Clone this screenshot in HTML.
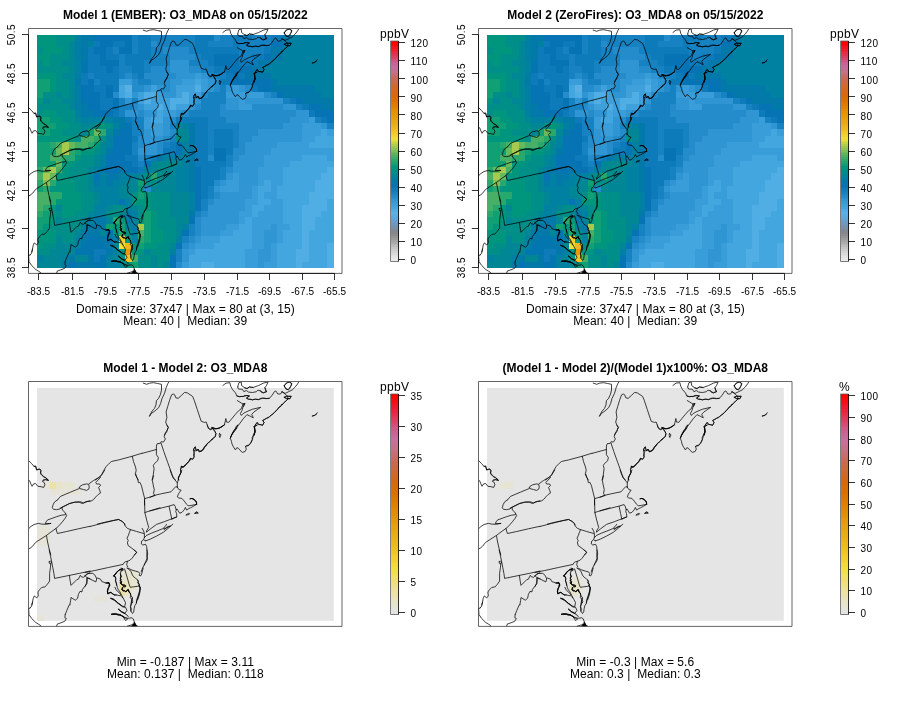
<!DOCTYPE html>
<html lang="en"><head><meta charset="utf-8"><title>O3_MDA8 model comparison</title>
<style>
html,body{margin:0;padding:0;background:#fff}
body{width:900px;height:706px;overflow:hidden}
svg{display:block;font-family:"Liberation Sans", sans-serif;fill:#000}
svg text{fill:#000}
</style></head><body>
<svg width="900" height="706" viewBox="0 0 900 706">
<rect width="900" height="706" fill="#fff"/>
<defs><clipPath id="clip"><rect x="28.5" y="28.5" width="313.5" height="244.9"/></clipPath></defs>
<g transform="translate(0,0)"><g shape-rendering="crispEdges"><rect x="37.00" y="34.90" width="19.44" height="6.79" fill="#00967e"/><rect x="55.94" y="34.90" width="19.44" height="6.79" fill="#008e88"/><rect x="74.89" y="34.90" width="6.81" height="6.79" fill="#0081a1"/><rect x="81.20" y="34.90" width="13.13" height="6.79" fill="#0379aa"/><rect x="93.83" y="34.90" width="38.39" height="6.79" fill="#0674b4"/><rect x="131.72" y="34.90" width="6.81" height="6.79" fill="#1782c2"/><rect x="138.04" y="34.90" width="13.13" height="6.79" fill="#0d7aba"/><rect x="150.67" y="34.90" width="44.70" height="6.79" fill="#1782c2"/><rect x="194.87" y="34.90" width="19.44" height="6.79" fill="#0d7aba"/><rect x="213.82" y="34.90" width="6.81" height="6.79" fill="#248cca"/><rect x="220.13" y="34.90" width="13.13" height="6.79" fill="#1782c2"/><rect x="232.76" y="34.90" width="19.44" height="6.79" fill="#0d7aba"/><rect x="251.71" y="34.90" width="19.44" height="6.79" fill="#1782c2"/><rect x="270.65" y="34.90" width="13.13" height="6.79" fill="#0d7aba"/><rect x="283.28" y="34.90" width="6.81" height="6.79" fill="#0379aa"/><rect x="289.60" y="34.90" width="44.70" height="6.79" fill="#0081a1"/><rect x="37.00" y="41.19" width="19.44" height="6.79" fill="#00967e"/><rect x="55.94" y="41.19" width="13.13" height="6.79" fill="#008e88"/><rect x="68.57" y="41.19" width="6.81" height="6.79" fill="#008694"/><rect x="74.89" y="41.19" width="6.81" height="6.79" fill="#027da6"/><rect x="81.20" y="41.19" width="6.81" height="6.79" fill="#0379aa"/><rect x="87.52" y="41.19" width="6.81" height="6.79" fill="#0081a1"/><rect x="93.83" y="41.19" width="6.81" height="6.79" fill="#0d7aba"/><rect x="100.15" y="41.19" width="13.13" height="6.79" fill="#0674b4"/><rect x="112.78" y="41.19" width="13.13" height="6.79" fill="#0d7aba"/><rect x="125.41" y="41.19" width="6.81" height="6.79" fill="#0674b4"/><rect x="131.72" y="41.19" width="6.81" height="6.79" fill="#1782c2"/><rect x="138.04" y="41.19" width="13.13" height="6.79" fill="#0d7aba"/><rect x="150.67" y="41.19" width="6.81" height="6.79" fill="#248cca"/><rect x="156.98" y="41.19" width="38.39" height="6.79" fill="#1782c2"/><rect x="194.87" y="41.19" width="13.13" height="6.79" fill="#0d7aba"/><rect x="207.50" y="41.19" width="25.76" height="6.79" fill="#1782c2"/><rect x="232.76" y="41.19" width="6.81" height="6.79" fill="#0d7aba"/><rect x="239.08" y="41.19" width="32.07" height="6.79" fill="#1782c2"/><rect x="270.65" y="41.19" width="13.13" height="6.79" fill="#0674b4"/><rect x="283.28" y="41.19" width="6.81" height="6.79" fill="#0379aa"/><rect x="289.60" y="41.19" width="44.70" height="6.79" fill="#0081a1"/><rect x="37.00" y="47.49" width="6.81" height="6.79" fill="#008e88"/><rect x="43.31" y="47.49" width="19.44" height="6.79" fill="#00967e"/><rect x="62.26" y="47.49" width="6.81" height="6.79" fill="#008e88"/><rect x="68.57" y="47.49" width="6.81" height="6.79" fill="#008694"/><rect x="74.89" y="47.49" width="6.81" height="6.79" fill="#027da6"/><rect x="81.20" y="47.49" width="6.81" height="6.79" fill="#0379aa"/><rect x="87.52" y="47.49" width="6.81" height="6.79" fill="#0d7aba"/><rect x="93.83" y="47.49" width="13.13" height="6.79" fill="#0674b4"/><rect x="106.46" y="47.49" width="6.81" height="6.79" fill="#0d7aba"/><rect x="112.78" y="47.49" width="6.81" height="6.79" fill="#1782c2"/><rect x="119.09" y="47.49" width="13.13" height="6.79" fill="#0674b4"/><rect x="131.72" y="47.49" width="6.81" height="6.79" fill="#1782c2"/><rect x="138.04" y="47.49" width="13.13" height="6.79" fill="#0d7aba"/><rect x="150.67" y="47.49" width="13.13" height="6.79" fill="#1782c2"/><rect x="163.30" y="47.49" width="25.76" height="6.79" fill="#248cca"/><rect x="188.56" y="47.49" width="6.81" height="6.79" fill="#1782c2"/><rect x="194.87" y="47.49" width="44.70" height="6.79" fill="#0d7aba"/><rect x="239.08" y="47.49" width="25.76" height="6.79" fill="#1782c2"/><rect x="264.34" y="47.49" width="6.81" height="6.79" fill="#0d7aba"/><rect x="270.65" y="47.49" width="13.13" height="6.79" fill="#0379aa"/><rect x="283.28" y="47.49" width="51.02" height="6.79" fill="#0081a1"/><rect x="37.00" y="53.78" width="13.13" height="6.79" fill="#00967e"/><rect x="49.63" y="53.78" width="19.44" height="6.79" fill="#008e88"/><rect x="68.57" y="53.78" width="6.81" height="6.79" fill="#008694"/><rect x="74.89" y="53.78" width="6.81" height="6.79" fill="#027da6"/><rect x="81.20" y="53.78" width="6.81" height="6.79" fill="#0379aa"/><rect x="87.52" y="53.78" width="13.13" height="6.79" fill="#0d7aba"/><rect x="100.15" y="53.78" width="6.81" height="6.79" fill="#0674b4"/><rect x="106.46" y="53.78" width="13.13" height="6.79" fill="#0d7aba"/><rect x="119.09" y="53.78" width="6.81" height="6.79" fill="#1782c2"/><rect x="125.41" y="53.78" width="25.76" height="6.79" fill="#0d7aba"/><rect x="150.67" y="53.78" width="19.44" height="6.79" fill="#1782c2"/><rect x="169.61" y="53.78" width="25.76" height="6.79" fill="#248cca"/><rect x="194.87" y="53.78" width="6.81" height="6.79" fill="#1782c2"/><rect x="201.19" y="53.78" width="13.13" height="6.79" fill="#0d7aba"/><rect x="213.82" y="53.78" width="25.76" height="6.79" fill="#0674b4"/><rect x="239.08" y="53.78" width="13.13" height="6.79" fill="#1782c2"/><rect x="251.71" y="53.78" width="13.13" height="6.79" fill="#0d7aba"/><rect x="264.34" y="53.78" width="6.81" height="6.79" fill="#0674b4"/><rect x="270.65" y="53.78" width="13.13" height="6.79" fill="#0379aa"/><rect x="283.28" y="53.78" width="51.02" height="6.79" fill="#0081a1"/><rect x="37.00" y="60.08" width="6.81" height="6.79" fill="#008e88"/><rect x="43.31" y="60.08" width="6.81" height="6.79" fill="#00967e"/><rect x="49.63" y="60.08" width="13.13" height="6.79" fill="#008e88"/><rect x="62.26" y="60.08" width="13.13" height="6.79" fill="#008694"/><rect x="74.89" y="60.08" width="6.81" height="6.79" fill="#0081a1"/><rect x="81.20" y="60.08" width="6.81" height="6.79" fill="#0476af"/><rect x="87.52" y="60.08" width="13.13" height="6.79" fill="#0d7aba"/><rect x="100.15" y="60.08" width="19.44" height="6.79" fill="#0674b4"/><rect x="119.09" y="60.08" width="6.81" height="6.79" fill="#1782c2"/><rect x="125.41" y="60.08" width="19.44" height="6.79" fill="#0d7aba"/><rect x="144.35" y="60.08" width="25.76" height="6.79" fill="#1782c2"/><rect x="169.61" y="60.08" width="19.44" height="6.79" fill="#3096d3"/><rect x="188.56" y="60.08" width="19.44" height="6.79" fill="#1782c2"/><rect x="207.50" y="60.08" width="6.81" height="6.79" fill="#0d7aba"/><rect x="213.82" y="60.08" width="25.76" height="6.79" fill="#0674b4"/><rect x="239.08" y="60.08" width="19.44" height="6.79" fill="#0d7aba"/><rect x="258.02" y="60.08" width="13.13" height="6.79" fill="#0379aa"/><rect x="270.65" y="60.08" width="63.65" height="6.79" fill="#0081a1"/><rect x="37.00" y="66.37" width="32.07" height="6.79" fill="#008e88"/><rect x="68.57" y="66.37" width="6.81" height="6.79" fill="#008694"/><rect x="74.89" y="66.37" width="6.81" height="6.79" fill="#0081a1"/><rect x="81.20" y="66.37" width="6.81" height="6.79" fill="#0476af"/><rect x="87.52" y="66.37" width="19.44" height="6.79" fill="#0d7aba"/><rect x="106.46" y="66.37" width="6.81" height="6.79" fill="#0674b4"/><rect x="112.78" y="66.37" width="6.81" height="6.79" fill="#0d7aba"/><rect x="119.09" y="66.37" width="13.13" height="6.79" fill="#1782c2"/><rect x="131.72" y="66.37" width="13.13" height="6.79" fill="#0d7aba"/><rect x="144.35" y="66.37" width="6.81" height="6.79" fill="#1782c2"/><rect x="150.67" y="66.37" width="19.44" height="6.79" fill="#248cca"/><rect x="169.61" y="66.37" width="19.44" height="6.79" fill="#3096d3"/><rect x="188.56" y="66.37" width="13.13" height="6.79" fill="#248cca"/><rect x="201.19" y="66.37" width="13.13" height="6.79" fill="#1782c2"/><rect x="213.82" y="66.37" width="13.13" height="6.79" fill="#0d7aba"/><rect x="226.45" y="66.37" width="25.76" height="6.79" fill="#0674b4"/><rect x="251.71" y="66.37" width="13.13" height="6.79" fill="#0379aa"/><rect x="264.34" y="66.37" width="69.96" height="6.79" fill="#0081a1"/><rect x="37.00" y="72.67" width="19.44" height="6.79" fill="#00967e"/><rect x="55.94" y="72.67" width="6.81" height="6.79" fill="#008e88"/><rect x="62.26" y="72.67" width="13.13" height="6.79" fill="#008694"/><rect x="74.89" y="72.67" width="6.81" height="6.79" fill="#027da6"/><rect x="81.20" y="72.67" width="6.81" height="6.79" fill="#0d7aba"/><rect x="87.52" y="72.67" width="6.81" height="6.79" fill="#1782c2"/><rect x="93.83" y="72.67" width="25.76" height="6.79" fill="#0d7aba"/><rect x="119.09" y="72.67" width="6.81" height="6.79" fill="#1782c2"/><rect x="125.41" y="72.67" width="6.81" height="6.79" fill="#248cca"/><rect x="131.72" y="72.67" width="6.81" height="6.79" fill="#1782c2"/><rect x="138.04" y="72.67" width="6.81" height="6.79" fill="#0d7aba"/><rect x="144.35" y="72.67" width="32.07" height="6.79" fill="#248cca"/><rect x="175.93" y="72.67" width="19.44" height="6.79" fill="#3096d3"/><rect x="194.87" y="72.67" width="6.81" height="6.79" fill="#399dd9"/><rect x="201.19" y="72.67" width="6.81" height="6.79" fill="#3096d3"/><rect x="207.50" y="72.67" width="6.81" height="6.79" fill="#248cca"/><rect x="213.82" y="72.67" width="13.13" height="6.79" fill="#1782c2"/><rect x="226.45" y="72.67" width="6.81" height="6.79" fill="#0d7aba"/><rect x="232.76" y="72.67" width="6.81" height="6.79" fill="#0674b4"/><rect x="239.08" y="72.67" width="6.81" height="6.79" fill="#0d7aba"/><rect x="245.39" y="72.67" width="25.76" height="6.79" fill="#0379aa"/><rect x="270.65" y="72.67" width="63.65" height="6.79" fill="#0081a1"/><rect x="37.00" y="78.96" width="13.13" height="6.79" fill="#10a074"/><rect x="49.63" y="78.96" width="6.81" height="6.79" fill="#00967e"/><rect x="55.94" y="78.96" width="13.13" height="6.79" fill="#008e88"/><rect x="68.57" y="78.96" width="6.81" height="6.79" fill="#008694"/><rect x="74.89" y="78.96" width="6.81" height="6.79" fill="#0379aa"/><rect x="81.20" y="78.96" width="6.81" height="6.79" fill="#0d7aba"/><rect x="87.52" y="78.96" width="6.81" height="6.79" fill="#0674b4"/><rect x="93.83" y="78.96" width="6.81" height="6.79" fill="#1782c2"/><rect x="100.15" y="78.96" width="19.44" height="6.79" fill="#0d7aba"/><rect x="119.09" y="78.96" width="13.13" height="6.79" fill="#399dd9"/><rect x="131.72" y="78.96" width="6.81" height="6.79" fill="#248cca"/><rect x="138.04" y="78.96" width="13.13" height="6.79" fill="#1782c2"/><rect x="150.67" y="78.96" width="19.44" height="6.79" fill="#248cca"/><rect x="169.61" y="78.96" width="13.13" height="6.79" fill="#3096d3"/><rect x="182.24" y="78.96" width="13.13" height="6.79" fill="#399dd9"/><rect x="194.87" y="78.96" width="6.81" height="6.79" fill="#44a6de"/><rect x="201.19" y="78.96" width="6.81" height="6.79" fill="#399dd9"/><rect x="207.50" y="78.96" width="6.81" height="6.79" fill="#3096d3"/><rect x="213.82" y="78.96" width="6.81" height="6.79" fill="#248cca"/><rect x="220.13" y="78.96" width="13.13" height="6.79" fill="#0d7aba"/><rect x="232.76" y="78.96" width="38.39" height="6.79" fill="#0674b4"/><rect x="270.65" y="78.96" width="6.81" height="6.79" fill="#0379aa"/><rect x="276.97" y="78.96" width="57.33" height="6.79" fill="#0081a1"/><rect x="37.00" y="85.26" width="13.13" height="6.79" fill="#10a074"/><rect x="49.63" y="85.26" width="6.81" height="6.79" fill="#00967e"/><rect x="55.94" y="85.26" width="13.13" height="6.79" fill="#008e88"/><rect x="68.57" y="85.26" width="6.81" height="6.79" fill="#008694"/><rect x="74.89" y="85.26" width="6.81" height="6.79" fill="#027da6"/><rect x="81.20" y="85.26" width="13.13" height="6.79" fill="#0674b4"/><rect x="93.83" y="85.26" width="13.13" height="6.79" fill="#0d7aba"/><rect x="106.46" y="85.26" width="6.81" height="6.79" fill="#0674b4"/><rect x="112.78" y="85.26" width="6.81" height="6.79" fill="#0d7aba"/><rect x="119.09" y="85.26" width="6.81" height="6.79" fill="#44a6de"/><rect x="125.41" y="85.26" width="6.81" height="6.79" fill="#5aafe5"/><rect x="131.72" y="85.26" width="13.13" height="6.79" fill="#248cca"/><rect x="144.35" y="85.26" width="6.81" height="6.79" fill="#3096d3"/><rect x="150.67" y="85.26" width="6.81" height="6.79" fill="#3ea1dc"/><rect x="156.98" y="85.26" width="6.81" height="6.79" fill="#3096d3"/><rect x="163.30" y="85.26" width="6.81" height="6.79" fill="#248cca"/><rect x="169.61" y="85.26" width="6.81" height="6.79" fill="#3096d3"/><rect x="175.93" y="85.26" width="19.44" height="6.79" fill="#3ea1dc"/><rect x="194.87" y="85.26" width="6.81" height="6.79" fill="#51aee4"/><rect x="201.19" y="85.26" width="6.81" height="6.79" fill="#399dd9"/><rect x="207.50" y="85.26" width="6.81" height="6.79" fill="#3096d3"/><rect x="213.82" y="85.26" width="6.81" height="6.79" fill="#248cca"/><rect x="220.13" y="85.26" width="6.81" height="6.79" fill="#1782c2"/><rect x="226.45" y="85.26" width="6.81" height="6.79" fill="#3096d3"/><rect x="232.76" y="85.26" width="6.81" height="6.79" fill="#399dd9"/><rect x="239.08" y="85.26" width="6.81" height="6.79" fill="#3096d3"/><rect x="245.39" y="85.26" width="6.81" height="6.79" fill="#248cca"/><rect x="251.71" y="85.26" width="6.81" height="6.79" fill="#0d7aba"/><rect x="258.02" y="85.26" width="13.13" height="6.79" fill="#0674b4"/><rect x="270.65" y="85.26" width="44.70" height="6.79" fill="#0379aa"/><rect x="314.86" y="85.26" width="19.44" height="6.79" fill="#0081a1"/><rect x="37.00" y="91.55" width="6.81" height="6.79" fill="#10a074"/><rect x="43.31" y="91.55" width="13.13" height="6.79" fill="#008e88"/><rect x="55.94" y="91.55" width="6.81" height="6.79" fill="#008694"/><rect x="62.26" y="91.55" width="6.81" height="6.79" fill="#008e88"/><rect x="68.57" y="91.55" width="6.81" height="6.79" fill="#008694"/><rect x="74.89" y="91.55" width="6.81" height="6.79" fill="#027da6"/><rect x="81.20" y="91.55" width="19.44" height="6.79" fill="#0674b4"/><rect x="100.15" y="91.55" width="6.81" height="6.79" fill="#0d7aba"/><rect x="106.46" y="91.55" width="6.81" height="6.79" fill="#0674b4"/><rect x="112.78" y="91.55" width="6.81" height="6.79" fill="#248cca"/><rect x="119.09" y="91.55" width="6.81" height="6.79" fill="#44a6de"/><rect x="125.41" y="91.55" width="6.81" height="6.79" fill="#51aee4"/><rect x="131.72" y="91.55" width="6.81" height="6.79" fill="#3096d3"/><rect x="138.04" y="91.55" width="6.81" height="6.79" fill="#3ea1dc"/><rect x="144.35" y="91.55" width="13.13" height="6.79" fill="#51aee4"/><rect x="156.98" y="91.55" width="6.81" height="6.79" fill="#3ea1dc"/><rect x="163.30" y="91.55" width="13.13" height="6.79" fill="#3096d3"/><rect x="175.93" y="91.55" width="6.81" height="6.79" fill="#3ea1dc"/><rect x="182.24" y="91.55" width="6.81" height="6.79" fill="#51aee4"/><rect x="188.56" y="91.55" width="13.13" height="6.79" fill="#3ea1dc"/><rect x="201.19" y="91.55" width="6.81" height="6.79" fill="#248cca"/><rect x="207.50" y="91.55" width="19.44" height="6.79" fill="#1782c2"/><rect x="226.45" y="91.55" width="38.39" height="6.79" fill="#399dd9"/><rect x="264.34" y="91.55" width="6.81" height="6.79" fill="#248cca"/><rect x="270.65" y="91.55" width="6.81" height="6.79" fill="#1782c2"/><rect x="276.97" y="91.55" width="6.81" height="6.79" fill="#0674b4"/><rect x="283.28" y="91.55" width="38.39" height="6.79" fill="#0379aa"/><rect x="321.17" y="91.55" width="13.13" height="6.79" fill="#0081a1"/><rect x="37.00" y="97.85" width="6.81" height="6.79" fill="#00967e"/><rect x="43.31" y="97.85" width="6.81" height="6.79" fill="#008694"/><rect x="49.63" y="97.85" width="13.13" height="6.79" fill="#008e88"/><rect x="62.26" y="97.85" width="13.13" height="6.79" fill="#008694"/><rect x="74.89" y="97.85" width="6.81" height="6.79" fill="#027da6"/><rect x="81.20" y="97.85" width="6.81" height="6.79" fill="#0476af"/><rect x="87.52" y="97.85" width="13.13" height="6.79" fill="#0674b4"/><rect x="100.15" y="97.85" width="13.13" height="6.79" fill="#0d7aba"/><rect x="112.78" y="97.85" width="6.81" height="6.79" fill="#0674b4"/><rect x="119.09" y="97.85" width="6.81" height="6.79" fill="#1782c2"/><rect x="125.41" y="97.85" width="6.81" height="6.79" fill="#3096d3"/><rect x="131.72" y="97.85" width="6.81" height="6.79" fill="#1782c2"/><rect x="138.04" y="97.85" width="6.81" height="6.79" fill="#3ea1dc"/><rect x="144.35" y="97.85" width="6.81" height="6.79" fill="#51aee4"/><rect x="150.67" y="97.85" width="19.44" height="6.79" fill="#3ea1dc"/><rect x="169.61" y="97.85" width="19.44" height="6.79" fill="#51aee4"/><rect x="188.56" y="97.85" width="6.81" height="6.79" fill="#3ea1dc"/><rect x="194.87" y="97.85" width="6.81" height="6.79" fill="#3096d3"/><rect x="201.19" y="97.85" width="25.76" height="6.79" fill="#1782c2"/><rect x="226.45" y="97.85" width="13.13" height="6.79" fill="#3096d3"/><rect x="239.08" y="97.85" width="6.81" height="6.79" fill="#399dd9"/><rect x="245.39" y="97.85" width="38.39" height="6.79" fill="#3096d3"/><rect x="283.28" y="97.85" width="6.81" height="6.79" fill="#1782c2"/><rect x="289.60" y="97.85" width="6.81" height="6.79" fill="#0d7aba"/><rect x="295.91" y="97.85" width="6.81" height="6.79" fill="#0674b4"/><rect x="302.23" y="97.85" width="32.07" height="6.79" fill="#0379aa"/><rect x="37.00" y="104.14" width="32.07" height="6.79" fill="#008e88"/><rect x="68.57" y="104.14" width="6.81" height="6.79" fill="#008694"/><rect x="74.89" y="104.14" width="6.81" height="6.79" fill="#027da6"/><rect x="81.20" y="104.14" width="6.81" height="6.79" fill="#0379aa"/><rect x="87.52" y="104.14" width="13.13" height="6.79" fill="#0674b4"/><rect x="100.15" y="104.14" width="13.13" height="6.79" fill="#0d7aba"/><rect x="112.78" y="104.14" width="6.81" height="6.79" fill="#0674b4"/><rect x="119.09" y="104.14" width="13.13" height="6.79" fill="#1782c2"/><rect x="131.72" y="104.14" width="6.81" height="6.79" fill="#248cca"/><rect x="138.04" y="104.14" width="6.81" height="6.79" fill="#3096d3"/><rect x="144.35" y="104.14" width="13.13" height="6.79" fill="#3ea1dc"/><rect x="156.98" y="104.14" width="6.81" height="6.79" fill="#51aee4"/><rect x="163.30" y="104.14" width="6.81" height="6.79" fill="#3ea1dc"/><rect x="169.61" y="104.14" width="6.81" height="6.79" fill="#51aee4"/><rect x="175.93" y="104.14" width="13.13" height="6.79" fill="#3ea1dc"/><rect x="188.56" y="104.14" width="6.81" height="6.79" fill="#3096d3"/><rect x="194.87" y="104.14" width="6.81" height="6.79" fill="#248cca"/><rect x="201.19" y="104.14" width="19.44" height="6.79" fill="#1782c2"/><rect x="220.13" y="104.14" width="6.81" height="6.79" fill="#248cca"/><rect x="226.45" y="104.14" width="13.13" height="6.79" fill="#3096d3"/><rect x="239.08" y="104.14" width="13.13" height="6.79" fill="#399dd9"/><rect x="251.71" y="104.14" width="32.07" height="6.79" fill="#248cca"/><rect x="283.28" y="104.14" width="13.13" height="6.79" fill="#3096d3"/><rect x="295.91" y="104.14" width="6.81" height="6.79" fill="#1782c2"/><rect x="302.23" y="104.14" width="6.81" height="6.79" fill="#0d7aba"/><rect x="308.54" y="104.14" width="13.13" height="6.79" fill="#0674b4"/><rect x="321.17" y="104.14" width="13.13" height="6.79" fill="#0379aa"/><rect x="37.00" y="110.44" width="6.81" height="6.79" fill="#008e88"/><rect x="43.31" y="110.44" width="13.13" height="6.79" fill="#00967e"/><rect x="55.94" y="110.44" width="19.44" height="6.79" fill="#008e88"/><rect x="74.89" y="110.44" width="6.81" height="6.79" fill="#0081a1"/><rect x="81.20" y="110.44" width="13.13" height="6.79" fill="#0379aa"/><rect x="93.83" y="110.44" width="19.44" height="6.79" fill="#0674b4"/><rect x="112.78" y="110.44" width="6.81" height="6.79" fill="#0d7aba"/><rect x="119.09" y="110.44" width="6.81" height="6.79" fill="#1782c2"/><rect x="125.41" y="110.44" width="13.13" height="6.79" fill="#3096d3"/><rect x="138.04" y="110.44" width="6.81" height="6.79" fill="#248cca"/><rect x="144.35" y="110.44" width="13.13" height="6.79" fill="#3096d3"/><rect x="156.98" y="110.44" width="6.81" height="6.79" fill="#44a6de"/><rect x="163.30" y="110.44" width="13.13" height="6.79" fill="#399dd9"/><rect x="175.93" y="110.44" width="6.81" height="6.79" fill="#3096d3"/><rect x="182.24" y="110.44" width="6.81" height="6.79" fill="#248cca"/><rect x="188.56" y="110.44" width="32.07" height="6.79" fill="#1782c2"/><rect x="220.13" y="110.44" width="76.28" height="6.79" fill="#248cca"/><rect x="295.91" y="110.44" width="13.13" height="6.79" fill="#3096d3"/><rect x="308.54" y="110.44" width="6.81" height="6.79" fill="#0d7aba"/><rect x="314.86" y="110.44" width="19.44" height="6.79" fill="#0674b4"/><rect x="37.00" y="116.73" width="13.13" height="6.79" fill="#10a074"/><rect x="49.63" y="116.73" width="13.13" height="6.79" fill="#00967e"/><rect x="62.26" y="116.73" width="13.13" height="6.79" fill="#008e88"/><rect x="74.89" y="116.73" width="6.81" height="6.79" fill="#008694"/><rect x="81.20" y="116.73" width="19.44" height="6.79" fill="#0081a1"/><rect x="100.15" y="116.73" width="6.81" height="6.79" fill="#008694"/><rect x="106.46" y="116.73" width="6.81" height="6.79" fill="#0081a1"/><rect x="112.78" y="116.73" width="13.13" height="6.79" fill="#0379aa"/><rect x="125.41" y="116.73" width="6.81" height="6.79" fill="#0d7aba"/><rect x="131.72" y="116.73" width="13.13" height="6.79" fill="#1782c2"/><rect x="144.35" y="116.73" width="6.81" height="6.79" fill="#399dd9"/><rect x="150.67" y="116.73" width="13.13" height="6.79" fill="#44a6de"/><rect x="163.30" y="116.73" width="6.81" height="6.79" fill="#3096d3"/><rect x="169.61" y="116.73" width="6.81" height="6.79" fill="#248cca"/><rect x="175.93" y="116.73" width="32.07" height="6.79" fill="#0d7aba"/><rect x="207.50" y="116.73" width="19.44" height="6.79" fill="#1782c2"/><rect x="226.45" y="116.73" width="63.65" height="6.79" fill="#248cca"/><rect x="289.60" y="116.73" width="19.44" height="6.79" fill="#3096d3"/><rect x="308.54" y="116.73" width="6.81" height="6.79" fill="#399dd9"/><rect x="314.86" y="116.73" width="6.81" height="6.79" fill="#1782c2"/><rect x="321.17" y="116.73" width="6.81" height="6.79" fill="#0d7aba"/><rect x="327.49" y="116.73" width="6.81" height="6.79" fill="#0674b4"/><rect x="37.00" y="123.02" width="19.44" height="6.79" fill="#10a074"/><rect x="55.94" y="123.02" width="13.13" height="6.79" fill="#00967e"/><rect x="68.57" y="123.02" width="13.13" height="6.79" fill="#008e88"/><rect x="81.20" y="123.02" width="13.13" height="6.79" fill="#008694"/><rect x="93.83" y="123.02" width="6.81" height="6.79" fill="#008e88"/><rect x="100.15" y="123.02" width="6.81" height="6.79" fill="#00967e"/><rect x="106.46" y="123.02" width="6.81" height="6.79" fill="#008e88"/><rect x="112.78" y="123.02" width="6.81" height="6.79" fill="#0081a1"/><rect x="119.09" y="123.02" width="6.81" height="6.79" fill="#0379aa"/><rect x="125.41" y="123.02" width="6.81" height="6.79" fill="#0674b4"/><rect x="131.72" y="123.02" width="13.13" height="6.79" fill="#1782c2"/><rect x="144.35" y="123.02" width="19.44" height="6.79" fill="#399dd9"/><rect x="163.30" y="123.02" width="6.81" height="6.79" fill="#3096d3"/><rect x="169.61" y="123.02" width="6.81" height="6.79" fill="#1782c2"/><rect x="175.93" y="123.02" width="6.81" height="6.79" fill="#008694"/><rect x="182.24" y="123.02" width="6.81" height="6.79" fill="#0081a1"/><rect x="188.56" y="123.02" width="6.81" height="6.79" fill="#0379aa"/><rect x="194.87" y="123.02" width="13.13" height="6.79" fill="#0d7aba"/><rect x="207.50" y="123.02" width="32.07" height="6.79" fill="#1782c2"/><rect x="239.08" y="123.02" width="44.70" height="6.79" fill="#248cca"/><rect x="283.28" y="123.02" width="19.44" height="6.79" fill="#3096d3"/><rect x="302.23" y="123.02" width="19.44" height="6.79" fill="#399dd9"/><rect x="321.17" y="123.02" width="6.81" height="6.79" fill="#3096d3"/><rect x="327.49" y="123.02" width="6.81" height="6.79" fill="#1782c2"/><rect x="37.00" y="129.32" width="13.13" height="6.79" fill="#10a074"/><rect x="49.63" y="129.32" width="13.13" height="6.79" fill="#00967e"/><rect x="62.26" y="129.32" width="19.44" height="6.79" fill="#008e88"/><rect x="81.20" y="129.32" width="6.81" height="6.79" fill="#008694"/><rect x="87.52" y="129.32" width="6.81" height="6.79" fill="#10a074"/><rect x="93.83" y="129.32" width="6.81" height="6.79" fill="#68b85c"/><rect x="100.15" y="129.32" width="6.81" height="6.79" fill="#28a86c"/><rect x="106.46" y="129.32" width="6.81" height="6.79" fill="#008694"/><rect x="112.78" y="129.32" width="6.81" height="6.79" fill="#0379aa"/><rect x="119.09" y="129.32" width="13.13" height="6.79" fill="#0674b4"/><rect x="131.72" y="129.32" width="13.13" height="6.79" fill="#1782c2"/><rect x="144.35" y="129.32" width="6.81" height="6.79" fill="#3096d3"/><rect x="150.67" y="129.32" width="13.13" height="6.79" fill="#399dd9"/><rect x="163.30" y="129.32" width="6.81" height="6.79" fill="#3096d3"/><rect x="169.61" y="129.32" width="6.81" height="6.79" fill="#248cca"/><rect x="175.93" y="129.32" width="13.13" height="6.79" fill="#008694"/><rect x="188.56" y="129.32" width="6.81" height="6.79" fill="#0379aa"/><rect x="194.87" y="129.32" width="13.13" height="6.79" fill="#0d7aba"/><rect x="207.50" y="129.32" width="6.81" height="6.79" fill="#1782c2"/><rect x="213.82" y="129.32" width="19.44" height="6.79" fill="#0d7aba"/><rect x="232.76" y="129.32" width="6.81" height="6.79" fill="#1782c2"/><rect x="239.08" y="129.32" width="19.44" height="6.79" fill="#248cca"/><rect x="258.02" y="129.32" width="44.70" height="6.79" fill="#3096d3"/><rect x="302.23" y="129.32" width="19.44" height="6.79" fill="#399dd9"/><rect x="321.17" y="129.32" width="6.81" height="6.79" fill="#44a6de"/><rect x="327.49" y="129.32" width="6.81" height="6.79" fill="#399dd9"/><rect x="37.00" y="135.61" width="38.39" height="6.79" fill="#00967e"/><rect x="74.89" y="135.61" width="6.81" height="6.79" fill="#008e88"/><rect x="81.20" y="135.61" width="13.13" height="6.79" fill="#48b066"/><rect x="93.83" y="135.61" width="6.81" height="6.79" fill="#28a86c"/><rect x="100.15" y="135.61" width="6.81" height="6.79" fill="#008e88"/><rect x="106.46" y="135.61" width="6.81" height="6.79" fill="#0081a1"/><rect x="112.78" y="135.61" width="19.44" height="6.79" fill="#0674b4"/><rect x="131.72" y="135.61" width="6.81" height="6.79" fill="#0d7aba"/><rect x="138.04" y="135.61" width="6.81" height="6.79" fill="#248cca"/><rect x="144.35" y="135.61" width="19.44" height="6.79" fill="#3096d3"/><rect x="163.30" y="135.61" width="6.81" height="6.79" fill="#248cca"/><rect x="169.61" y="135.61" width="6.81" height="6.79" fill="#1782c2"/><rect x="175.93" y="135.61" width="6.81" height="6.79" fill="#008e88"/><rect x="182.24" y="135.61" width="6.81" height="6.79" fill="#008694"/><rect x="188.56" y="135.61" width="6.81" height="6.79" fill="#0379aa"/><rect x="194.87" y="135.61" width="13.13" height="6.79" fill="#0d7aba"/><rect x="207.50" y="135.61" width="6.81" height="6.79" fill="#1782c2"/><rect x="213.82" y="135.61" width="19.44" height="6.79" fill="#0d7aba"/><rect x="232.76" y="135.61" width="6.81" height="6.79" fill="#1782c2"/><rect x="239.08" y="135.61" width="13.13" height="6.79" fill="#248cca"/><rect x="251.71" y="135.61" width="51.02" height="6.79" fill="#3096d3"/><rect x="302.23" y="135.61" width="13.13" height="6.79" fill="#399dd9"/><rect x="314.86" y="135.61" width="19.44" height="6.79" fill="#44a6de"/><rect x="37.00" y="141.91" width="13.13" height="6.79" fill="#10a074"/><rect x="49.63" y="141.91" width="6.81" height="6.79" fill="#28a86c"/><rect x="55.94" y="141.91" width="6.81" height="6.79" fill="#48b066"/><rect x="62.26" y="141.91" width="6.81" height="6.79" fill="#a8ca4c"/><rect x="68.57" y="141.91" width="6.81" height="6.79" fill="#68b85c"/><rect x="74.89" y="141.91" width="13.13" height="6.79" fill="#48b066"/><rect x="87.52" y="141.91" width="6.81" height="6.79" fill="#28a86c"/><rect x="93.83" y="141.91" width="6.81" height="6.79" fill="#00967e"/><rect x="100.15" y="141.91" width="6.81" height="6.79" fill="#008694"/><rect x="106.46" y="141.91" width="6.81" height="6.79" fill="#0081a1"/><rect x="112.78" y="141.91" width="19.44" height="6.79" fill="#0674b4"/><rect x="131.72" y="141.91" width="6.81" height="6.79" fill="#1782c2"/><rect x="138.04" y="141.91" width="6.81" height="6.79" fill="#248cca"/><rect x="144.35" y="141.91" width="13.13" height="6.79" fill="#3096d3"/><rect x="156.98" y="141.91" width="6.81" height="6.79" fill="#248cca"/><rect x="163.30" y="141.91" width="6.81" height="6.79" fill="#1782c2"/><rect x="169.61" y="141.91" width="6.81" height="6.79" fill="#0d7aba"/><rect x="175.93" y="141.91" width="6.81" height="6.79" fill="#0674b4"/><rect x="182.24" y="141.91" width="6.81" height="6.79" fill="#0081a1"/><rect x="188.56" y="141.91" width="6.81" height="6.79" fill="#0379aa"/><rect x="194.87" y="141.91" width="13.13" height="6.79" fill="#0d7aba"/><rect x="207.50" y="141.91" width="6.81" height="6.79" fill="#1782c2"/><rect x="213.82" y="141.91" width="19.44" height="6.79" fill="#0d7aba"/><rect x="232.76" y="141.91" width="6.81" height="6.79" fill="#1782c2"/><rect x="239.08" y="141.91" width="6.81" height="6.79" fill="#248cca"/><rect x="245.39" y="141.91" width="32.07" height="6.79" fill="#3096d3"/><rect x="276.97" y="141.91" width="32.07" height="6.79" fill="#399dd9"/><rect x="308.54" y="141.91" width="25.76" height="6.79" fill="#44a6de"/><rect x="37.00" y="148.20" width="19.44" height="6.79" fill="#10a074"/><rect x="55.94" y="148.20" width="6.81" height="6.79" fill="#68b85c"/><rect x="62.26" y="148.20" width="6.81" height="6.79" fill="#a8ca4c"/><rect x="68.57" y="148.20" width="6.81" height="6.79" fill="#28a86c"/><rect x="74.89" y="148.20" width="6.81" height="6.79" fill="#10a074"/><rect x="81.20" y="148.20" width="13.13" height="6.79" fill="#00967e"/><rect x="93.83" y="148.20" width="6.81" height="6.79" fill="#008e88"/><rect x="100.15" y="148.20" width="6.81" height="6.79" fill="#008694"/><rect x="106.46" y="148.20" width="6.81" height="6.79" fill="#0379aa"/><rect x="112.78" y="148.20" width="19.44" height="6.79" fill="#0674b4"/><rect x="131.72" y="148.20" width="6.81" height="6.79" fill="#1782c2"/><rect x="138.04" y="148.20" width="19.44" height="6.79" fill="#3096d3"/><rect x="156.98" y="148.20" width="6.81" height="6.79" fill="#248cca"/><rect x="163.30" y="148.20" width="13.13" height="6.79" fill="#0d7aba"/><rect x="175.93" y="148.20" width="6.81" height="6.79" fill="#0674b4"/><rect x="182.24" y="148.20" width="6.81" height="6.79" fill="#0081a1"/><rect x="188.56" y="148.20" width="6.81" height="6.79" fill="#0379aa"/><rect x="194.87" y="148.20" width="13.13" height="6.79" fill="#0d7aba"/><rect x="207.50" y="148.20" width="6.81" height="6.79" fill="#1782c2"/><rect x="213.82" y="148.20" width="13.13" height="6.79" fill="#0674b4"/><rect x="226.45" y="148.20" width="6.81" height="6.79" fill="#0d7aba"/><rect x="232.76" y="148.20" width="13.13" height="6.79" fill="#248cca"/><rect x="245.39" y="148.20" width="25.76" height="6.79" fill="#3096d3"/><rect x="270.65" y="148.20" width="63.65" height="6.79" fill="#399dd9"/><rect x="37.00" y="154.50" width="13.13" height="6.79" fill="#10a074"/><rect x="49.63" y="154.50" width="13.13" height="6.79" fill="#48b066"/><rect x="62.26" y="154.50" width="13.13" height="6.79" fill="#28a86c"/><rect x="74.89" y="154.50" width="6.81" height="6.79" fill="#00967e"/><rect x="81.20" y="154.50" width="13.13" height="6.79" fill="#008e88"/><rect x="93.83" y="154.50" width="6.81" height="6.79" fill="#008694"/><rect x="100.15" y="154.50" width="6.81" height="6.79" fill="#0081a1"/><rect x="106.46" y="154.50" width="19.44" height="6.79" fill="#0674b4"/><rect x="125.41" y="154.50" width="13.13" height="6.79" fill="#0d7aba"/><rect x="138.04" y="154.50" width="6.81" height="6.79" fill="#248cca"/><rect x="144.35" y="154.50" width="6.81" height="6.79" fill="#1782c2"/><rect x="150.67" y="154.50" width="6.81" height="6.79" fill="#0d7aba"/><rect x="156.98" y="154.50" width="6.81" height="6.79" fill="#0379aa"/><rect x="163.30" y="154.50" width="25.76" height="6.79" fill="#0081a1"/><rect x="188.56" y="154.50" width="6.81" height="6.79" fill="#0379aa"/><rect x="194.87" y="154.50" width="13.13" height="6.79" fill="#0d7aba"/><rect x="207.50" y="154.50" width="6.81" height="6.79" fill="#248cca"/><rect x="213.82" y="154.50" width="13.13" height="6.79" fill="#0674b4"/><rect x="226.45" y="154.50" width="6.81" height="6.79" fill="#1782c2"/><rect x="232.76" y="154.50" width="6.81" height="6.79" fill="#248cca"/><rect x="239.08" y="154.50" width="25.76" height="6.79" fill="#3096d3"/><rect x="264.34" y="154.50" width="38.39" height="6.79" fill="#399dd9"/><rect x="302.23" y="154.50" width="25.76" height="6.79" fill="#44a6de"/><rect x="327.49" y="154.50" width="6.81" height="6.79" fill="#399dd9"/><rect x="37.00" y="160.79" width="19.44" height="6.79" fill="#10a074"/><rect x="55.94" y="160.79" width="6.81" height="6.79" fill="#68b85c"/><rect x="62.26" y="160.79" width="13.13" height="6.79" fill="#00967e"/><rect x="74.89" y="160.79" width="19.44" height="6.79" fill="#008e88"/><rect x="93.83" y="160.79" width="6.81" height="6.79" fill="#008694"/><rect x="100.15" y="160.79" width="6.81" height="6.79" fill="#0081a1"/><rect x="106.46" y="160.79" width="25.76" height="6.79" fill="#0674b4"/><rect x="131.72" y="160.79" width="6.81" height="6.79" fill="#0d7aba"/><rect x="138.04" y="160.79" width="6.81" height="6.79" fill="#1782c2"/><rect x="144.35" y="160.79" width="6.81" height="6.79" fill="#0674b4"/><rect x="150.67" y="160.79" width="6.81" height="6.79" fill="#008694"/><rect x="156.98" y="160.79" width="19.44" height="6.79" fill="#008a8e"/><rect x="175.93" y="160.79" width="6.81" height="6.79" fill="#008694"/><rect x="182.24" y="160.79" width="6.81" height="6.79" fill="#0081a1"/><rect x="188.56" y="160.79" width="6.81" height="6.79" fill="#0379aa"/><rect x="194.87" y="160.79" width="32.07" height="6.79" fill="#0d7aba"/><rect x="226.45" y="160.79" width="6.81" height="6.79" fill="#1782c2"/><rect x="232.76" y="160.79" width="32.07" height="6.79" fill="#3096d3"/><rect x="264.34" y="160.79" width="25.76" height="6.79" fill="#399dd9"/><rect x="289.60" y="160.79" width="44.70" height="6.79" fill="#44a6de"/><rect x="37.00" y="167.09" width="6.81" height="6.79" fill="#28a86c"/><rect x="43.31" y="167.09" width="6.81" height="6.79" fill="#68b85c"/><rect x="49.63" y="167.09" width="6.81" height="6.79" fill="#a8ca4c"/><rect x="55.94" y="167.09" width="6.81" height="6.79" fill="#48b066"/><rect x="62.26" y="167.09" width="6.81" height="6.79" fill="#00967e"/><rect x="68.57" y="167.09" width="19.44" height="6.79" fill="#008e88"/><rect x="87.52" y="167.09" width="6.81" height="6.79" fill="#008694"/><rect x="93.83" y="167.09" width="6.81" height="6.79" fill="#0081a1"/><rect x="100.15" y="167.09" width="6.81" height="6.79" fill="#0379aa"/><rect x="106.46" y="167.09" width="13.13" height="6.79" fill="#0674b4"/><rect x="119.09" y="167.09" width="6.81" height="6.79" fill="#0379aa"/><rect x="125.41" y="167.09" width="13.13" height="6.79" fill="#0674b4"/><rect x="138.04" y="167.09" width="6.81" height="6.79" fill="#0d7aba"/><rect x="144.35" y="167.09" width="6.81" height="6.79" fill="#0081a1"/><rect x="150.67" y="167.09" width="6.81" height="6.79" fill="#008694"/><rect x="156.98" y="167.09" width="13.13" height="6.79" fill="#008a8e"/><rect x="169.61" y="167.09" width="6.81" height="6.79" fill="#008694"/><rect x="175.93" y="167.09" width="13.13" height="6.79" fill="#0081a1"/><rect x="188.56" y="167.09" width="6.81" height="6.79" fill="#0379aa"/><rect x="194.87" y="167.09" width="6.81" height="6.79" fill="#0674b4"/><rect x="201.19" y="167.09" width="19.44" height="6.79" fill="#0d7aba"/><rect x="220.13" y="167.09" width="6.81" height="6.79" fill="#1782c2"/><rect x="226.45" y="167.09" width="6.81" height="6.79" fill="#248cca"/><rect x="232.76" y="167.09" width="25.76" height="6.79" fill="#3096d3"/><rect x="258.02" y="167.09" width="25.76" height="6.79" fill="#399dd9"/><rect x="283.28" y="167.09" width="44.70" height="6.79" fill="#44a6de"/><rect x="327.49" y="167.09" width="6.81" height="6.79" fill="#51aee4"/><rect x="37.00" y="173.38" width="6.81" height="6.79" fill="#48b066"/><rect x="43.31" y="173.38" width="6.81" height="6.79" fill="#a8ca4c"/><rect x="49.63" y="173.38" width="6.81" height="6.79" fill="#68b85c"/><rect x="55.94" y="173.38" width="13.13" height="6.79" fill="#00967e"/><rect x="68.57" y="173.38" width="19.44" height="6.79" fill="#008e88"/><rect x="87.52" y="173.38" width="6.81" height="6.79" fill="#008694"/><rect x="93.83" y="173.38" width="6.81" height="6.79" fill="#0674b4"/><rect x="100.15" y="173.38" width="6.81" height="6.79" fill="#0081a1"/><rect x="106.46" y="173.38" width="13.13" height="6.79" fill="#0379aa"/><rect x="119.09" y="173.38" width="19.44" height="6.79" fill="#0081a1"/><rect x="138.04" y="173.38" width="6.81" height="6.79" fill="#008694"/><rect x="144.35" y="173.38" width="6.81" height="6.79" fill="#008e88"/><rect x="150.67" y="173.38" width="6.81" height="6.79" fill="#28a86c"/><rect x="156.98" y="173.38" width="6.81" height="6.79" fill="#008e88"/><rect x="163.30" y="173.38" width="13.13" height="6.79" fill="#008694"/><rect x="175.93" y="173.38" width="13.13" height="6.79" fill="#0081a1"/><rect x="188.56" y="173.38" width="6.81" height="6.79" fill="#0379aa"/><rect x="194.87" y="173.38" width="6.81" height="6.79" fill="#0674b4"/><rect x="201.19" y="173.38" width="19.44" height="6.79" fill="#0d7aba"/><rect x="220.13" y="173.38" width="6.81" height="6.79" fill="#1782c2"/><rect x="226.45" y="173.38" width="6.81" height="6.79" fill="#3096d3"/><rect x="232.76" y="173.38" width="6.81" height="6.79" fill="#399dd9"/><rect x="239.08" y="173.38" width="19.44" height="6.79" fill="#3096d3"/><rect x="258.02" y="173.38" width="25.76" height="6.79" fill="#399dd9"/><rect x="283.28" y="173.38" width="38.39" height="6.79" fill="#44a6de"/><rect x="321.17" y="173.38" width="13.13" height="6.79" fill="#51aee4"/><rect x="37.00" y="179.68" width="6.81" height="6.79" fill="#28a86c"/><rect x="43.31" y="179.68" width="6.81" height="6.79" fill="#88c054"/><rect x="49.63" y="179.68" width="6.81" height="6.79" fill="#28a86c"/><rect x="55.94" y="179.68" width="19.44" height="6.79" fill="#00967e"/><rect x="74.89" y="179.68" width="13.13" height="6.79" fill="#008e88"/><rect x="87.52" y="179.68" width="6.81" height="6.79" fill="#008694"/><rect x="93.83" y="179.68" width="6.81" height="6.79" fill="#0379aa"/><rect x="100.15" y="179.68" width="6.81" height="6.79" fill="#0081a1"/><rect x="106.46" y="179.68" width="6.81" height="6.79" fill="#0379aa"/><rect x="112.78" y="179.68" width="13.13" height="6.79" fill="#0081a1"/><rect x="125.41" y="179.68" width="13.13" height="6.79" fill="#008694"/><rect x="138.04" y="179.68" width="6.81" height="6.79" fill="#10a074"/><rect x="144.35" y="179.68" width="13.13" height="6.79" fill="#008e88"/><rect x="156.98" y="179.68" width="19.44" height="6.79" fill="#008694"/><rect x="175.93" y="179.68" width="13.13" height="6.79" fill="#0081a1"/><rect x="188.56" y="179.68" width="6.81" height="6.79" fill="#0379aa"/><rect x="194.87" y="179.68" width="6.81" height="6.79" fill="#0674b4"/><rect x="201.19" y="179.68" width="13.13" height="6.79" fill="#0d7aba"/><rect x="213.82" y="179.68" width="6.81" height="6.79" fill="#248cca"/><rect x="220.13" y="179.68" width="6.81" height="6.79" fill="#3096d3"/><rect x="226.45" y="179.68" width="13.13" height="6.79" fill="#399dd9"/><rect x="239.08" y="179.68" width="19.44" height="6.79" fill="#3096d3"/><rect x="258.02" y="179.68" width="6.81" height="6.79" fill="#399dd9"/><rect x="264.34" y="179.68" width="6.81" height="6.79" fill="#44a6de"/><rect x="270.65" y="179.68" width="13.13" height="6.79" fill="#399dd9"/><rect x="283.28" y="179.68" width="32.07" height="6.79" fill="#44a6de"/><rect x="314.86" y="179.68" width="19.44" height="6.79" fill="#51aee4"/><rect x="37.00" y="185.97" width="6.81" height="6.79" fill="#10a074"/><rect x="43.31" y="185.97" width="6.81" height="6.79" fill="#28a86c"/><rect x="49.63" y="185.97" width="25.76" height="6.79" fill="#00967e"/><rect x="74.89" y="185.97" width="13.13" height="6.79" fill="#008e88"/><rect x="87.52" y="185.97" width="6.81" height="6.79" fill="#008694"/><rect x="93.83" y="185.97" width="25.76" height="6.79" fill="#0081a1"/><rect x="119.09" y="185.97" width="19.44" height="6.79" fill="#008694"/><rect x="138.04" y="185.97" width="6.81" height="6.79" fill="#00967e"/><rect x="144.35" y="185.97" width="6.81" height="6.79" fill="#248cca"/><rect x="150.67" y="185.97" width="25.76" height="6.79" fill="#008694"/><rect x="175.93" y="185.97" width="13.13" height="6.79" fill="#0081a1"/><rect x="188.56" y="185.97" width="6.81" height="6.79" fill="#0379aa"/><rect x="194.87" y="185.97" width="6.81" height="6.79" fill="#0674b4"/><rect x="201.19" y="185.97" width="6.81" height="6.79" fill="#0d7aba"/><rect x="207.50" y="185.97" width="6.81" height="6.79" fill="#1782c2"/><rect x="213.82" y="185.97" width="6.81" height="6.79" fill="#3096d3"/><rect x="220.13" y="185.97" width="19.44" height="6.79" fill="#399dd9"/><rect x="239.08" y="185.97" width="13.13" height="6.79" fill="#3096d3"/><rect x="251.71" y="185.97" width="6.81" height="6.79" fill="#399dd9"/><rect x="258.02" y="185.97" width="13.13" height="6.79" fill="#44a6de"/><rect x="270.65" y="185.97" width="6.81" height="6.79" fill="#399dd9"/><rect x="276.97" y="185.97" width="38.39" height="6.79" fill="#44a6de"/><rect x="314.86" y="185.97" width="19.44" height="6.79" fill="#51aee4"/><rect x="37.00" y="192.26" width="13.13" height="6.79" fill="#48b066"/><rect x="49.63" y="192.26" width="13.13" height="6.79" fill="#28a86c"/><rect x="62.26" y="192.26" width="19.44" height="6.79" fill="#00967e"/><rect x="81.20" y="192.26" width="13.13" height="6.79" fill="#008e88"/><rect x="93.83" y="192.26" width="6.81" height="6.79" fill="#008694"/><rect x="100.15" y="192.26" width="19.44" height="6.79" fill="#0081a1"/><rect x="119.09" y="192.26" width="13.13" height="6.79" fill="#008694"/><rect x="131.72" y="192.26" width="6.81" height="6.79" fill="#008e88"/><rect x="138.04" y="192.26" width="6.81" height="6.79" fill="#10a074"/><rect x="144.35" y="192.26" width="6.81" height="6.79" fill="#00967e"/><rect x="150.67" y="192.26" width="19.44" height="6.79" fill="#008e88"/><rect x="169.61" y="192.26" width="19.44" height="6.79" fill="#008694"/><rect x="188.56" y="192.26" width="6.81" height="6.79" fill="#0081a1"/><rect x="194.87" y="192.26" width="6.81" height="6.79" fill="#0674b4"/><rect x="201.19" y="192.26" width="6.81" height="6.79" fill="#0d7aba"/><rect x="207.50" y="192.26" width="6.81" height="6.79" fill="#1782c2"/><rect x="213.82" y="192.26" width="6.81" height="6.79" fill="#248cca"/><rect x="220.13" y="192.26" width="32.07" height="6.79" fill="#3096d3"/><rect x="251.71" y="192.26" width="6.81" height="6.79" fill="#399dd9"/><rect x="258.02" y="192.26" width="6.81" height="6.79" fill="#44a6de"/><rect x="264.34" y="192.26" width="13.13" height="6.79" fill="#399dd9"/><rect x="276.97" y="192.26" width="32.07" height="6.79" fill="#44a6de"/><rect x="308.54" y="192.26" width="25.76" height="6.79" fill="#51aee4"/><rect x="37.00" y="198.56" width="13.13" height="6.79" fill="#48b066"/><rect x="49.63" y="198.56" width="6.81" height="6.79" fill="#28a86c"/><rect x="55.94" y="198.56" width="25.76" height="6.79" fill="#00967e"/><rect x="81.20" y="198.56" width="13.13" height="6.79" fill="#008e88"/><rect x="93.83" y="198.56" width="6.81" height="6.79" fill="#008694"/><rect x="100.15" y="198.56" width="19.44" height="6.79" fill="#0081a1"/><rect x="119.09" y="198.56" width="6.81" height="6.79" fill="#0674b4"/><rect x="125.41" y="198.56" width="6.81" height="6.79" fill="#0081a1"/><rect x="131.72" y="198.56" width="19.44" height="6.79" fill="#00967e"/><rect x="150.67" y="198.56" width="19.44" height="6.79" fill="#008e88"/><rect x="169.61" y="198.56" width="19.44" height="6.79" fill="#008694"/><rect x="188.56" y="198.56" width="6.81" height="6.79" fill="#0081a1"/><rect x="194.87" y="198.56" width="6.81" height="6.79" fill="#0674b4"/><rect x="201.19" y="198.56" width="6.81" height="6.79" fill="#1782c2"/><rect x="207.50" y="198.56" width="6.81" height="6.79" fill="#248cca"/><rect x="213.82" y="198.56" width="32.07" height="6.79" fill="#3096d3"/><rect x="245.39" y="198.56" width="13.13" height="6.79" fill="#399dd9"/><rect x="258.02" y="198.56" width="13.13" height="6.79" fill="#44a6de"/><rect x="270.65" y="198.56" width="13.13" height="6.79" fill="#399dd9"/><rect x="283.28" y="198.56" width="25.76" height="6.79" fill="#44a6de"/><rect x="308.54" y="198.56" width="19.44" height="6.79" fill="#51aee4"/><rect x="327.49" y="198.56" width="6.81" height="6.79" fill="#44a6de"/><rect x="37.00" y="204.85" width="6.81" height="6.79" fill="#48b066"/><rect x="43.31" y="204.85" width="6.81" height="6.79" fill="#28a86c"/><rect x="49.63" y="204.85" width="6.81" height="6.79" fill="#00967e"/><rect x="55.94" y="204.85" width="6.81" height="6.79" fill="#008694"/><rect x="62.26" y="204.85" width="19.44" height="6.79" fill="#00967e"/><rect x="81.20" y="204.85" width="13.13" height="6.79" fill="#008e88"/><rect x="93.83" y="204.85" width="13.13" height="6.79" fill="#0081a1"/><rect x="106.46" y="204.85" width="6.81" height="6.79" fill="#008694"/><rect x="112.78" y="204.85" width="13.13" height="6.79" fill="#008e88"/><rect x="125.41" y="204.85" width="6.81" height="6.79" fill="#0081a1"/><rect x="131.72" y="204.85" width="6.81" height="6.79" fill="#008694"/><rect x="138.04" y="204.85" width="6.81" height="6.79" fill="#008e88"/><rect x="144.35" y="204.85" width="6.81" height="6.79" fill="#00967e"/><rect x="150.67" y="204.85" width="19.44" height="6.79" fill="#008e88"/><rect x="169.61" y="204.85" width="19.44" height="6.79" fill="#008694"/><rect x="188.56" y="204.85" width="6.81" height="6.79" fill="#0081a1"/><rect x="194.87" y="204.85" width="6.81" height="6.79" fill="#0674b4"/><rect x="201.19" y="204.85" width="6.81" height="6.79" fill="#1782c2"/><rect x="207.50" y="204.85" width="38.39" height="6.79" fill="#3096d3"/><rect x="245.39" y="204.85" width="6.81" height="6.79" fill="#399dd9"/><rect x="251.71" y="204.85" width="13.13" height="6.79" fill="#44a6de"/><rect x="264.34" y="204.85" width="19.44" height="6.79" fill="#399dd9"/><rect x="283.28" y="204.85" width="19.44" height="6.79" fill="#44a6de"/><rect x="302.23" y="204.85" width="25.76" height="6.79" fill="#51aee4"/><rect x="327.49" y="204.85" width="6.81" height="6.79" fill="#44a6de"/><rect x="37.00" y="211.15" width="6.81" height="6.79" fill="#28a86c"/><rect x="43.31" y="211.15" width="6.81" height="6.79" fill="#10a074"/><rect x="49.63" y="211.15" width="6.81" height="6.79" fill="#00967e"/><rect x="55.94" y="211.15" width="6.81" height="6.79" fill="#008e88"/><rect x="62.26" y="211.15" width="13.13" height="6.79" fill="#00967e"/><rect x="74.89" y="211.15" width="13.13" height="6.79" fill="#008e88"/><rect x="87.52" y="211.15" width="6.81" height="6.79" fill="#008694"/><rect x="93.83" y="211.15" width="13.13" height="6.79" fill="#0081a1"/><rect x="106.46" y="211.15" width="13.13" height="6.79" fill="#008e88"/><rect x="119.09" y="211.15" width="6.81" height="6.79" fill="#008694"/><rect x="125.41" y="211.15" width="6.81" height="6.79" fill="#0379aa"/><rect x="131.72" y="211.15" width="6.81" height="6.79" fill="#0081a1"/><rect x="138.04" y="211.15" width="6.81" height="6.79" fill="#008e88"/><rect x="144.35" y="211.15" width="6.81" height="6.79" fill="#10a074"/><rect x="150.67" y="211.15" width="6.81" height="6.79" fill="#00967e"/><rect x="156.98" y="211.15" width="13.13" height="6.79" fill="#008e88"/><rect x="169.61" y="211.15" width="19.44" height="6.79" fill="#008694"/><rect x="188.56" y="211.15" width="6.81" height="6.79" fill="#0379aa"/><rect x="194.87" y="211.15" width="6.81" height="6.79" fill="#1782c2"/><rect x="201.19" y="211.15" width="6.81" height="6.79" fill="#248cca"/><rect x="207.50" y="211.15" width="32.07" height="6.79" fill="#3096d3"/><rect x="239.08" y="211.15" width="13.13" height="6.79" fill="#399dd9"/><rect x="251.71" y="211.15" width="6.81" height="6.79" fill="#44a6de"/><rect x="258.02" y="211.15" width="25.76" height="6.79" fill="#399dd9"/><rect x="283.28" y="211.15" width="19.44" height="6.79" fill="#44a6de"/><rect x="302.23" y="211.15" width="19.44" height="6.79" fill="#51aee4"/><rect x="321.17" y="211.15" width="13.13" height="6.79" fill="#44a6de"/><rect x="37.00" y="217.44" width="13.13" height="6.79" fill="#10a074"/><rect x="49.63" y="217.44" width="6.81" height="6.79" fill="#00967e"/><rect x="55.94" y="217.44" width="6.81" height="6.79" fill="#008694"/><rect x="62.26" y="217.44" width="19.44" height="6.79" fill="#008e88"/><rect x="81.20" y="217.44" width="6.81" height="6.79" fill="#008694"/><rect x="87.52" y="217.44" width="6.81" height="6.79" fill="#0081a1"/><rect x="93.83" y="217.44" width="13.13" height="6.79" fill="#0379aa"/><rect x="106.46" y="217.44" width="6.81" height="6.79" fill="#008694"/><rect x="112.78" y="217.44" width="6.81" height="6.79" fill="#28a86c"/><rect x="119.09" y="217.44" width="6.81" height="6.79" fill="#00967e"/><rect x="125.41" y="217.44" width="6.81" height="6.79" fill="#0379aa"/><rect x="131.72" y="217.44" width="6.81" height="6.79" fill="#0081a1"/><rect x="138.04" y="217.44" width="6.81" height="6.79" fill="#00967e"/><rect x="144.35" y="217.44" width="6.81" height="6.79" fill="#10a074"/><rect x="150.67" y="217.44" width="6.81" height="6.79" fill="#00967e"/><rect x="156.98" y="217.44" width="19.44" height="6.79" fill="#008e88"/><rect x="175.93" y="217.44" width="13.13" height="6.79" fill="#008694"/><rect x="188.56" y="217.44" width="6.81" height="6.79" fill="#0674b4"/><rect x="194.87" y="217.44" width="6.81" height="6.79" fill="#248cca"/><rect x="201.19" y="217.44" width="38.39" height="6.79" fill="#3096d3"/><rect x="239.08" y="217.44" width="6.81" height="6.79" fill="#399dd9"/><rect x="245.39" y="217.44" width="6.81" height="6.79" fill="#44a6de"/><rect x="251.71" y="217.44" width="32.07" height="6.79" fill="#399dd9"/><rect x="283.28" y="217.44" width="19.44" height="6.79" fill="#44a6de"/><rect x="302.23" y="217.44" width="13.13" height="6.79" fill="#51aee4"/><rect x="314.86" y="217.44" width="19.44" height="6.79" fill="#44a6de"/><rect x="37.00" y="223.74" width="6.81" height="6.79" fill="#10a074"/><rect x="43.31" y="223.74" width="6.81" height="6.79" fill="#00967e"/><rect x="49.63" y="223.74" width="32.07" height="6.79" fill="#008e88"/><rect x="81.20" y="223.74" width="6.81" height="6.79" fill="#0081a1"/><rect x="87.52" y="223.74" width="19.44" height="6.79" fill="#0379aa"/><rect x="106.46" y="223.74" width="6.81" height="6.79" fill="#10a074"/><rect x="112.78" y="223.74" width="6.81" height="6.79" fill="#00967e"/><rect x="119.09" y="223.74" width="6.81" height="6.79" fill="#10a074"/><rect x="125.41" y="223.74" width="6.81" height="6.79" fill="#0081a1"/><rect x="131.72" y="223.74" width="6.81" height="6.79" fill="#0379aa"/><rect x="138.04" y="223.74" width="6.81" height="6.79" fill="#a8ca4c"/><rect x="144.35" y="223.74" width="6.81" height="6.79" fill="#10a074"/><rect x="150.67" y="223.74" width="6.81" height="6.79" fill="#00967e"/><rect x="156.98" y="223.74" width="19.44" height="6.79" fill="#008e88"/><rect x="175.93" y="223.74" width="6.81" height="6.79" fill="#008694"/><rect x="182.24" y="223.74" width="6.81" height="6.79" fill="#0081a1"/><rect x="188.56" y="223.74" width="6.81" height="6.79" fill="#1782c2"/><rect x="194.87" y="223.74" width="6.81" height="6.79" fill="#248cca"/><rect x="201.19" y="223.74" width="25.76" height="6.79" fill="#3096d3"/><rect x="226.45" y="223.74" width="13.13" height="6.79" fill="#399dd9"/><rect x="239.08" y="223.74" width="13.13" height="6.79" fill="#44a6de"/><rect x="251.71" y="223.74" width="19.44" height="6.79" fill="#399dd9"/><rect x="270.65" y="223.74" width="6.81" height="6.79" fill="#3096d3"/><rect x="276.97" y="223.74" width="13.13" height="6.79" fill="#399dd9"/><rect x="289.60" y="223.74" width="13.13" height="6.79" fill="#44a6de"/><rect x="302.23" y="223.74" width="13.13" height="6.79" fill="#51aee4"/><rect x="314.86" y="223.74" width="19.44" height="6.79" fill="#44a6de"/><rect x="37.00" y="230.03" width="19.44" height="6.79" fill="#00967e"/><rect x="55.94" y="230.03" width="19.44" height="6.79" fill="#008e88"/><rect x="74.89" y="230.03" width="6.81" height="6.79" fill="#008694"/><rect x="81.20" y="230.03" width="19.44" height="6.79" fill="#0379aa"/><rect x="100.15" y="230.03" width="6.81" height="6.79" fill="#008694"/><rect x="106.46" y="230.03" width="6.81" height="6.79" fill="#0476af"/><rect x="112.78" y="230.03" width="6.81" height="6.79" fill="#00967e"/><rect x="119.09" y="230.03" width="6.81" height="6.79" fill="#28a86c"/><rect x="125.41" y="230.03" width="6.81" height="6.79" fill="#008e88"/><rect x="131.72" y="230.03" width="6.81" height="6.79" fill="#0081a1"/><rect x="138.04" y="230.03" width="6.81" height="6.79" fill="#48b066"/><rect x="144.35" y="230.03" width="6.81" height="6.79" fill="#10a074"/><rect x="150.67" y="230.03" width="13.13" height="6.79" fill="#00967e"/><rect x="163.30" y="230.03" width="13.13" height="6.79" fill="#008e88"/><rect x="175.93" y="230.03" width="6.81" height="6.79" fill="#008694"/><rect x="182.24" y="230.03" width="6.81" height="6.79" fill="#0674b4"/><rect x="188.56" y="230.03" width="6.81" height="6.79" fill="#1782c2"/><rect x="194.87" y="230.03" width="6.81" height="6.79" fill="#248cca"/><rect x="201.19" y="230.03" width="19.44" height="6.79" fill="#3096d3"/><rect x="220.13" y="230.03" width="13.13" height="6.79" fill="#399dd9"/><rect x="232.76" y="230.03" width="19.44" height="6.79" fill="#44a6de"/><rect x="251.71" y="230.03" width="13.13" height="6.79" fill="#399dd9"/><rect x="264.34" y="230.03" width="13.13" height="6.79" fill="#3096d3"/><rect x="276.97" y="230.03" width="6.81" height="6.79" fill="#399dd9"/><rect x="283.28" y="230.03" width="19.44" height="6.79" fill="#44a6de"/><rect x="302.23" y="230.03" width="6.81" height="6.79" fill="#51aee4"/><rect x="308.54" y="230.03" width="25.76" height="6.79" fill="#44a6de"/><rect x="37.00" y="236.33" width="19.44" height="6.79" fill="#00967e"/><rect x="55.94" y="236.33" width="6.81" height="6.79" fill="#008694"/><rect x="62.26" y="236.33" width="13.13" height="6.79" fill="#008e88"/><rect x="74.89" y="236.33" width="6.81" height="6.79" fill="#0081a1"/><rect x="81.20" y="236.33" width="6.81" height="6.79" fill="#0379aa"/><rect x="87.52" y="236.33" width="13.13" height="6.79" fill="#0476af"/><rect x="100.15" y="236.33" width="6.81" height="6.79" fill="#0379aa"/><rect x="106.46" y="236.33" width="6.81" height="6.79" fill="#0476af"/><rect x="112.78" y="236.33" width="6.81" height="6.79" fill="#0081a1"/><rect x="119.09" y="236.33" width="6.81" height="6.79" fill="#f0d030"/><rect x="125.41" y="236.33" width="6.81" height="6.79" fill="#00967e"/><rect x="131.72" y="236.33" width="6.81" height="6.79" fill="#0081a1"/><rect x="138.04" y="236.33" width="6.81" height="6.79" fill="#28a86c"/><rect x="144.35" y="236.33" width="6.81" height="6.79" fill="#10a074"/><rect x="150.67" y="236.33" width="13.13" height="6.79" fill="#00967e"/><rect x="163.30" y="236.33" width="13.13" height="6.79" fill="#008e88"/><rect x="175.93" y="236.33" width="6.81" height="6.79" fill="#0081a1"/><rect x="182.24" y="236.33" width="6.81" height="6.79" fill="#1782c2"/><rect x="188.56" y="236.33" width="6.81" height="6.79" fill="#248cca"/><rect x="194.87" y="236.33" width="6.81" height="6.79" fill="#3096d3"/><rect x="201.19" y="236.33" width="19.44" height="6.79" fill="#399dd9"/><rect x="220.13" y="236.33" width="32.07" height="6.79" fill="#44a6de"/><rect x="251.71" y="236.33" width="13.13" height="6.79" fill="#399dd9"/><rect x="264.34" y="236.33" width="13.13" height="6.79" fill="#3096d3"/><rect x="276.97" y="236.33" width="6.81" height="6.79" fill="#399dd9"/><rect x="283.28" y="236.33" width="19.44" height="6.79" fill="#44a6de"/><rect x="302.23" y="236.33" width="6.81" height="6.79" fill="#51aee4"/><rect x="308.54" y="236.33" width="25.76" height="6.79" fill="#44a6de"/><rect x="37.00" y="242.62" width="6.81" height="6.79" fill="#00967e"/><rect x="43.31" y="242.62" width="13.13" height="6.79" fill="#008e88"/><rect x="55.94" y="242.62" width="19.44" height="6.79" fill="#008694"/><rect x="74.89" y="242.62" width="6.81" height="6.79" fill="#0081a1"/><rect x="81.20" y="242.62" width="25.76" height="6.79" fill="#0476af"/><rect x="106.46" y="242.62" width="6.81" height="6.79" fill="#0379aa"/><rect x="112.78" y="242.62" width="6.81" height="6.79" fill="#008694"/><rect x="119.09" y="242.62" width="6.81" height="6.79" fill="#f0e038"/><rect x="125.41" y="242.62" width="6.81" height="6.79" fill="#ecb820"/><rect x="131.72" y="242.62" width="6.81" height="6.79" fill="#008e88"/><rect x="138.04" y="242.62" width="6.81" height="6.79" fill="#10a074"/><rect x="144.35" y="242.62" width="13.13" height="6.79" fill="#00967e"/><rect x="156.98" y="242.62" width="13.13" height="6.79" fill="#008e88"/><rect x="169.61" y="242.62" width="6.81" height="6.79" fill="#008694"/><rect x="175.93" y="242.62" width="6.81" height="6.79" fill="#0674b4"/><rect x="182.24" y="242.62" width="6.81" height="6.79" fill="#248cca"/><rect x="188.56" y="242.62" width="6.81" height="6.79" fill="#3096d3"/><rect x="194.87" y="242.62" width="19.44" height="6.79" fill="#399dd9"/><rect x="213.82" y="242.62" width="38.39" height="6.79" fill="#44a6de"/><rect x="251.71" y="242.62" width="13.13" height="6.79" fill="#399dd9"/><rect x="264.34" y="242.62" width="6.81" height="6.79" fill="#3096d3"/><rect x="270.65" y="242.62" width="6.81" height="6.79" fill="#399dd9"/><rect x="276.97" y="242.62" width="25.76" height="6.79" fill="#44a6de"/><rect x="302.23" y="242.62" width="6.81" height="6.79" fill="#51aee4"/><rect x="308.54" y="242.62" width="19.44" height="6.79" fill="#44a6de"/><rect x="327.49" y="242.62" width="6.81" height="6.79" fill="#51aee4"/><rect x="37.00" y="248.92" width="13.13" height="6.79" fill="#008e88"/><rect x="49.63" y="248.92" width="25.76" height="6.79" fill="#008694"/><rect x="74.89" y="248.92" width="19.44" height="6.79" fill="#0476af"/><rect x="93.83" y="248.92" width="13.13" height="6.79" fill="#0d7aba"/><rect x="106.46" y="248.92" width="6.81" height="6.79" fill="#0379aa"/><rect x="112.78" y="248.92" width="6.81" height="6.79" fill="#0081a1"/><rect x="119.09" y="248.92" width="6.81" height="6.79" fill="#00967e"/><rect x="125.41" y="248.92" width="6.81" height="6.79" fill="#e89c08"/><rect x="131.72" y="248.92" width="13.13" height="6.79" fill="#00967e"/><rect x="144.35" y="248.92" width="6.81" height="6.79" fill="#008694"/><rect x="150.67" y="248.92" width="19.44" height="6.79" fill="#008e88"/><rect x="169.61" y="248.92" width="6.81" height="6.79" fill="#0081a1"/><rect x="175.93" y="248.92" width="6.81" height="6.79" fill="#1782c2"/><rect x="182.24" y="248.92" width="6.81" height="6.79" fill="#3096d3"/><rect x="188.56" y="248.92" width="6.81" height="6.79" fill="#399dd9"/><rect x="194.87" y="248.92" width="51.02" height="6.79" fill="#44a6de"/><rect x="245.39" y="248.92" width="13.13" height="6.79" fill="#399dd9"/><rect x="258.02" y="248.92" width="13.13" height="6.79" fill="#3096d3"/><rect x="270.65" y="248.92" width="6.81" height="6.79" fill="#399dd9"/><rect x="276.97" y="248.92" width="19.44" height="6.79" fill="#44a6de"/><rect x="295.91" y="248.92" width="13.13" height="6.79" fill="#51aee4"/><rect x="308.54" y="248.92" width="19.44" height="6.79" fill="#44a6de"/><rect x="327.49" y="248.92" width="6.81" height="6.79" fill="#51aee4"/><rect x="37.00" y="255.21" width="6.81" height="6.79" fill="#0081a1"/><rect x="43.31" y="255.21" width="19.44" height="6.79" fill="#008694"/><rect x="62.26" y="255.21" width="6.81" height="6.79" fill="#0081a1"/><rect x="68.57" y="255.21" width="6.81" height="6.79" fill="#0379aa"/><rect x="74.89" y="255.21" width="13.13" height="6.79" fill="#008694"/><rect x="87.52" y="255.21" width="6.81" height="6.79" fill="#0379aa"/><rect x="93.83" y="255.21" width="6.81" height="6.79" fill="#0d7aba"/><rect x="100.15" y="255.21" width="6.81" height="6.79" fill="#0476af"/><rect x="106.46" y="255.21" width="6.81" height="6.79" fill="#0081a1"/><rect x="112.78" y="255.21" width="6.81" height="6.79" fill="#008694"/><rect x="119.09" y="255.21" width="6.81" height="6.79" fill="#008e88"/><rect x="125.41" y="255.21" width="6.81" height="6.79" fill="#f0c428"/><rect x="131.72" y="255.21" width="6.81" height="6.79" fill="#48b066"/><rect x="138.04" y="255.21" width="13.13" height="6.79" fill="#008e88"/><rect x="150.67" y="255.21" width="6.81" height="6.79" fill="#008694"/><rect x="156.98" y="255.21" width="13.13" height="6.79" fill="#008e88"/><rect x="169.61" y="255.21" width="6.81" height="6.79" fill="#0674b4"/><rect x="175.93" y="255.21" width="6.81" height="6.79" fill="#1782c2"/><rect x="182.24" y="255.21" width="6.81" height="6.79" fill="#3096d3"/><rect x="188.56" y="255.21" width="57.33" height="6.79" fill="#44a6de"/><rect x="245.39" y="255.21" width="13.13" height="6.79" fill="#399dd9"/><rect x="258.02" y="255.21" width="13.13" height="6.79" fill="#3096d3"/><rect x="270.65" y="255.21" width="6.81" height="6.79" fill="#399dd9"/><rect x="276.97" y="255.21" width="19.44" height="6.79" fill="#44a6de"/><rect x="295.91" y="255.21" width="13.13" height="6.79" fill="#51aee4"/><rect x="308.54" y="255.21" width="19.44" height="6.79" fill="#44a6de"/><rect x="327.49" y="255.21" width="6.81" height="6.79" fill="#51aee4"/><rect x="37.00" y="261.51" width="25.76" height="6.79" fill="#008694"/><rect x="62.26" y="261.51" width="6.81" height="6.79" fill="#0379aa"/><rect x="68.57" y="261.51" width="6.81" height="6.79" fill="#0674b4"/><rect x="74.89" y="261.51" width="19.44" height="6.79" fill="#0379aa"/><rect x="93.83" y="261.51" width="13.13" height="6.79" fill="#0476af"/><rect x="106.46" y="261.51" width="13.13" height="6.79" fill="#0081a1"/><rect x="119.09" y="261.51" width="6.81" height="6.79" fill="#008694"/><rect x="125.41" y="261.51" width="6.81" height="6.79" fill="#00967e"/><rect x="131.72" y="261.51" width="6.81" height="6.79" fill="#10a074"/><rect x="138.04" y="261.51" width="13.13" height="6.79" fill="#008e88"/><rect x="150.67" y="261.51" width="6.81" height="6.79" fill="#008694"/><rect x="156.98" y="261.51" width="6.81" height="6.79" fill="#008e88"/><rect x="163.30" y="261.51" width="6.81" height="6.79" fill="#008694"/><rect x="169.61" y="261.51" width="6.81" height="6.79" fill="#0674b4"/><rect x="175.93" y="261.51" width="6.81" height="6.79" fill="#248cca"/><rect x="182.24" y="261.51" width="6.81" height="6.79" fill="#399dd9"/><rect x="188.56" y="261.51" width="13.13" height="6.79" fill="#44a6de"/><rect x="201.19" y="261.51" width="13.13" height="6.79" fill="#51aee4"/><rect x="213.82" y="261.51" width="32.07" height="6.79" fill="#44a6de"/><rect x="245.39" y="261.51" width="13.13" height="6.79" fill="#399dd9"/><rect x="258.02" y="261.51" width="6.81" height="6.79" fill="#3096d3"/><rect x="264.34" y="261.51" width="13.13" height="6.79" fill="#399dd9"/><rect x="276.97" y="261.51" width="19.44" height="6.79" fill="#44a6de"/><rect x="295.91" y="261.51" width="6.81" height="6.79" fill="#51aee4"/><rect x="302.23" y="261.51" width="25.76" height="6.79" fill="#44a6de"/><rect x="327.49" y="261.51" width="6.81" height="6.79" fill="#51aee4"/></g></g>
<g transform="translate(0,0)" clip-path="url(#clip)" fill="none" stroke="#000" stroke-width="0.75" stroke-linejoin="round" stroke-linecap="round"><path d="M212.0 74.5L215.1 75.7L219.0 75.3L222.1 73.7L224.5 71.4L225.9 65.5L226.4 69.0L228.7 69.4L232.2 65.2L235.4 61.3L238.5 57.8L241.2 55.8L243.1 51.1L237.3 47.6M243.1 51.1L244.9 50.4L243.1 53.5L242.0 57.4L240.4 60.5L241.2 62.4L243.9 60.1L247.0 58.5L252.5 56.2L260.7 54.3L257.9 56.2L254.0 58.9L251.7 61.3L253.3 64.8L250.2 63.2L247.0 61.6L243.1 65.9L238.5 72.2L234.6 77.6L231.5 82.0M254.4 82.0L254.8 76.8L254.0 73.7L257.2 69.4L258.7 71.4L262.6 72.2L264.2 69.4L262.6 67.5L266.5 65.2L269.6 63.6L274.3 59.7L278.2 55.8L282.0 51.5M222.9 32.5L226.0 30.1L229.9 29.7L230.7 33.2L232.6 36.7L235.4 39.8L236.9 43.0L239.3 43.7L243.1 43.4L247.0 42.6L249.4 43.0L246.6 45.3L248.6 46.1L252.5 46.9L255.6 46.1L258.7 46.5L262.6 45.3L266.5 45.7L269.2 45.3L272.0 42.6L274.3 38.7L275.8 37.9L277.8 41.0L280.5 41.0L282.0 38.7M237.7 34.0L238.9 29.7L241.2 28.9L241.6 32.5L244.7 34.8L247.0 35.6L249.4 34.0L253.3 34.4L258.7 32.5L263.4 30.1L268.1 28.9L266.5 32.5L264.9 34.8L266.5 38.7L263.4 39.8L260.3 37.9L257.9 37.1L256.4 38.7L252.5 39.5L248.6 39.1L246.3 37.5L243.9 38.7L242.4 36.3L238.5 36.0L237.7 34.0M282.0 38.7L285.1 40.4L288.6 38.7L292.1 37.0L295.2 34.0L297.6 30.9L298.5 29.2M284.3 32.8L286.3 30.1L289.4 29.2L291.7 30.5L290.6 33.6L288.2 36.7L285.9 36.0L284.3 32.8M284.3 44.3L286.7 43.0L291.2 43.2L289.8 45.7L286.8 45.5L284.3 44.3M282.0 51.8L283.7 50.0L286.0 47.9L288.4 45.7L286.7 42.6L285.1 41.0L282.0 38.7M312.2 63.0L314.7 62.2L316.6 60.6L317.3 59.7M312.4 63.1L314.9 62.4L316.8 60.8M237.7 72.0L235.4 75.9L232.6 79.8L231.1 82.9L230.3 85.2L231.5 88.4L231.9 90.7L233.4 93.8L235.4 96.9L236.9 94.6L238.5 95.4L240.0 97.3L242.4 99.4L245.1 98.5L246.3 96.1L245.5 93.4L248.6 92.6L250.9 89.9L252.5 86.4L253.3 82.9L255.2 79.0L254.8 75.9L254.4 73.6L257.2 72.0M236.9 75.1L234.2 78.6L231.9 81.7L230.7 84.5M219.4 80.6L221.0 81.7L219.8 84.5L219.2 82.5L219.4 80.6M212.0 75.1L215.1 75.9L219.0 75.1L222.1 73.2L224.5 72.0M212.0 75.1L214.7 78.2L215.9 80.6L215.1 83.7L212.0 86.8M143.2 30.1L146.7 31.3L149.8 30.1L153.7 29.7L157.6 30.5L161.5 31.3L161.5 37.1L160.3 41.8L158.4 45.7L156.4 47.6L156.0 51.9L154.5 55.4L152.1 58.1L150.2 61.6L149.4 63.4L151.3 60.5L154.8 58.1L158.7 54.6L160.7 50.4L161.9 45.7L164.6 40.2L166.1 34.8L167.7 30.9L168.9 28.9M164.6 82.0L166.9 78.4L168.1 74.5L166.9 72.2L165.7 69.0L166.9 64.4L166.1 58.9L167.7 53.5L169.6 47.2L171.6 41.8L173.1 41.0L174.7 41.8L175.9 44.9L178.2 45.3L181.7 42.2L184.4 39.5L187.2 39.8L192.6 43.4L194.2 47.2L197.3 56.6L200.4 65.9L201.2 68.3L204.3 69.4L206.2 69.0L207.8 73.7L209.7 76.4L212.0 75.7M166.9 72.0L168.5 74.3L166.9 77.5L165.0 80.6L164.2 83.7L165.4 86.0L163.4 89.1L161.1 88.7L160.3 90.3L157.2 90.7L156.4 93.0L156.4 96.5M161.1 90.3L163.8 98.5L167.7 109.4L171.6 120.3L173.1 124.9L175.5 127.0M142.0 100.4L156.4 96.5L156.4 101.6L158.4 104.7L157.6 107.8L154.5 110.5L153.3 112.5L154.1 115.6L153.3 121.8L152.1 127.0M212.0 86.4L209.0 89.1L206.6 91.5L204.3 94.6L202.0 97.7L199.6 98.5L198.1 96.1L196.5 97.7L195.3 93.8L193.4 96.9L194.2 100.0L194.2 103.9L192.6 106.3L190.3 105.5L188.7 108.6L185.6 111.7L183.3 114.0L181.3 113.3L180.5 116.4L180.9 119.5L179.4 122.6L178.2 124.9L178.6 127.0M207.4 72.0L208.2 75.1L210.5 76.7L212.0 75.9M95.4 127.0L98.5 124.9L101.6 121.8L103.9 117.2L106.3 113.3L109.4 110.2L111.7 108.4L118.7 106.9L132.0 103.3L142.0 100.2M132.3 103.3L133.5 108.6L135.5 114.0L136.2 117.2L135.5 120.3L136.6 124.2L138.2 127.0M28.6 107.6L31.7 110.7L34.0 113.4L35.6 113.0L36.7 116.9L39.9 116.1L41.0 117.7L40.6 120.0L42.6 122.8L45.7 124.7L48.4 127.4L45.7 126.6L43.4 127.0L42.2 128.2L44.1 129.4L44.9 131.7L43.7 134.4L41.0 133.7L37.9 133.3L35.6 130.5L33.6 130.9L32.1 133.3L30.9 130.9L29.7 127.8L28.6 127.4M57.4 147.0L60.5 143.4L65.2 141.4L70.6 139.1L76.1 136.8L79.2 135.6M79.5 134.9L79.9 133.4L82.6 131.8L86.5 130.9L88.8 131.4L89.2 134.1L88.8 136.1L86.5 137.4L83.4 136.5L80.2 135.7L79.5 134.9M89.2 130.6L93.5 127.5L98.9 124.4L101.3 122.5L102.8 120.1L104.8 117.0M100.5 124.4L95.8 129.5L96.6 131.0L99.7 131.0L100.5 132.6L98.5 134.5L99.7 137.2L100.5 140.0L98.2 141.5L95.8 143.9L93.5 146.6L91.1 148.1L87.3 148.5L83.4 150.1L81.0 148.9L75.6 148.9L69.3 150.5L64.7 152.8L60.0 155.2M97.4 171.1L106.7 168.8L118.4 166.4L122.3 168.4L124.6 170.7L125.0 172.0M57.4 147.0L54.6 148.9L53.1 151.7L52.3 154.8L53.5 156.3L56.6 156.7L59.7 156.0L62.0 154.4L65.9 152.5L69.8 150.5L74.5 149.3L79.2 149.2L82.3 150.5L85.4 148.9L90.0 147.8M62.0 154.4L62.4 157.1L64.4 158.7L65.6 160.6L65.2 161.8L61.3 162.2L56.6 163.7L51.1 165.7L47.6 166.9L46.1 168.8L45.3 170.7L51.1 170.4L45.7 171.3L41.8 171.1L38.3 170.4L34.0 171.5L30.9 173.5L28.6 175.8M65.6 160.6L66.7 162.6L64.8 165.7L62.4 168.8L59.7 171.9L56.6 175.0L51.1 178.9L46.5 182.4L41.0 185.9L35.6 189.4L32.5 193.3L30.1 195.3L28.6 195.7M56.0 175.4L56.6 178.1L57.4 180.5L66.7 178.5L78.4 175.8L90.0 173.3M46.5 182.8L47.6 189.0L49.2 196.1L50.8 202.0M90.0 173.5L101.7 170.4L113.4 167.6L118.8 166.5L121.9 168.4L124.3 170.4L125.0 172.7L127.4 175.4L130.5 176.6L136.7 178.5L143.7 180.5M130.5 176.6L129.3 179.7L128.2 182.8L127.0 185.2L128.2 187.5L127.4 189.8L128.2 192.6L132.0 195.3L136.7 199.2L134.4 202.0M144.5 147.0L144.9 159.5L152.3 157.1L160.0 154.8M150.0 144.3L154.7 142.3L161.7 140.7L171.0 138.8L173.4 136.1L175.7 133.7L177.3 134.1M170.2 117.0L171.4 120.9L173.4 124.8L175.7 127.9L177.3 129.8L177.3 134.1M181.9 117.0L180.8 120.1L178.8 124.0L178.0 127.9L177.3 129.8M177.3 134.1L178.8 136.5L181.1 137.2L179.6 139.2L178.4 141.1L177.3 143.9L178.8 145.0L181.9 145.4L184.3 148.1L186.6 151.3L188.2 152.8L191.3 152.4L196.7 151.3L196.3 148.9L194.4 146.6L192.0 145.4L190.1 145.8M192.3 145.6L194.5 146.8L196.4 149.1M196.7 151.3L193.6 153.2L190.5 154.8L188.2 155.9L186.6 157.1L185.4 154.4L184.3 156.7L181.9 159.4L179.6 160.2L178.0 157.5L176.9 155.9L175.7 158.3L176.5 160.6L176.9 163.7L171.8 166.1M150.0 157.9L159.3 155.5L168.7 153.2L174.1 151.6L175.3 153.6L176.1 156.7M169.1 153.4L170.6 160.6L171.8 166.1M186.2 162.0L188.2 160.4L189.7 160.6L188.8 161.7L186.2 162.0M194.8 160.3L196.7 158.7L198.3 160.0L196.7 160.4L194.8 160.3M195.3 160.1L196.9 159.2L197.8 160.0M144.8 159.3L146.7 167.1L148.7 174.5L146.7 177.6L146.4 179.2L150.2 176.1L156.5 171.4L164.3 168.7L171.3 166.0L176.7 164.0M146.7 182.3L151.8 180.0L158.0 177.6L162.7 175.7L165.0 173.7L166.6 171.4M145.6 187.8L150.2 186.2L156.5 183.1L163.5 179.2L168.2 175.3L172.8 171.2M163.5 175.7L166.6 174.9L170.5 173.0L167.4 173.7L164.3 176.9M142.1 175.3L143.6 178.0L144.4 180.4L144.4 184.3L143.6 186.6L141.7 188.1L141.3 190.9L142.8 192.0L145.6 191.3L146.7 193.6L147.1 198.3L146.7 202.2L147.5 206.1L146.4 208.8L144.8 210.7L144.4 212.0M146.4 182.7L144.4 184.6M145.6 187.8L144.0 187.0M49.2 197.0L50.4 202.5L51.5 207.9L52.7 214.1L53.9 220.4L54.6 225.4L62.0 223.9L69.8 222.3L79.2 220.4L90.0 218.0M49.2 208.7L50.4 207.9L51.5 209.1L50.8 210.9L49.4 210.4L49.2 208.7M50.8 210.9L50.4 214.9L49.6 220.4L49.6 228.1L47.3 231.3L44.9 234.0L41.8 234.4L39.5 236.7L37.9 239.0L38.3 242.9L36.7 244.9L34.4 242.9L33.2 245.3L32.5 249.2L31.7 252.0M69.4 222.5L70.2 228.1L71.0 232.4L74.5 228.9L76.8 226.6L78.4 226.2L80.3 222.3L81.5 223.9L83.8 224.3L86.2 221.9L90.0 219.6M90.0 225.8L87.4 225.0L86.6 228.1L87.0 230.5L84.6 233.6L82.3 236.7L81.9 239.0L80.0 238.3L78.4 241.4L77.6 245.3L75.3 247.2L72.9 245.7L71.0 244.5L70.6 247.6L69.8 252.0M85.0 219.6L94.3 217.6L108.4 214.5L123.2 211.4L123.9 209.8L125.5 208.7L127.4 208.3M134.1 197.0L136.8 199.3L134.4 202.1L132.1 205.2L130.2 207.1L127.4 208.3L126.7 211.8L127.7 213.7M146.9 197.0L147.7 200.9L146.9 205.6L145.0 210.2L142.6 214.9L141.2 218.8M85.0 222.7L87.3 220.4L92.8 220.4L95.1 222.3L96.7 225.8L97.5 225.0L100.6 226.2L101.7 228.5L105.2 229.7L108.0 230.5L109.1 229.7L109.9 232.4M85.0 222.7L86.6 224.3L87.3 228.1L85.8 232.0L85.0 233.6M87.3 224.6L92.0 227.0L95.9 228.9L96.7 225.8M124.6 216.0L127.3 224.9L129.3 231.9L130.3 234.3L133.8 233.8L137.7 233.3L139.1 233.1M126.8 215.0L129.8 217.0L131.3 219.0L132.3 221.9L133.8 223.9L135.7 225.4L137.7 226.9L138.2 228.4L137.7 229.9L139.2 230.9L138.7 232.3L140.2 234.8L139.7 237.3L139.2 240.8L138.2 243.7L137.2 246.7L136.2 250.0M137.7 227.1L138.5 228.9L138.0 230.1L139.5 231.1L139.0 232.6L140.3 234.6M140.0 234.8L140.2 237.3L139.6 240.8L138.7 243.7L137.7 246.7M127.8 215.0L131.8 217.0L135.7 218.2L138.7 219.0L139.7 220.5L139.2 222.4L140.7 222.9L141.7 220.9L142.4 218.0L143.2 215.0M122.4 216.0L120.9 218.0L120.4 220.9L121.1 223.9L120.1 224.9L120.9 226.4L120.4 227.9L121.6 228.9L120.9 230.4L122.4 231.9L124.3 232.1L125.8 232.8L125.1 233.8L123.3 233.6L122.4 234.6L121.9 236.3L122.9 237.8L124.3 237.6L125.8 238.5L127.3 237.3L128.3 236.6L128.8 238.8L130.3 240.3L130.8 242.8L130.3 244.7L131.8 246.2L132.8 248.7L132.3 250.0M120.5 221.2L121.3 224.0L120.3 225.2L121.0 226.5L120.5 228.0L121.8 229.0L121.0 230.5L122.5 232.0M120.1 229.9L121.4 231.4L122.6 232.3L124.6 232.3L125.9 233.1L125.2 234.0L123.4 233.8L122.5 234.8L122.0 236.4M122.4 234.8L123.1 237.9L124.4 237.8L125.9 238.8L127.4 237.6L128.4 236.8L128.9 238.9M126.1 238.3L127.6 237.1L128.6 237.1L129.3 239.3L130.5 240.5M119.9 227.4L120.6 228.6L120.4 229.9L121.9 231.1M122.4 216.0L119.9 217.0L117.9 218.0L116.4 219.5L114.9 221.4L113.4 222.9L115.4 223.9L115.9 225.9L115.4 227.9L116.4 229.9L116.9 232.3L117.4 234.8L118.4 236.8L119.9 238.8L120.9 240.8L121.9 242.8L122.4 244.7M117.8 218.1L116.3 219.6L114.8 221.5L113.5 222.8M118.1 218.2L116.7 219.7L115.2 221.7L113.9 223.2L115.7 224.2M119.4 216.5L122.4 216.2L123.3 217.2L121.4 218.0M120.9 215.2L122.9 215.5L123.8 216.5M114.9 234.3L115.9 236.3L117.4 238.3L119.4 239.8L120.9 241.8M106.0 229.9L108.5 229.4L109.5 231.4L109.0 233.8L108.0 235.8L107.5 238.3L108.0 240.8L109.5 239.8L111.0 239.3L112.4 240.8L114.4 241.8L116.4 242.0L118.9 242.5L120.9 242.8M108.6 229.5L109.6 231.5L109.1 233.9L108.1 235.9L107.6 238.4L108.1 240.7M108.4 229.7L109.3 231.6L108.8 233.8L107.8 235.8L107.3 238.3L107.8 241.0L109.4 240.1M109.6 239.8L111.1 239.5L112.5 241.0L114.5 242.0M106.0 230.2L108.3 229.6M139.5 232.5L140.3 235.6L139.1 239.5L137.9 243.4L136.8 246.5L136.4 250.4L134.8 252.7L134.1 255.8L133.7 258.9L132.5 260.5L130.9 258.1L130.6 253.5L131.3 248.8L132.5 244.9L130.9 242.6L130.2 240.2M110.7 245.3L114.6 247.2L118.5 250.4L121.6 252.7L124.7 253.9L125.5 249.6L123.9 246.5L122.4 243.7M110.9 245.5L114.7 247.4L118.6 250.5L121.8 252.9M118.5 256.2L121.6 258.9L124.7 260.5L127.0 257.4L125.5 254.3M118.6 256.4L121.8 259.1L124.9 260.6M111.5 261.3L116.1 260.9L120.0 261.6L123.2 263.6L126.3 265.2L128.6 265.2L131.7 264.8L133.3 265.9L134.4 269.0L135.6 271.8L137.9 273.3M111.6 261.4L116.3 261.0L120.2 261.8L123.3 263.8L125.5 267.5L127.8 265.9M127.0 273.3L131.7 271.8L135.6 271.8M124.7 260.5L127.0 262.0L128.2 263.6M28.6 255.4L29.0 261.6L31.7 265.5L35.6 269.4L38.7 271.3L40.6 272.5L40.2 273.3M56.6 273.3L57.4 270.9L58.9 270.5L62.0 269.4L64.8 268.2L66.3 265.5L64.8 264.7L65.2 261.6M30.1 255.0L28.6 255.4M135.2 121.1L137.6 125.8L138.4 129.7L139.9 129.3L141.5 132.8L143.0 139.0L144.6 145.3L144.6 152.0M153.5 122.7L152.4 127.4L153.2 132.0L154.3 136.7L153.5 140.2L154.7 142.6M144.6 145.7L154.7 142.6M69.8 251.5L69.1 252.2L66.7 257.7L65.2 261.6M32.5 249.1L31.7 253.0L30.1 255.0M212.0 86.4L210.6 88.0L209.1 89.3L207.6 90.1L206.8 91.6L205.4 93.0L204.4 94.6L203.6 96.5L202.0 97.7L199.7 98.7L198.0 96.2L196.7 97.9L195.4 95.9L195.3 93.8L194.0 95.1L193.6 97.0L194.2 98.4L194.1 100.0L193.5 102.0L194.1 103.9L192.7 106.3L190.4 105.2L190.1 107.3L188.5 108.5L187.4 110.4L185.7 111.9L184.8 113.3L183.3 114.1L181.4 113.1L181.4 114.9L180.5 116.4L180.9 119.5L180.3 121.1L179.4 122.6L178.4 125.1L178.8 126.9M206.6 91.5L205.9 93.0L204.4 93.9L203.5 95.4L202.5 96.9L201.1 98.1L199.2 98.9L197.6 96.8L196.0 98.0L193.8 97.2M190.3 106.3L189.4 108.0L187.9 109.3L186.6 110.7L185.1 112.0L183.8 113.0L183.0 114.5L181.4 113.8M212.0 74.5L213.7 74.6L215.1 75.6L217.1 75.8L219.0 75.1L220.6 74.5L222.0 73.5L223.5 72.7L224.6 71.5M254.4 82.0L254.7 80.3L255.2 78.6L254.7 76.8L254.7 75.2L254.1 73.7L255.2 72.4L256.1 70.8L257.3 69.5L258.5 71.5L260.7 71.7L262.6 72.3L264.0 69.3L262.7 67.4L264.7 66.5L266.6 65.4L268.3 64.8L269.6 63.5L271.1 62.2L272.9 61.2L274.1 59.5L275.6 58.4L276.6 56.8L278.0 55.7L279.0 54.0L281.0 53.2L281.8 51.4M236.9 43.0L239.3 43.6L241.2 43.4L243.2 43.6L245.0 42.4L247.0 42.5L249.4 43.0L247.7 43.7L246.5 45.2L248.5 46.3L250.6 46.2L252.5 46.8L254.0 46.3L255.7 46.3L258.7 46.7L260.5 45.4L262.6 45.1L264.6 45.1L266.5 45.5L269.2 45.3M243.1 51.1L244.9 50.4L244.3 52.1L243.4 53.6M244.7 34.8L247.1 35.5L249.3 33.9L251.3 34.3L253.2 34.6M264.9 34.8L265.5 36.8L266.5 38.7L264.9 39.1L263.4 39.8L261.5 39.4L260.4 37.7M237.7 72.0L236.2 73.7L235.2 75.8L233.7 77.6L232.7 79.8L232.0 81.4L231.3 83.0L230.2 85.2M245.5 93.4L246.9 92.4L248.5 92.4L249.5 91.0L250.8 89.8L251.5 88.1L252.3 86.3L252.2 84.5L253.1 82.9L253.7 80.7L255.1 79.0L254.6 75.9L254.6 73.5L257.2 72.1M212.0 75.1L213.7 76.3L214.8 78.1L216.0 80.5L215.7 82.2L215.3 83.7L213.2 84.9L211.8 86.6M284.3 32.8L285.3 31.4L286.3 30.1L287.7 29.1L289.3 29.0L291.8 30.4L291.5 32.2L290.4 33.6L289.8 35.5L288.4 36.9L286.0 35.7L285.1 34.4L284.2 32.9M282.0 51.8L283.7 50.0L285.9 47.7L288.4 45.7M284.3 44.3L286.8 43.2L288.9 43.6L291.2 43.3L289.9 45.8L286.8 45.6L284.3 44.5M34.0 113.4L35.6 113.1L36.1 115.0L36.6 117.0L38.2 116.3L39.8 116.0L40.9 117.8L40.4 120.0L41.3 121.6L42.5 122.8L43.9 124.1L45.6 124.8L47.3 125.8L48.4 127.4L45.7 126.7L43.4 127.3M110.7 245.3L113.0 245.6L114.7 247.1L116.1 248.0L117.0 249.6L118.3 250.6L120.1 251.5L121.4 252.9L122.9 254.0L124.6 254.1M118.5 256.2L120.2 257.4L121.7 258.8L123.3 259.3L124.8 260.3M111.5 261.3L113.8 260.6L116.2 261.0L118.0 261.9L120.0 261.9L121.6 262.6L123.1 263.7L124.5 264.8L126.4 264.9M111.9 261.1L114.2 261.4L116.5 261.5L118.4 262.1L120.4 262.2L122.0 263.0L123.7 263.8M130.9 258.1L131.2 255.8L130.4 253.5L131.4 251.2L131.6 248.9L131.8 246.8L132.4 244.9M122.4 216.0L119.8 216.8L117.8 217.9L116.5 219.6L115.1 221.6L113.6 223.1L115.3 224.1L115.7 225.9L115.6 227.9L116.2 230.0L116.6 232.4M120.4 220.9L121.0 223.9L120.2 225.0L120.8 226.4L120.6 228.0L121.8 228.7L120.6 230.2L122.3 231.9L124.3 232.1L125.7 233.1M121.9 236.3L122.9 237.8L124.4 237.8L125.7 238.7L127.2 237.2L128.2 236.5L128.9 238.8L130.4 240.2M107.5 238.3L107.9 240.8L109.4 239.7L110.9 239.2L112.6 240.6L114.3 242.0L116.4 241.9"/><path stroke-width="1.0" d="M190.1 145.8L192.0 145.4L194.4 146.6L196.3 148.9L196.7 151.3"/><path fill="#000" stroke-width="0.5" d="M134.4 269.3L136.8 273.4L131.5 273.4Z"/></g>
<text x="185.3" y="19" text-anchor="middle" font-weight="bold" font-size="12">Model 1 (EMBER): O3_MDA8 on 05/15/2022</text>
<rect x="28.5" y="28.5" width="313.5" height="244.9" fill="none" stroke="#333" stroke-width="0.75" stroke-linejoin="round"/>
<path d="M38.5 273.4H334.5M38.5 273.4v6.6M72.5 273.4v6.6M105.5 273.4v6.6M138.5 273.4v6.6M171.5 273.4v6.6M204.5 273.4v6.6M237.5 273.4v6.6M269.5 273.4v6.6M302.5 273.4v6.6M334.5 273.4v6.6" stroke="#000" stroke-width="0.8" fill="none"/>
<text x="38.6" y="295" text-anchor="middle" font-size="10" letter-spacing="0.1">-83.5</text>
<text x="72.6" y="295" text-anchor="middle" font-size="10" letter-spacing="0.1">-81.5</text>
<text x="105.6" y="295" text-anchor="middle" font-size="10" letter-spacing="0.1">-79.5</text>
<text x="138.6" y="295" text-anchor="middle" font-size="10" letter-spacing="0.1">-77.5</text>
<text x="171.6" y="295" text-anchor="middle" font-size="10" letter-spacing="0.1">-75.5</text>
<text x="204.6" y="295" text-anchor="middle" font-size="10" letter-spacing="0.1">-73.5</text>
<text x="237.6" y="295" text-anchor="middle" font-size="10" letter-spacing="0.1">-71.5</text>
<text x="269.6" y="295" text-anchor="middle" font-size="10" letter-spacing="0.1">-69.5</text>
<text x="302.6" y="295" text-anchor="middle" font-size="10" letter-spacing="0.1">-67.5</text>
<text x="334.6" y="295" text-anchor="middle" font-size="10" letter-spacing="0.1">-65.5</text>
<path d="M28.5 267.5V34.5M28.5 267.5h-6.6M28.5 228.5h-6.6M28.5 190.5h-6.6M28.5 151.5h-6.6M28.5 112.5h-6.6M28.5 73.5h-6.6M28.5 34.5h-6.6" stroke="#000" stroke-width="0.8" fill="none"/>
<text transform="translate(15.3,267.7) rotate(-90)" text-anchor="middle" font-size="10" letter-spacing="0.45">38.5</text>
<text transform="translate(15.3,228.7) rotate(-90)" text-anchor="middle" font-size="10" letter-spacing="0.45">40.5</text>
<text transform="translate(15.3,190.7) rotate(-90)" text-anchor="middle" font-size="10" letter-spacing="0.45">42.5</text>
<text transform="translate(15.3,151.7) rotate(-90)" text-anchor="middle" font-size="10" letter-spacing="0.45">44.5</text>
<text transform="translate(15.3,112.7) rotate(-90)" text-anchor="middle" font-size="10" letter-spacing="0.45">46.5</text>
<text transform="translate(15.3,73.7) rotate(-90)" text-anchor="middle" font-size="10" letter-spacing="0.45">48.5</text>
<text transform="translate(15.3,34.7) rotate(-90)" text-anchor="middle" font-size="10" letter-spacing="0.45">50.5</text>
<text x="75.9" y="313" font-size="12" textLength="218.8" lengthAdjust="spacing" xml:space="preserve">Domain size: 37x47 | Max = 80 at (3, 15)</text>
<text x="123.3" y="325" font-size="12" textLength="124.0" lengthAdjust="spacing" xml:space="preserve">Mean: 40 |  Median: 39</text>
<g transform="translate(450,0)"><g shape-rendering="crispEdges"><rect x="37.00" y="34.90" width="19.44" height="6.79" fill="#00967e"/><rect x="55.94" y="34.90" width="19.44" height="6.79" fill="#008e88"/><rect x="74.89" y="34.90" width="6.81" height="6.79" fill="#0081a1"/><rect x="81.20" y="34.90" width="13.13" height="6.79" fill="#0379aa"/><rect x="93.83" y="34.90" width="38.39" height="6.79" fill="#0674b4"/><rect x="131.72" y="34.90" width="6.81" height="6.79" fill="#1782c2"/><rect x="138.04" y="34.90" width="13.13" height="6.79" fill="#0d7aba"/><rect x="150.67" y="34.90" width="44.70" height="6.79" fill="#1782c2"/><rect x="194.87" y="34.90" width="19.44" height="6.79" fill="#0d7aba"/><rect x="213.82" y="34.90" width="6.81" height="6.79" fill="#248cca"/><rect x="220.13" y="34.90" width="13.13" height="6.79" fill="#1782c2"/><rect x="232.76" y="34.90" width="19.44" height="6.79" fill="#0d7aba"/><rect x="251.71" y="34.90" width="19.44" height="6.79" fill="#1782c2"/><rect x="270.65" y="34.90" width="13.13" height="6.79" fill="#0d7aba"/><rect x="283.28" y="34.90" width="6.81" height="6.79" fill="#0379aa"/><rect x="289.60" y="34.90" width="44.70" height="6.79" fill="#0081a1"/><rect x="37.00" y="41.19" width="19.44" height="6.79" fill="#00967e"/><rect x="55.94" y="41.19" width="13.13" height="6.79" fill="#008e88"/><rect x="68.57" y="41.19" width="6.81" height="6.79" fill="#008694"/><rect x="74.89" y="41.19" width="6.81" height="6.79" fill="#027da6"/><rect x="81.20" y="41.19" width="6.81" height="6.79" fill="#0379aa"/><rect x="87.52" y="41.19" width="6.81" height="6.79" fill="#0081a1"/><rect x="93.83" y="41.19" width="6.81" height="6.79" fill="#0d7aba"/><rect x="100.15" y="41.19" width="13.13" height="6.79" fill="#0674b4"/><rect x="112.78" y="41.19" width="13.13" height="6.79" fill="#0d7aba"/><rect x="125.41" y="41.19" width="6.81" height="6.79" fill="#0674b4"/><rect x="131.72" y="41.19" width="6.81" height="6.79" fill="#1782c2"/><rect x="138.04" y="41.19" width="13.13" height="6.79" fill="#0d7aba"/><rect x="150.67" y="41.19" width="6.81" height="6.79" fill="#248cca"/><rect x="156.98" y="41.19" width="38.39" height="6.79" fill="#1782c2"/><rect x="194.87" y="41.19" width="13.13" height="6.79" fill="#0d7aba"/><rect x="207.50" y="41.19" width="25.76" height="6.79" fill="#1782c2"/><rect x="232.76" y="41.19" width="6.81" height="6.79" fill="#0d7aba"/><rect x="239.08" y="41.19" width="32.07" height="6.79" fill="#1782c2"/><rect x="270.65" y="41.19" width="13.13" height="6.79" fill="#0674b4"/><rect x="283.28" y="41.19" width="6.81" height="6.79" fill="#0379aa"/><rect x="289.60" y="41.19" width="44.70" height="6.79" fill="#0081a1"/><rect x="37.00" y="47.49" width="6.81" height="6.79" fill="#008e88"/><rect x="43.31" y="47.49" width="19.44" height="6.79" fill="#00967e"/><rect x="62.26" y="47.49" width="6.81" height="6.79" fill="#008e88"/><rect x="68.57" y="47.49" width="6.81" height="6.79" fill="#008694"/><rect x="74.89" y="47.49" width="6.81" height="6.79" fill="#027da6"/><rect x="81.20" y="47.49" width="6.81" height="6.79" fill="#0379aa"/><rect x="87.52" y="47.49" width="6.81" height="6.79" fill="#0d7aba"/><rect x="93.83" y="47.49" width="13.13" height="6.79" fill="#0674b4"/><rect x="106.46" y="47.49" width="6.81" height="6.79" fill="#0d7aba"/><rect x="112.78" y="47.49" width="6.81" height="6.79" fill="#1782c2"/><rect x="119.09" y="47.49" width="13.13" height="6.79" fill="#0674b4"/><rect x="131.72" y="47.49" width="6.81" height="6.79" fill="#1782c2"/><rect x="138.04" y="47.49" width="13.13" height="6.79" fill="#0d7aba"/><rect x="150.67" y="47.49" width="13.13" height="6.79" fill="#1782c2"/><rect x="163.30" y="47.49" width="25.76" height="6.79" fill="#248cca"/><rect x="188.56" y="47.49" width="6.81" height="6.79" fill="#1782c2"/><rect x="194.87" y="47.49" width="44.70" height="6.79" fill="#0d7aba"/><rect x="239.08" y="47.49" width="25.76" height="6.79" fill="#1782c2"/><rect x="264.34" y="47.49" width="6.81" height="6.79" fill="#0d7aba"/><rect x="270.65" y="47.49" width="13.13" height="6.79" fill="#0379aa"/><rect x="283.28" y="47.49" width="51.02" height="6.79" fill="#0081a1"/><rect x="37.00" y="53.78" width="13.13" height="6.79" fill="#00967e"/><rect x="49.63" y="53.78" width="19.44" height="6.79" fill="#008e88"/><rect x="68.57" y="53.78" width="6.81" height="6.79" fill="#008694"/><rect x="74.89" y="53.78" width="6.81" height="6.79" fill="#027da6"/><rect x="81.20" y="53.78" width="6.81" height="6.79" fill="#0379aa"/><rect x="87.52" y="53.78" width="13.13" height="6.79" fill="#0d7aba"/><rect x="100.15" y="53.78" width="6.81" height="6.79" fill="#0674b4"/><rect x="106.46" y="53.78" width="13.13" height="6.79" fill="#0d7aba"/><rect x="119.09" y="53.78" width="6.81" height="6.79" fill="#1782c2"/><rect x="125.41" y="53.78" width="25.76" height="6.79" fill="#0d7aba"/><rect x="150.67" y="53.78" width="19.44" height="6.79" fill="#1782c2"/><rect x="169.61" y="53.78" width="25.76" height="6.79" fill="#248cca"/><rect x="194.87" y="53.78" width="6.81" height="6.79" fill="#1782c2"/><rect x="201.19" y="53.78" width="13.13" height="6.79" fill="#0d7aba"/><rect x="213.82" y="53.78" width="25.76" height="6.79" fill="#0674b4"/><rect x="239.08" y="53.78" width="13.13" height="6.79" fill="#1782c2"/><rect x="251.71" y="53.78" width="13.13" height="6.79" fill="#0d7aba"/><rect x="264.34" y="53.78" width="6.81" height="6.79" fill="#0674b4"/><rect x="270.65" y="53.78" width="13.13" height="6.79" fill="#0379aa"/><rect x="283.28" y="53.78" width="51.02" height="6.79" fill="#0081a1"/><rect x="37.00" y="60.08" width="6.81" height="6.79" fill="#008e88"/><rect x="43.31" y="60.08" width="6.81" height="6.79" fill="#00967e"/><rect x="49.63" y="60.08" width="13.13" height="6.79" fill="#008e88"/><rect x="62.26" y="60.08" width="13.13" height="6.79" fill="#008694"/><rect x="74.89" y="60.08" width="6.81" height="6.79" fill="#0081a1"/><rect x="81.20" y="60.08" width="6.81" height="6.79" fill="#0476af"/><rect x="87.52" y="60.08" width="13.13" height="6.79" fill="#0d7aba"/><rect x="100.15" y="60.08" width="19.44" height="6.79" fill="#0674b4"/><rect x="119.09" y="60.08" width="6.81" height="6.79" fill="#1782c2"/><rect x="125.41" y="60.08" width="19.44" height="6.79" fill="#0d7aba"/><rect x="144.35" y="60.08" width="25.76" height="6.79" fill="#1782c2"/><rect x="169.61" y="60.08" width="19.44" height="6.79" fill="#3096d3"/><rect x="188.56" y="60.08" width="19.44" height="6.79" fill="#1782c2"/><rect x="207.50" y="60.08" width="6.81" height="6.79" fill="#0d7aba"/><rect x="213.82" y="60.08" width="25.76" height="6.79" fill="#0674b4"/><rect x="239.08" y="60.08" width="19.44" height="6.79" fill="#0d7aba"/><rect x="258.02" y="60.08" width="13.13" height="6.79" fill="#0379aa"/><rect x="270.65" y="60.08" width="63.65" height="6.79" fill="#0081a1"/><rect x="37.00" y="66.37" width="32.07" height="6.79" fill="#008e88"/><rect x="68.57" y="66.37" width="6.81" height="6.79" fill="#008694"/><rect x="74.89" y="66.37" width="6.81" height="6.79" fill="#0081a1"/><rect x="81.20" y="66.37" width="6.81" height="6.79" fill="#0476af"/><rect x="87.52" y="66.37" width="19.44" height="6.79" fill="#0d7aba"/><rect x="106.46" y="66.37" width="6.81" height="6.79" fill="#0674b4"/><rect x="112.78" y="66.37" width="6.81" height="6.79" fill="#0d7aba"/><rect x="119.09" y="66.37" width="13.13" height="6.79" fill="#1782c2"/><rect x="131.72" y="66.37" width="13.13" height="6.79" fill="#0d7aba"/><rect x="144.35" y="66.37" width="6.81" height="6.79" fill="#1782c2"/><rect x="150.67" y="66.37" width="19.44" height="6.79" fill="#248cca"/><rect x="169.61" y="66.37" width="19.44" height="6.79" fill="#3096d3"/><rect x="188.56" y="66.37" width="13.13" height="6.79" fill="#248cca"/><rect x="201.19" y="66.37" width="13.13" height="6.79" fill="#1782c2"/><rect x="213.82" y="66.37" width="13.13" height="6.79" fill="#0d7aba"/><rect x="226.45" y="66.37" width="25.76" height="6.79" fill="#0674b4"/><rect x="251.71" y="66.37" width="13.13" height="6.79" fill="#0379aa"/><rect x="264.34" y="66.37" width="69.96" height="6.79" fill="#0081a1"/><rect x="37.00" y="72.67" width="19.44" height="6.79" fill="#00967e"/><rect x="55.94" y="72.67" width="6.81" height="6.79" fill="#008e88"/><rect x="62.26" y="72.67" width="13.13" height="6.79" fill="#008694"/><rect x="74.89" y="72.67" width="6.81" height="6.79" fill="#027da6"/><rect x="81.20" y="72.67" width="6.81" height="6.79" fill="#0d7aba"/><rect x="87.52" y="72.67" width="6.81" height="6.79" fill="#1782c2"/><rect x="93.83" y="72.67" width="25.76" height="6.79" fill="#0d7aba"/><rect x="119.09" y="72.67" width="6.81" height="6.79" fill="#1782c2"/><rect x="125.41" y="72.67" width="6.81" height="6.79" fill="#248cca"/><rect x="131.72" y="72.67" width="6.81" height="6.79" fill="#1782c2"/><rect x="138.04" y="72.67" width="6.81" height="6.79" fill="#0d7aba"/><rect x="144.35" y="72.67" width="32.07" height="6.79" fill="#248cca"/><rect x="175.93" y="72.67" width="19.44" height="6.79" fill="#3096d3"/><rect x="194.87" y="72.67" width="6.81" height="6.79" fill="#399dd9"/><rect x="201.19" y="72.67" width="6.81" height="6.79" fill="#3096d3"/><rect x="207.50" y="72.67" width="6.81" height="6.79" fill="#248cca"/><rect x="213.82" y="72.67" width="13.13" height="6.79" fill="#1782c2"/><rect x="226.45" y="72.67" width="6.81" height="6.79" fill="#0d7aba"/><rect x="232.76" y="72.67" width="6.81" height="6.79" fill="#0674b4"/><rect x="239.08" y="72.67" width="6.81" height="6.79" fill="#0d7aba"/><rect x="245.39" y="72.67" width="25.76" height="6.79" fill="#0379aa"/><rect x="270.65" y="72.67" width="63.65" height="6.79" fill="#0081a1"/><rect x="37.00" y="78.96" width="13.13" height="6.79" fill="#10a074"/><rect x="49.63" y="78.96" width="6.81" height="6.79" fill="#00967e"/><rect x="55.94" y="78.96" width="13.13" height="6.79" fill="#008e88"/><rect x="68.57" y="78.96" width="6.81" height="6.79" fill="#008694"/><rect x="74.89" y="78.96" width="6.81" height="6.79" fill="#0379aa"/><rect x="81.20" y="78.96" width="6.81" height="6.79" fill="#0d7aba"/><rect x="87.52" y="78.96" width="6.81" height="6.79" fill="#0674b4"/><rect x="93.83" y="78.96" width="6.81" height="6.79" fill="#1782c2"/><rect x="100.15" y="78.96" width="19.44" height="6.79" fill="#0d7aba"/><rect x="119.09" y="78.96" width="13.13" height="6.79" fill="#399dd9"/><rect x="131.72" y="78.96" width="6.81" height="6.79" fill="#248cca"/><rect x="138.04" y="78.96" width="13.13" height="6.79" fill="#1782c2"/><rect x="150.67" y="78.96" width="19.44" height="6.79" fill="#248cca"/><rect x="169.61" y="78.96" width="13.13" height="6.79" fill="#3096d3"/><rect x="182.24" y="78.96" width="13.13" height="6.79" fill="#399dd9"/><rect x="194.87" y="78.96" width="6.81" height="6.79" fill="#44a6de"/><rect x="201.19" y="78.96" width="6.81" height="6.79" fill="#399dd9"/><rect x="207.50" y="78.96" width="6.81" height="6.79" fill="#3096d3"/><rect x="213.82" y="78.96" width="6.81" height="6.79" fill="#248cca"/><rect x="220.13" y="78.96" width="13.13" height="6.79" fill="#0d7aba"/><rect x="232.76" y="78.96" width="38.39" height="6.79" fill="#0674b4"/><rect x="270.65" y="78.96" width="6.81" height="6.79" fill="#0379aa"/><rect x="276.97" y="78.96" width="57.33" height="6.79" fill="#0081a1"/><rect x="37.00" y="85.26" width="13.13" height="6.79" fill="#10a074"/><rect x="49.63" y="85.26" width="6.81" height="6.79" fill="#00967e"/><rect x="55.94" y="85.26" width="13.13" height="6.79" fill="#008e88"/><rect x="68.57" y="85.26" width="6.81" height="6.79" fill="#008694"/><rect x="74.89" y="85.26" width="6.81" height="6.79" fill="#027da6"/><rect x="81.20" y="85.26" width="13.13" height="6.79" fill="#0674b4"/><rect x="93.83" y="85.26" width="13.13" height="6.79" fill="#0d7aba"/><rect x="106.46" y="85.26" width="6.81" height="6.79" fill="#0674b4"/><rect x="112.78" y="85.26" width="6.81" height="6.79" fill="#0d7aba"/><rect x="119.09" y="85.26" width="6.81" height="6.79" fill="#44a6de"/><rect x="125.41" y="85.26" width="6.81" height="6.79" fill="#5aafe5"/><rect x="131.72" y="85.26" width="13.13" height="6.79" fill="#248cca"/><rect x="144.35" y="85.26" width="6.81" height="6.79" fill="#3096d3"/><rect x="150.67" y="85.26" width="6.81" height="6.79" fill="#3ea1dc"/><rect x="156.98" y="85.26" width="6.81" height="6.79" fill="#3096d3"/><rect x="163.30" y="85.26" width="6.81" height="6.79" fill="#248cca"/><rect x="169.61" y="85.26" width="6.81" height="6.79" fill="#3096d3"/><rect x="175.93" y="85.26" width="19.44" height="6.79" fill="#3ea1dc"/><rect x="194.87" y="85.26" width="6.81" height="6.79" fill="#51aee4"/><rect x="201.19" y="85.26" width="6.81" height="6.79" fill="#399dd9"/><rect x="207.50" y="85.26" width="6.81" height="6.79" fill="#3096d3"/><rect x="213.82" y="85.26" width="6.81" height="6.79" fill="#248cca"/><rect x="220.13" y="85.26" width="6.81" height="6.79" fill="#1782c2"/><rect x="226.45" y="85.26" width="6.81" height="6.79" fill="#3096d3"/><rect x="232.76" y="85.26" width="6.81" height="6.79" fill="#399dd9"/><rect x="239.08" y="85.26" width="6.81" height="6.79" fill="#3096d3"/><rect x="245.39" y="85.26" width="6.81" height="6.79" fill="#248cca"/><rect x="251.71" y="85.26" width="6.81" height="6.79" fill="#0d7aba"/><rect x="258.02" y="85.26" width="13.13" height="6.79" fill="#0674b4"/><rect x="270.65" y="85.26" width="44.70" height="6.79" fill="#0379aa"/><rect x="314.86" y="85.26" width="19.44" height="6.79" fill="#0081a1"/><rect x="37.00" y="91.55" width="6.81" height="6.79" fill="#10a074"/><rect x="43.31" y="91.55" width="13.13" height="6.79" fill="#008e88"/><rect x="55.94" y="91.55" width="6.81" height="6.79" fill="#008694"/><rect x="62.26" y="91.55" width="6.81" height="6.79" fill="#008e88"/><rect x="68.57" y="91.55" width="6.81" height="6.79" fill="#008694"/><rect x="74.89" y="91.55" width="6.81" height="6.79" fill="#027da6"/><rect x="81.20" y="91.55" width="19.44" height="6.79" fill="#0674b4"/><rect x="100.15" y="91.55" width="6.81" height="6.79" fill="#0d7aba"/><rect x="106.46" y="91.55" width="6.81" height="6.79" fill="#0674b4"/><rect x="112.78" y="91.55" width="6.81" height="6.79" fill="#248cca"/><rect x="119.09" y="91.55" width="6.81" height="6.79" fill="#44a6de"/><rect x="125.41" y="91.55" width="6.81" height="6.79" fill="#51aee4"/><rect x="131.72" y="91.55" width="6.81" height="6.79" fill="#3096d3"/><rect x="138.04" y="91.55" width="6.81" height="6.79" fill="#3ea1dc"/><rect x="144.35" y="91.55" width="13.13" height="6.79" fill="#51aee4"/><rect x="156.98" y="91.55" width="6.81" height="6.79" fill="#3ea1dc"/><rect x="163.30" y="91.55" width="13.13" height="6.79" fill="#3096d3"/><rect x="175.93" y="91.55" width="6.81" height="6.79" fill="#3ea1dc"/><rect x="182.24" y="91.55" width="6.81" height="6.79" fill="#51aee4"/><rect x="188.56" y="91.55" width="13.13" height="6.79" fill="#3ea1dc"/><rect x="201.19" y="91.55" width="6.81" height="6.79" fill="#248cca"/><rect x="207.50" y="91.55" width="19.44" height="6.79" fill="#1782c2"/><rect x="226.45" y="91.55" width="38.39" height="6.79" fill="#399dd9"/><rect x="264.34" y="91.55" width="6.81" height="6.79" fill="#248cca"/><rect x="270.65" y="91.55" width="6.81" height="6.79" fill="#1782c2"/><rect x="276.97" y="91.55" width="6.81" height="6.79" fill="#0674b4"/><rect x="283.28" y="91.55" width="38.39" height="6.79" fill="#0379aa"/><rect x="321.17" y="91.55" width="13.13" height="6.79" fill="#0081a1"/><rect x="37.00" y="97.85" width="6.81" height="6.79" fill="#00967e"/><rect x="43.31" y="97.85" width="6.81" height="6.79" fill="#008694"/><rect x="49.63" y="97.85" width="13.13" height="6.79" fill="#008e88"/><rect x="62.26" y="97.85" width="13.13" height="6.79" fill="#008694"/><rect x="74.89" y="97.85" width="6.81" height="6.79" fill="#027da6"/><rect x="81.20" y="97.85" width="6.81" height="6.79" fill="#0476af"/><rect x="87.52" y="97.85" width="13.13" height="6.79" fill="#0674b4"/><rect x="100.15" y="97.85" width="13.13" height="6.79" fill="#0d7aba"/><rect x="112.78" y="97.85" width="6.81" height="6.79" fill="#0674b4"/><rect x="119.09" y="97.85" width="6.81" height="6.79" fill="#1782c2"/><rect x="125.41" y="97.85" width="6.81" height="6.79" fill="#3096d3"/><rect x="131.72" y="97.85" width="6.81" height="6.79" fill="#1782c2"/><rect x="138.04" y="97.85" width="6.81" height="6.79" fill="#3ea1dc"/><rect x="144.35" y="97.85" width="6.81" height="6.79" fill="#51aee4"/><rect x="150.67" y="97.85" width="19.44" height="6.79" fill="#3ea1dc"/><rect x="169.61" y="97.85" width="19.44" height="6.79" fill="#51aee4"/><rect x="188.56" y="97.85" width="6.81" height="6.79" fill="#3ea1dc"/><rect x="194.87" y="97.85" width="6.81" height="6.79" fill="#3096d3"/><rect x="201.19" y="97.85" width="25.76" height="6.79" fill="#1782c2"/><rect x="226.45" y="97.85" width="13.13" height="6.79" fill="#3096d3"/><rect x="239.08" y="97.85" width="6.81" height="6.79" fill="#399dd9"/><rect x="245.39" y="97.85" width="38.39" height="6.79" fill="#3096d3"/><rect x="283.28" y="97.85" width="6.81" height="6.79" fill="#1782c2"/><rect x="289.60" y="97.85" width="6.81" height="6.79" fill="#0d7aba"/><rect x="295.91" y="97.85" width="6.81" height="6.79" fill="#0674b4"/><rect x="302.23" y="97.85" width="32.07" height="6.79" fill="#0379aa"/><rect x="37.00" y="104.14" width="32.07" height="6.79" fill="#008e88"/><rect x="68.57" y="104.14" width="6.81" height="6.79" fill="#008694"/><rect x="74.89" y="104.14" width="6.81" height="6.79" fill="#027da6"/><rect x="81.20" y="104.14" width="6.81" height="6.79" fill="#0379aa"/><rect x="87.52" y="104.14" width="13.13" height="6.79" fill="#0674b4"/><rect x="100.15" y="104.14" width="13.13" height="6.79" fill="#0d7aba"/><rect x="112.78" y="104.14" width="6.81" height="6.79" fill="#0674b4"/><rect x="119.09" y="104.14" width="13.13" height="6.79" fill="#1782c2"/><rect x="131.72" y="104.14" width="6.81" height="6.79" fill="#248cca"/><rect x="138.04" y="104.14" width="6.81" height="6.79" fill="#3096d3"/><rect x="144.35" y="104.14" width="13.13" height="6.79" fill="#3ea1dc"/><rect x="156.98" y="104.14" width="6.81" height="6.79" fill="#51aee4"/><rect x="163.30" y="104.14" width="6.81" height="6.79" fill="#3ea1dc"/><rect x="169.61" y="104.14" width="6.81" height="6.79" fill="#51aee4"/><rect x="175.93" y="104.14" width="13.13" height="6.79" fill="#3ea1dc"/><rect x="188.56" y="104.14" width="6.81" height="6.79" fill="#3096d3"/><rect x="194.87" y="104.14" width="6.81" height="6.79" fill="#248cca"/><rect x="201.19" y="104.14" width="19.44" height="6.79" fill="#1782c2"/><rect x="220.13" y="104.14" width="6.81" height="6.79" fill="#248cca"/><rect x="226.45" y="104.14" width="13.13" height="6.79" fill="#3096d3"/><rect x="239.08" y="104.14" width="13.13" height="6.79" fill="#399dd9"/><rect x="251.71" y="104.14" width="32.07" height="6.79" fill="#248cca"/><rect x="283.28" y="104.14" width="13.13" height="6.79" fill="#3096d3"/><rect x="295.91" y="104.14" width="6.81" height="6.79" fill="#1782c2"/><rect x="302.23" y="104.14" width="6.81" height="6.79" fill="#0d7aba"/><rect x="308.54" y="104.14" width="13.13" height="6.79" fill="#0674b4"/><rect x="321.17" y="104.14" width="13.13" height="6.79" fill="#0379aa"/><rect x="37.00" y="110.44" width="6.81" height="6.79" fill="#008e88"/><rect x="43.31" y="110.44" width="13.13" height="6.79" fill="#00967e"/><rect x="55.94" y="110.44" width="19.44" height="6.79" fill="#008e88"/><rect x="74.89" y="110.44" width="6.81" height="6.79" fill="#0081a1"/><rect x="81.20" y="110.44" width="13.13" height="6.79" fill="#0379aa"/><rect x="93.83" y="110.44" width="19.44" height="6.79" fill="#0674b4"/><rect x="112.78" y="110.44" width="6.81" height="6.79" fill="#0d7aba"/><rect x="119.09" y="110.44" width="6.81" height="6.79" fill="#1782c2"/><rect x="125.41" y="110.44" width="13.13" height="6.79" fill="#3096d3"/><rect x="138.04" y="110.44" width="6.81" height="6.79" fill="#248cca"/><rect x="144.35" y="110.44" width="13.13" height="6.79" fill="#3096d3"/><rect x="156.98" y="110.44" width="6.81" height="6.79" fill="#44a6de"/><rect x="163.30" y="110.44" width="13.13" height="6.79" fill="#399dd9"/><rect x="175.93" y="110.44" width="6.81" height="6.79" fill="#3096d3"/><rect x="182.24" y="110.44" width="6.81" height="6.79" fill="#248cca"/><rect x="188.56" y="110.44" width="32.07" height="6.79" fill="#1782c2"/><rect x="220.13" y="110.44" width="76.28" height="6.79" fill="#248cca"/><rect x="295.91" y="110.44" width="13.13" height="6.79" fill="#3096d3"/><rect x="308.54" y="110.44" width="6.81" height="6.79" fill="#0d7aba"/><rect x="314.86" y="110.44" width="19.44" height="6.79" fill="#0674b4"/><rect x="37.00" y="116.73" width="13.13" height="6.79" fill="#10a074"/><rect x="49.63" y="116.73" width="13.13" height="6.79" fill="#00967e"/><rect x="62.26" y="116.73" width="13.13" height="6.79" fill="#008e88"/><rect x="74.89" y="116.73" width="6.81" height="6.79" fill="#008694"/><rect x="81.20" y="116.73" width="19.44" height="6.79" fill="#0081a1"/><rect x="100.15" y="116.73" width="6.81" height="6.79" fill="#008694"/><rect x="106.46" y="116.73" width="6.81" height="6.79" fill="#0081a1"/><rect x="112.78" y="116.73" width="13.13" height="6.79" fill="#0379aa"/><rect x="125.41" y="116.73" width="6.81" height="6.79" fill="#0d7aba"/><rect x="131.72" y="116.73" width="13.13" height="6.79" fill="#1782c2"/><rect x="144.35" y="116.73" width="6.81" height="6.79" fill="#399dd9"/><rect x="150.67" y="116.73" width="13.13" height="6.79" fill="#44a6de"/><rect x="163.30" y="116.73" width="6.81" height="6.79" fill="#3096d3"/><rect x="169.61" y="116.73" width="6.81" height="6.79" fill="#248cca"/><rect x="175.93" y="116.73" width="32.07" height="6.79" fill="#0d7aba"/><rect x="207.50" y="116.73" width="19.44" height="6.79" fill="#1782c2"/><rect x="226.45" y="116.73" width="63.65" height="6.79" fill="#248cca"/><rect x="289.60" y="116.73" width="19.44" height="6.79" fill="#3096d3"/><rect x="308.54" y="116.73" width="6.81" height="6.79" fill="#399dd9"/><rect x="314.86" y="116.73" width="6.81" height="6.79" fill="#1782c2"/><rect x="321.17" y="116.73" width="6.81" height="6.79" fill="#0d7aba"/><rect x="327.49" y="116.73" width="6.81" height="6.79" fill="#0674b4"/><rect x="37.00" y="123.02" width="19.44" height="6.79" fill="#10a074"/><rect x="55.94" y="123.02" width="13.13" height="6.79" fill="#00967e"/><rect x="68.57" y="123.02" width="13.13" height="6.79" fill="#008e88"/><rect x="81.20" y="123.02" width="13.13" height="6.79" fill="#008694"/><rect x="93.83" y="123.02" width="6.81" height="6.79" fill="#008e88"/><rect x="100.15" y="123.02" width="6.81" height="6.79" fill="#00967e"/><rect x="106.46" y="123.02" width="6.81" height="6.79" fill="#008e88"/><rect x="112.78" y="123.02" width="6.81" height="6.79" fill="#0081a1"/><rect x="119.09" y="123.02" width="6.81" height="6.79" fill="#0379aa"/><rect x="125.41" y="123.02" width="6.81" height="6.79" fill="#0674b4"/><rect x="131.72" y="123.02" width="13.13" height="6.79" fill="#1782c2"/><rect x="144.35" y="123.02" width="19.44" height="6.79" fill="#399dd9"/><rect x="163.30" y="123.02" width="6.81" height="6.79" fill="#3096d3"/><rect x="169.61" y="123.02" width="6.81" height="6.79" fill="#1782c2"/><rect x="175.93" y="123.02" width="6.81" height="6.79" fill="#008694"/><rect x="182.24" y="123.02" width="6.81" height="6.79" fill="#0081a1"/><rect x="188.56" y="123.02" width="6.81" height="6.79" fill="#0379aa"/><rect x="194.87" y="123.02" width="13.13" height="6.79" fill="#0d7aba"/><rect x="207.50" y="123.02" width="32.07" height="6.79" fill="#1782c2"/><rect x="239.08" y="123.02" width="44.70" height="6.79" fill="#248cca"/><rect x="283.28" y="123.02" width="19.44" height="6.79" fill="#3096d3"/><rect x="302.23" y="123.02" width="19.44" height="6.79" fill="#399dd9"/><rect x="321.17" y="123.02" width="6.81" height="6.79" fill="#3096d3"/><rect x="327.49" y="123.02" width="6.81" height="6.79" fill="#1782c2"/><rect x="37.00" y="129.32" width="13.13" height="6.79" fill="#10a074"/><rect x="49.63" y="129.32" width="13.13" height="6.79" fill="#00967e"/><rect x="62.26" y="129.32" width="19.44" height="6.79" fill="#008e88"/><rect x="81.20" y="129.32" width="6.81" height="6.79" fill="#008694"/><rect x="87.52" y="129.32" width="6.81" height="6.79" fill="#10a074"/><rect x="93.83" y="129.32" width="6.81" height="6.79" fill="#68b85c"/><rect x="100.15" y="129.32" width="6.81" height="6.79" fill="#28a86c"/><rect x="106.46" y="129.32" width="6.81" height="6.79" fill="#008694"/><rect x="112.78" y="129.32" width="6.81" height="6.79" fill="#0379aa"/><rect x="119.09" y="129.32" width="13.13" height="6.79" fill="#0674b4"/><rect x="131.72" y="129.32" width="13.13" height="6.79" fill="#1782c2"/><rect x="144.35" y="129.32" width="6.81" height="6.79" fill="#3096d3"/><rect x="150.67" y="129.32" width="13.13" height="6.79" fill="#399dd9"/><rect x="163.30" y="129.32" width="6.81" height="6.79" fill="#3096d3"/><rect x="169.61" y="129.32" width="6.81" height="6.79" fill="#248cca"/><rect x="175.93" y="129.32" width="13.13" height="6.79" fill="#008694"/><rect x="188.56" y="129.32" width="6.81" height="6.79" fill="#0379aa"/><rect x="194.87" y="129.32" width="13.13" height="6.79" fill="#0d7aba"/><rect x="207.50" y="129.32" width="6.81" height="6.79" fill="#1782c2"/><rect x="213.82" y="129.32" width="19.44" height="6.79" fill="#0d7aba"/><rect x="232.76" y="129.32" width="6.81" height="6.79" fill="#1782c2"/><rect x="239.08" y="129.32" width="19.44" height="6.79" fill="#248cca"/><rect x="258.02" y="129.32" width="44.70" height="6.79" fill="#3096d3"/><rect x="302.23" y="129.32" width="19.44" height="6.79" fill="#399dd9"/><rect x="321.17" y="129.32" width="6.81" height="6.79" fill="#44a6de"/><rect x="327.49" y="129.32" width="6.81" height="6.79" fill="#399dd9"/><rect x="37.00" y="135.61" width="38.39" height="6.79" fill="#00967e"/><rect x="74.89" y="135.61" width="6.81" height="6.79" fill="#008e88"/><rect x="81.20" y="135.61" width="13.13" height="6.79" fill="#48b066"/><rect x="93.83" y="135.61" width="6.81" height="6.79" fill="#28a86c"/><rect x="100.15" y="135.61" width="6.81" height="6.79" fill="#008e88"/><rect x="106.46" y="135.61" width="6.81" height="6.79" fill="#0081a1"/><rect x="112.78" y="135.61" width="19.44" height="6.79" fill="#0674b4"/><rect x="131.72" y="135.61" width="6.81" height="6.79" fill="#0d7aba"/><rect x="138.04" y="135.61" width="6.81" height="6.79" fill="#248cca"/><rect x="144.35" y="135.61" width="19.44" height="6.79" fill="#3096d3"/><rect x="163.30" y="135.61" width="6.81" height="6.79" fill="#248cca"/><rect x="169.61" y="135.61" width="6.81" height="6.79" fill="#1782c2"/><rect x="175.93" y="135.61" width="6.81" height="6.79" fill="#008e88"/><rect x="182.24" y="135.61" width="6.81" height="6.79" fill="#008694"/><rect x="188.56" y="135.61" width="6.81" height="6.79" fill="#0379aa"/><rect x="194.87" y="135.61" width="13.13" height="6.79" fill="#0d7aba"/><rect x="207.50" y="135.61" width="6.81" height="6.79" fill="#1782c2"/><rect x="213.82" y="135.61" width="19.44" height="6.79" fill="#0d7aba"/><rect x="232.76" y="135.61" width="6.81" height="6.79" fill="#1782c2"/><rect x="239.08" y="135.61" width="13.13" height="6.79" fill="#248cca"/><rect x="251.71" y="135.61" width="51.02" height="6.79" fill="#3096d3"/><rect x="302.23" y="135.61" width="13.13" height="6.79" fill="#399dd9"/><rect x="314.86" y="135.61" width="19.44" height="6.79" fill="#44a6de"/><rect x="37.00" y="141.91" width="13.13" height="6.79" fill="#10a074"/><rect x="49.63" y="141.91" width="6.81" height="6.79" fill="#28a86c"/><rect x="55.94" y="141.91" width="6.81" height="6.79" fill="#48b066"/><rect x="62.26" y="141.91" width="6.81" height="6.79" fill="#a8ca4c"/><rect x="68.57" y="141.91" width="6.81" height="6.79" fill="#68b85c"/><rect x="74.89" y="141.91" width="13.13" height="6.79" fill="#48b066"/><rect x="87.52" y="141.91" width="6.81" height="6.79" fill="#28a86c"/><rect x="93.83" y="141.91" width="6.81" height="6.79" fill="#00967e"/><rect x="100.15" y="141.91" width="6.81" height="6.79" fill="#008694"/><rect x="106.46" y="141.91" width="6.81" height="6.79" fill="#0081a1"/><rect x="112.78" y="141.91" width="19.44" height="6.79" fill="#0674b4"/><rect x="131.72" y="141.91" width="6.81" height="6.79" fill="#1782c2"/><rect x="138.04" y="141.91" width="6.81" height="6.79" fill="#248cca"/><rect x="144.35" y="141.91" width="13.13" height="6.79" fill="#3096d3"/><rect x="156.98" y="141.91" width="6.81" height="6.79" fill="#248cca"/><rect x="163.30" y="141.91" width="6.81" height="6.79" fill="#1782c2"/><rect x="169.61" y="141.91" width="6.81" height="6.79" fill="#0d7aba"/><rect x="175.93" y="141.91" width="6.81" height="6.79" fill="#0674b4"/><rect x="182.24" y="141.91" width="6.81" height="6.79" fill="#0081a1"/><rect x="188.56" y="141.91" width="6.81" height="6.79" fill="#0379aa"/><rect x="194.87" y="141.91" width="13.13" height="6.79" fill="#0d7aba"/><rect x="207.50" y="141.91" width="6.81" height="6.79" fill="#1782c2"/><rect x="213.82" y="141.91" width="19.44" height="6.79" fill="#0d7aba"/><rect x="232.76" y="141.91" width="6.81" height="6.79" fill="#1782c2"/><rect x="239.08" y="141.91" width="6.81" height="6.79" fill="#248cca"/><rect x="245.39" y="141.91" width="32.07" height="6.79" fill="#3096d3"/><rect x="276.97" y="141.91" width="32.07" height="6.79" fill="#399dd9"/><rect x="308.54" y="141.91" width="25.76" height="6.79" fill="#44a6de"/><rect x="37.00" y="148.20" width="19.44" height="6.79" fill="#10a074"/><rect x="55.94" y="148.20" width="6.81" height="6.79" fill="#68b85c"/><rect x="62.26" y="148.20" width="6.81" height="6.79" fill="#a8ca4c"/><rect x="68.57" y="148.20" width="6.81" height="6.79" fill="#28a86c"/><rect x="74.89" y="148.20" width="6.81" height="6.79" fill="#10a074"/><rect x="81.20" y="148.20" width="13.13" height="6.79" fill="#00967e"/><rect x="93.83" y="148.20" width="6.81" height="6.79" fill="#008e88"/><rect x="100.15" y="148.20" width="6.81" height="6.79" fill="#008694"/><rect x="106.46" y="148.20" width="6.81" height="6.79" fill="#0379aa"/><rect x="112.78" y="148.20" width="19.44" height="6.79" fill="#0674b4"/><rect x="131.72" y="148.20" width="6.81" height="6.79" fill="#1782c2"/><rect x="138.04" y="148.20" width="19.44" height="6.79" fill="#3096d3"/><rect x="156.98" y="148.20" width="6.81" height="6.79" fill="#248cca"/><rect x="163.30" y="148.20" width="13.13" height="6.79" fill="#0d7aba"/><rect x="175.93" y="148.20" width="6.81" height="6.79" fill="#0674b4"/><rect x="182.24" y="148.20" width="6.81" height="6.79" fill="#0081a1"/><rect x="188.56" y="148.20" width="6.81" height="6.79" fill="#0379aa"/><rect x="194.87" y="148.20" width="13.13" height="6.79" fill="#0d7aba"/><rect x="207.50" y="148.20" width="6.81" height="6.79" fill="#1782c2"/><rect x="213.82" y="148.20" width="13.13" height="6.79" fill="#0674b4"/><rect x="226.45" y="148.20" width="6.81" height="6.79" fill="#0d7aba"/><rect x="232.76" y="148.20" width="13.13" height="6.79" fill="#248cca"/><rect x="245.39" y="148.20" width="25.76" height="6.79" fill="#3096d3"/><rect x="270.65" y="148.20" width="63.65" height="6.79" fill="#399dd9"/><rect x="37.00" y="154.50" width="13.13" height="6.79" fill="#10a074"/><rect x="49.63" y="154.50" width="13.13" height="6.79" fill="#48b066"/><rect x="62.26" y="154.50" width="13.13" height="6.79" fill="#28a86c"/><rect x="74.89" y="154.50" width="6.81" height="6.79" fill="#00967e"/><rect x="81.20" y="154.50" width="13.13" height="6.79" fill="#008e88"/><rect x="93.83" y="154.50" width="6.81" height="6.79" fill="#008694"/><rect x="100.15" y="154.50" width="6.81" height="6.79" fill="#0081a1"/><rect x="106.46" y="154.50" width="19.44" height="6.79" fill="#0674b4"/><rect x="125.41" y="154.50" width="13.13" height="6.79" fill="#0d7aba"/><rect x="138.04" y="154.50" width="6.81" height="6.79" fill="#248cca"/><rect x="144.35" y="154.50" width="6.81" height="6.79" fill="#1782c2"/><rect x="150.67" y="154.50" width="6.81" height="6.79" fill="#0d7aba"/><rect x="156.98" y="154.50" width="6.81" height="6.79" fill="#0379aa"/><rect x="163.30" y="154.50" width="25.76" height="6.79" fill="#0081a1"/><rect x="188.56" y="154.50" width="6.81" height="6.79" fill="#0379aa"/><rect x="194.87" y="154.50" width="13.13" height="6.79" fill="#0d7aba"/><rect x="207.50" y="154.50" width="6.81" height="6.79" fill="#248cca"/><rect x="213.82" y="154.50" width="13.13" height="6.79" fill="#0674b4"/><rect x="226.45" y="154.50" width="6.81" height="6.79" fill="#1782c2"/><rect x="232.76" y="154.50" width="6.81" height="6.79" fill="#248cca"/><rect x="239.08" y="154.50" width="25.76" height="6.79" fill="#3096d3"/><rect x="264.34" y="154.50" width="38.39" height="6.79" fill="#399dd9"/><rect x="302.23" y="154.50" width="25.76" height="6.79" fill="#44a6de"/><rect x="327.49" y="154.50" width="6.81" height="6.79" fill="#399dd9"/><rect x="37.00" y="160.79" width="19.44" height="6.79" fill="#10a074"/><rect x="55.94" y="160.79" width="6.81" height="6.79" fill="#68b85c"/><rect x="62.26" y="160.79" width="13.13" height="6.79" fill="#00967e"/><rect x="74.89" y="160.79" width="19.44" height="6.79" fill="#008e88"/><rect x="93.83" y="160.79" width="6.81" height="6.79" fill="#008694"/><rect x="100.15" y="160.79" width="6.81" height="6.79" fill="#0081a1"/><rect x="106.46" y="160.79" width="25.76" height="6.79" fill="#0674b4"/><rect x="131.72" y="160.79" width="6.81" height="6.79" fill="#0d7aba"/><rect x="138.04" y="160.79" width="6.81" height="6.79" fill="#1782c2"/><rect x="144.35" y="160.79" width="6.81" height="6.79" fill="#0674b4"/><rect x="150.67" y="160.79" width="6.81" height="6.79" fill="#008694"/><rect x="156.98" y="160.79" width="19.44" height="6.79" fill="#008a8e"/><rect x="175.93" y="160.79" width="6.81" height="6.79" fill="#008694"/><rect x="182.24" y="160.79" width="6.81" height="6.79" fill="#0081a1"/><rect x="188.56" y="160.79" width="6.81" height="6.79" fill="#0379aa"/><rect x="194.87" y="160.79" width="32.07" height="6.79" fill="#0d7aba"/><rect x="226.45" y="160.79" width="6.81" height="6.79" fill="#1782c2"/><rect x="232.76" y="160.79" width="32.07" height="6.79" fill="#3096d3"/><rect x="264.34" y="160.79" width="25.76" height="6.79" fill="#399dd9"/><rect x="289.60" y="160.79" width="44.70" height="6.79" fill="#44a6de"/><rect x="37.00" y="167.09" width="6.81" height="6.79" fill="#28a86c"/><rect x="43.31" y="167.09" width="6.81" height="6.79" fill="#68b85c"/><rect x="49.63" y="167.09" width="6.81" height="6.79" fill="#a8ca4c"/><rect x="55.94" y="167.09" width="6.81" height="6.79" fill="#48b066"/><rect x="62.26" y="167.09" width="6.81" height="6.79" fill="#00967e"/><rect x="68.57" y="167.09" width="19.44" height="6.79" fill="#008e88"/><rect x="87.52" y="167.09" width="6.81" height="6.79" fill="#008694"/><rect x="93.83" y="167.09" width="6.81" height="6.79" fill="#0081a1"/><rect x="100.15" y="167.09" width="6.81" height="6.79" fill="#0379aa"/><rect x="106.46" y="167.09" width="13.13" height="6.79" fill="#0674b4"/><rect x="119.09" y="167.09" width="6.81" height="6.79" fill="#0379aa"/><rect x="125.41" y="167.09" width="13.13" height="6.79" fill="#0674b4"/><rect x="138.04" y="167.09" width="6.81" height="6.79" fill="#0d7aba"/><rect x="144.35" y="167.09" width="6.81" height="6.79" fill="#0081a1"/><rect x="150.67" y="167.09" width="6.81" height="6.79" fill="#008694"/><rect x="156.98" y="167.09" width="13.13" height="6.79" fill="#008a8e"/><rect x="169.61" y="167.09" width="6.81" height="6.79" fill="#008694"/><rect x="175.93" y="167.09" width="13.13" height="6.79" fill="#0081a1"/><rect x="188.56" y="167.09" width="6.81" height="6.79" fill="#0379aa"/><rect x="194.87" y="167.09" width="6.81" height="6.79" fill="#0674b4"/><rect x="201.19" y="167.09" width="19.44" height="6.79" fill="#0d7aba"/><rect x="220.13" y="167.09" width="6.81" height="6.79" fill="#1782c2"/><rect x="226.45" y="167.09" width="6.81" height="6.79" fill="#248cca"/><rect x="232.76" y="167.09" width="25.76" height="6.79" fill="#3096d3"/><rect x="258.02" y="167.09" width="25.76" height="6.79" fill="#399dd9"/><rect x="283.28" y="167.09" width="44.70" height="6.79" fill="#44a6de"/><rect x="327.49" y="167.09" width="6.81" height="6.79" fill="#51aee4"/><rect x="37.00" y="173.38" width="6.81" height="6.79" fill="#48b066"/><rect x="43.31" y="173.38" width="6.81" height="6.79" fill="#a8ca4c"/><rect x="49.63" y="173.38" width="6.81" height="6.79" fill="#68b85c"/><rect x="55.94" y="173.38" width="13.13" height="6.79" fill="#00967e"/><rect x="68.57" y="173.38" width="19.44" height="6.79" fill="#008e88"/><rect x="87.52" y="173.38" width="6.81" height="6.79" fill="#008694"/><rect x="93.83" y="173.38" width="6.81" height="6.79" fill="#0674b4"/><rect x="100.15" y="173.38" width="6.81" height="6.79" fill="#0081a1"/><rect x="106.46" y="173.38" width="13.13" height="6.79" fill="#0379aa"/><rect x="119.09" y="173.38" width="19.44" height="6.79" fill="#0081a1"/><rect x="138.04" y="173.38" width="6.81" height="6.79" fill="#008694"/><rect x="144.35" y="173.38" width="6.81" height="6.79" fill="#008e88"/><rect x="150.67" y="173.38" width="6.81" height="6.79" fill="#28a86c"/><rect x="156.98" y="173.38" width="6.81" height="6.79" fill="#008e88"/><rect x="163.30" y="173.38" width="13.13" height="6.79" fill="#008694"/><rect x="175.93" y="173.38" width="13.13" height="6.79" fill="#0081a1"/><rect x="188.56" y="173.38" width="6.81" height="6.79" fill="#0379aa"/><rect x="194.87" y="173.38" width="6.81" height="6.79" fill="#0674b4"/><rect x="201.19" y="173.38" width="19.44" height="6.79" fill="#0d7aba"/><rect x="220.13" y="173.38" width="6.81" height="6.79" fill="#1782c2"/><rect x="226.45" y="173.38" width="6.81" height="6.79" fill="#3096d3"/><rect x="232.76" y="173.38" width="6.81" height="6.79" fill="#399dd9"/><rect x="239.08" y="173.38" width="19.44" height="6.79" fill="#3096d3"/><rect x="258.02" y="173.38" width="25.76" height="6.79" fill="#399dd9"/><rect x="283.28" y="173.38" width="38.39" height="6.79" fill="#44a6de"/><rect x="321.17" y="173.38" width="13.13" height="6.79" fill="#51aee4"/><rect x="37.00" y="179.68" width="6.81" height="6.79" fill="#28a86c"/><rect x="43.31" y="179.68" width="6.81" height="6.79" fill="#88c054"/><rect x="49.63" y="179.68" width="6.81" height="6.79" fill="#28a86c"/><rect x="55.94" y="179.68" width="19.44" height="6.79" fill="#00967e"/><rect x="74.89" y="179.68" width="13.13" height="6.79" fill="#008e88"/><rect x="87.52" y="179.68" width="6.81" height="6.79" fill="#008694"/><rect x="93.83" y="179.68" width="6.81" height="6.79" fill="#0379aa"/><rect x="100.15" y="179.68" width="6.81" height="6.79" fill="#0081a1"/><rect x="106.46" y="179.68" width="6.81" height="6.79" fill="#0379aa"/><rect x="112.78" y="179.68" width="13.13" height="6.79" fill="#0081a1"/><rect x="125.41" y="179.68" width="13.13" height="6.79" fill="#008694"/><rect x="138.04" y="179.68" width="6.81" height="6.79" fill="#10a074"/><rect x="144.35" y="179.68" width="13.13" height="6.79" fill="#008e88"/><rect x="156.98" y="179.68" width="19.44" height="6.79" fill="#008694"/><rect x="175.93" y="179.68" width="13.13" height="6.79" fill="#0081a1"/><rect x="188.56" y="179.68" width="6.81" height="6.79" fill="#0379aa"/><rect x="194.87" y="179.68" width="6.81" height="6.79" fill="#0674b4"/><rect x="201.19" y="179.68" width="13.13" height="6.79" fill="#0d7aba"/><rect x="213.82" y="179.68" width="6.81" height="6.79" fill="#248cca"/><rect x="220.13" y="179.68" width="6.81" height="6.79" fill="#3096d3"/><rect x="226.45" y="179.68" width="13.13" height="6.79" fill="#399dd9"/><rect x="239.08" y="179.68" width="19.44" height="6.79" fill="#3096d3"/><rect x="258.02" y="179.68" width="6.81" height="6.79" fill="#399dd9"/><rect x="264.34" y="179.68" width="6.81" height="6.79" fill="#44a6de"/><rect x="270.65" y="179.68" width="13.13" height="6.79" fill="#399dd9"/><rect x="283.28" y="179.68" width="32.07" height="6.79" fill="#44a6de"/><rect x="314.86" y="179.68" width="19.44" height="6.79" fill="#51aee4"/><rect x="37.00" y="185.97" width="6.81" height="6.79" fill="#10a074"/><rect x="43.31" y="185.97" width="6.81" height="6.79" fill="#28a86c"/><rect x="49.63" y="185.97" width="25.76" height="6.79" fill="#00967e"/><rect x="74.89" y="185.97" width="13.13" height="6.79" fill="#008e88"/><rect x="87.52" y="185.97" width="6.81" height="6.79" fill="#008694"/><rect x="93.83" y="185.97" width="25.76" height="6.79" fill="#0081a1"/><rect x="119.09" y="185.97" width="19.44" height="6.79" fill="#008694"/><rect x="138.04" y="185.97" width="6.81" height="6.79" fill="#00967e"/><rect x="144.35" y="185.97" width="6.81" height="6.79" fill="#248cca"/><rect x="150.67" y="185.97" width="25.76" height="6.79" fill="#008694"/><rect x="175.93" y="185.97" width="13.13" height="6.79" fill="#0081a1"/><rect x="188.56" y="185.97" width="6.81" height="6.79" fill="#0379aa"/><rect x="194.87" y="185.97" width="6.81" height="6.79" fill="#0674b4"/><rect x="201.19" y="185.97" width="6.81" height="6.79" fill="#0d7aba"/><rect x="207.50" y="185.97" width="6.81" height="6.79" fill="#1782c2"/><rect x="213.82" y="185.97" width="6.81" height="6.79" fill="#3096d3"/><rect x="220.13" y="185.97" width="19.44" height="6.79" fill="#399dd9"/><rect x="239.08" y="185.97" width="13.13" height="6.79" fill="#3096d3"/><rect x="251.71" y="185.97" width="6.81" height="6.79" fill="#399dd9"/><rect x="258.02" y="185.97" width="13.13" height="6.79" fill="#44a6de"/><rect x="270.65" y="185.97" width="6.81" height="6.79" fill="#399dd9"/><rect x="276.97" y="185.97" width="38.39" height="6.79" fill="#44a6de"/><rect x="314.86" y="185.97" width="19.44" height="6.79" fill="#51aee4"/><rect x="37.00" y="192.26" width="13.13" height="6.79" fill="#48b066"/><rect x="49.63" y="192.26" width="13.13" height="6.79" fill="#28a86c"/><rect x="62.26" y="192.26" width="19.44" height="6.79" fill="#00967e"/><rect x="81.20" y="192.26" width="13.13" height="6.79" fill="#008e88"/><rect x="93.83" y="192.26" width="6.81" height="6.79" fill="#008694"/><rect x="100.15" y="192.26" width="19.44" height="6.79" fill="#0081a1"/><rect x="119.09" y="192.26" width="13.13" height="6.79" fill="#008694"/><rect x="131.72" y="192.26" width="6.81" height="6.79" fill="#008e88"/><rect x="138.04" y="192.26" width="6.81" height="6.79" fill="#10a074"/><rect x="144.35" y="192.26" width="6.81" height="6.79" fill="#00967e"/><rect x="150.67" y="192.26" width="19.44" height="6.79" fill="#008e88"/><rect x="169.61" y="192.26" width="19.44" height="6.79" fill="#008694"/><rect x="188.56" y="192.26" width="6.81" height="6.79" fill="#0081a1"/><rect x="194.87" y="192.26" width="6.81" height="6.79" fill="#0674b4"/><rect x="201.19" y="192.26" width="6.81" height="6.79" fill="#0d7aba"/><rect x="207.50" y="192.26" width="6.81" height="6.79" fill="#1782c2"/><rect x="213.82" y="192.26" width="6.81" height="6.79" fill="#248cca"/><rect x="220.13" y="192.26" width="32.07" height="6.79" fill="#3096d3"/><rect x="251.71" y="192.26" width="6.81" height="6.79" fill="#399dd9"/><rect x="258.02" y="192.26" width="6.81" height="6.79" fill="#44a6de"/><rect x="264.34" y="192.26" width="13.13" height="6.79" fill="#399dd9"/><rect x="276.97" y="192.26" width="32.07" height="6.79" fill="#44a6de"/><rect x="308.54" y="192.26" width="25.76" height="6.79" fill="#51aee4"/><rect x="37.00" y="198.56" width="13.13" height="6.79" fill="#48b066"/><rect x="49.63" y="198.56" width="6.81" height="6.79" fill="#28a86c"/><rect x="55.94" y="198.56" width="25.76" height="6.79" fill="#00967e"/><rect x="81.20" y="198.56" width="13.13" height="6.79" fill="#008e88"/><rect x="93.83" y="198.56" width="6.81" height="6.79" fill="#008694"/><rect x="100.15" y="198.56" width="19.44" height="6.79" fill="#0081a1"/><rect x="119.09" y="198.56" width="6.81" height="6.79" fill="#0674b4"/><rect x="125.41" y="198.56" width="6.81" height="6.79" fill="#0081a1"/><rect x="131.72" y="198.56" width="19.44" height="6.79" fill="#00967e"/><rect x="150.67" y="198.56" width="19.44" height="6.79" fill="#008e88"/><rect x="169.61" y="198.56" width="19.44" height="6.79" fill="#008694"/><rect x="188.56" y="198.56" width="6.81" height="6.79" fill="#0081a1"/><rect x="194.87" y="198.56" width="6.81" height="6.79" fill="#0674b4"/><rect x="201.19" y="198.56" width="6.81" height="6.79" fill="#1782c2"/><rect x="207.50" y="198.56" width="6.81" height="6.79" fill="#248cca"/><rect x="213.82" y="198.56" width="32.07" height="6.79" fill="#3096d3"/><rect x="245.39" y="198.56" width="13.13" height="6.79" fill="#399dd9"/><rect x="258.02" y="198.56" width="13.13" height="6.79" fill="#44a6de"/><rect x="270.65" y="198.56" width="13.13" height="6.79" fill="#399dd9"/><rect x="283.28" y="198.56" width="25.76" height="6.79" fill="#44a6de"/><rect x="308.54" y="198.56" width="19.44" height="6.79" fill="#51aee4"/><rect x="327.49" y="198.56" width="6.81" height="6.79" fill="#44a6de"/><rect x="37.00" y="204.85" width="6.81" height="6.79" fill="#48b066"/><rect x="43.31" y="204.85" width="6.81" height="6.79" fill="#28a86c"/><rect x="49.63" y="204.85" width="6.81" height="6.79" fill="#00967e"/><rect x="55.94" y="204.85" width="6.81" height="6.79" fill="#008694"/><rect x="62.26" y="204.85" width="19.44" height="6.79" fill="#00967e"/><rect x="81.20" y="204.85" width="13.13" height="6.79" fill="#008e88"/><rect x="93.83" y="204.85" width="13.13" height="6.79" fill="#0081a1"/><rect x="106.46" y="204.85" width="6.81" height="6.79" fill="#008694"/><rect x="112.78" y="204.85" width="13.13" height="6.79" fill="#008e88"/><rect x="125.41" y="204.85" width="6.81" height="6.79" fill="#0081a1"/><rect x="131.72" y="204.85" width="6.81" height="6.79" fill="#008694"/><rect x="138.04" y="204.85" width="6.81" height="6.79" fill="#008e88"/><rect x="144.35" y="204.85" width="6.81" height="6.79" fill="#00967e"/><rect x="150.67" y="204.85" width="19.44" height="6.79" fill="#008e88"/><rect x="169.61" y="204.85" width="19.44" height="6.79" fill="#008694"/><rect x="188.56" y="204.85" width="6.81" height="6.79" fill="#0081a1"/><rect x="194.87" y="204.85" width="6.81" height="6.79" fill="#0674b4"/><rect x="201.19" y="204.85" width="6.81" height="6.79" fill="#1782c2"/><rect x="207.50" y="204.85" width="38.39" height="6.79" fill="#3096d3"/><rect x="245.39" y="204.85" width="6.81" height="6.79" fill="#399dd9"/><rect x="251.71" y="204.85" width="13.13" height="6.79" fill="#44a6de"/><rect x="264.34" y="204.85" width="19.44" height="6.79" fill="#399dd9"/><rect x="283.28" y="204.85" width="19.44" height="6.79" fill="#44a6de"/><rect x="302.23" y="204.85" width="25.76" height="6.79" fill="#51aee4"/><rect x="327.49" y="204.85" width="6.81" height="6.79" fill="#44a6de"/><rect x="37.00" y="211.15" width="6.81" height="6.79" fill="#28a86c"/><rect x="43.31" y="211.15" width="6.81" height="6.79" fill="#10a074"/><rect x="49.63" y="211.15" width="6.81" height="6.79" fill="#00967e"/><rect x="55.94" y="211.15" width="6.81" height="6.79" fill="#008e88"/><rect x="62.26" y="211.15" width="13.13" height="6.79" fill="#00967e"/><rect x="74.89" y="211.15" width="13.13" height="6.79" fill="#008e88"/><rect x="87.52" y="211.15" width="6.81" height="6.79" fill="#008694"/><rect x="93.83" y="211.15" width="13.13" height="6.79" fill="#0081a1"/><rect x="106.46" y="211.15" width="13.13" height="6.79" fill="#008e88"/><rect x="119.09" y="211.15" width="6.81" height="6.79" fill="#008694"/><rect x="125.41" y="211.15" width="6.81" height="6.79" fill="#0379aa"/><rect x="131.72" y="211.15" width="6.81" height="6.79" fill="#0081a1"/><rect x="138.04" y="211.15" width="6.81" height="6.79" fill="#008e88"/><rect x="144.35" y="211.15" width="6.81" height="6.79" fill="#10a074"/><rect x="150.67" y="211.15" width="6.81" height="6.79" fill="#00967e"/><rect x="156.98" y="211.15" width="13.13" height="6.79" fill="#008e88"/><rect x="169.61" y="211.15" width="19.44" height="6.79" fill="#008694"/><rect x="188.56" y="211.15" width="6.81" height="6.79" fill="#0379aa"/><rect x="194.87" y="211.15" width="6.81" height="6.79" fill="#1782c2"/><rect x="201.19" y="211.15" width="6.81" height="6.79" fill="#248cca"/><rect x="207.50" y="211.15" width="32.07" height="6.79" fill="#3096d3"/><rect x="239.08" y="211.15" width="13.13" height="6.79" fill="#399dd9"/><rect x="251.71" y="211.15" width="6.81" height="6.79" fill="#44a6de"/><rect x="258.02" y="211.15" width="25.76" height="6.79" fill="#399dd9"/><rect x="283.28" y="211.15" width="19.44" height="6.79" fill="#44a6de"/><rect x="302.23" y="211.15" width="19.44" height="6.79" fill="#51aee4"/><rect x="321.17" y="211.15" width="13.13" height="6.79" fill="#44a6de"/><rect x="37.00" y="217.44" width="13.13" height="6.79" fill="#10a074"/><rect x="49.63" y="217.44" width="6.81" height="6.79" fill="#00967e"/><rect x="55.94" y="217.44" width="6.81" height="6.79" fill="#008694"/><rect x="62.26" y="217.44" width="19.44" height="6.79" fill="#008e88"/><rect x="81.20" y="217.44" width="6.81" height="6.79" fill="#008694"/><rect x="87.52" y="217.44" width="6.81" height="6.79" fill="#0081a1"/><rect x="93.83" y="217.44" width="13.13" height="6.79" fill="#0379aa"/><rect x="106.46" y="217.44" width="6.81" height="6.79" fill="#008694"/><rect x="112.78" y="217.44" width="6.81" height="6.79" fill="#28a86c"/><rect x="119.09" y="217.44" width="6.81" height="6.79" fill="#00967e"/><rect x="125.41" y="217.44" width="6.81" height="6.79" fill="#0379aa"/><rect x="131.72" y="217.44" width="6.81" height="6.79" fill="#0081a1"/><rect x="138.04" y="217.44" width="6.81" height="6.79" fill="#00967e"/><rect x="144.35" y="217.44" width="6.81" height="6.79" fill="#10a074"/><rect x="150.67" y="217.44" width="6.81" height="6.79" fill="#00967e"/><rect x="156.98" y="217.44" width="19.44" height="6.79" fill="#008e88"/><rect x="175.93" y="217.44" width="13.13" height="6.79" fill="#008694"/><rect x="188.56" y="217.44" width="6.81" height="6.79" fill="#0674b4"/><rect x="194.87" y="217.44" width="6.81" height="6.79" fill="#248cca"/><rect x="201.19" y="217.44" width="38.39" height="6.79" fill="#3096d3"/><rect x="239.08" y="217.44" width="6.81" height="6.79" fill="#399dd9"/><rect x="245.39" y="217.44" width="6.81" height="6.79" fill="#44a6de"/><rect x="251.71" y="217.44" width="32.07" height="6.79" fill="#399dd9"/><rect x="283.28" y="217.44" width="19.44" height="6.79" fill="#44a6de"/><rect x="302.23" y="217.44" width="13.13" height="6.79" fill="#51aee4"/><rect x="314.86" y="217.44" width="19.44" height="6.79" fill="#44a6de"/><rect x="37.00" y="223.74" width="6.81" height="6.79" fill="#10a074"/><rect x="43.31" y="223.74" width="6.81" height="6.79" fill="#00967e"/><rect x="49.63" y="223.74" width="32.07" height="6.79" fill="#008e88"/><rect x="81.20" y="223.74" width="6.81" height="6.79" fill="#0081a1"/><rect x="87.52" y="223.74" width="19.44" height="6.79" fill="#0379aa"/><rect x="106.46" y="223.74" width="6.81" height="6.79" fill="#10a074"/><rect x="112.78" y="223.74" width="6.81" height="6.79" fill="#00967e"/><rect x="119.09" y="223.74" width="6.81" height="6.79" fill="#10a074"/><rect x="125.41" y="223.74" width="6.81" height="6.79" fill="#0081a1"/><rect x="131.72" y="223.74" width="6.81" height="6.79" fill="#0379aa"/><rect x="138.04" y="223.74" width="6.81" height="6.79" fill="#a8ca4c"/><rect x="144.35" y="223.74" width="6.81" height="6.79" fill="#10a074"/><rect x="150.67" y="223.74" width="6.81" height="6.79" fill="#00967e"/><rect x="156.98" y="223.74" width="19.44" height="6.79" fill="#008e88"/><rect x="175.93" y="223.74" width="6.81" height="6.79" fill="#008694"/><rect x="182.24" y="223.74" width="6.81" height="6.79" fill="#0081a1"/><rect x="188.56" y="223.74" width="6.81" height="6.79" fill="#1782c2"/><rect x="194.87" y="223.74" width="6.81" height="6.79" fill="#248cca"/><rect x="201.19" y="223.74" width="25.76" height="6.79" fill="#3096d3"/><rect x="226.45" y="223.74" width="13.13" height="6.79" fill="#399dd9"/><rect x="239.08" y="223.74" width="13.13" height="6.79" fill="#44a6de"/><rect x="251.71" y="223.74" width="19.44" height="6.79" fill="#399dd9"/><rect x="270.65" y="223.74" width="6.81" height="6.79" fill="#3096d3"/><rect x="276.97" y="223.74" width="13.13" height="6.79" fill="#399dd9"/><rect x="289.60" y="223.74" width="13.13" height="6.79" fill="#44a6de"/><rect x="302.23" y="223.74" width="13.13" height="6.79" fill="#51aee4"/><rect x="314.86" y="223.74" width="19.44" height="6.79" fill="#44a6de"/><rect x="37.00" y="230.03" width="19.44" height="6.79" fill="#00967e"/><rect x="55.94" y="230.03" width="19.44" height="6.79" fill="#008e88"/><rect x="74.89" y="230.03" width="6.81" height="6.79" fill="#008694"/><rect x="81.20" y="230.03" width="19.44" height="6.79" fill="#0379aa"/><rect x="100.15" y="230.03" width="6.81" height="6.79" fill="#008694"/><rect x="106.46" y="230.03" width="6.81" height="6.79" fill="#0476af"/><rect x="112.78" y="230.03" width="6.81" height="6.79" fill="#00967e"/><rect x="119.09" y="230.03" width="6.81" height="6.79" fill="#28a86c"/><rect x="125.41" y="230.03" width="6.81" height="6.79" fill="#008e88"/><rect x="131.72" y="230.03" width="6.81" height="6.79" fill="#0081a1"/><rect x="138.04" y="230.03" width="6.81" height="6.79" fill="#48b066"/><rect x="144.35" y="230.03" width="6.81" height="6.79" fill="#10a074"/><rect x="150.67" y="230.03" width="13.13" height="6.79" fill="#00967e"/><rect x="163.30" y="230.03" width="13.13" height="6.79" fill="#008e88"/><rect x="175.93" y="230.03" width="6.81" height="6.79" fill="#008694"/><rect x="182.24" y="230.03" width="6.81" height="6.79" fill="#0674b4"/><rect x="188.56" y="230.03" width="6.81" height="6.79" fill="#1782c2"/><rect x="194.87" y="230.03" width="6.81" height="6.79" fill="#248cca"/><rect x="201.19" y="230.03" width="19.44" height="6.79" fill="#3096d3"/><rect x="220.13" y="230.03" width="13.13" height="6.79" fill="#399dd9"/><rect x="232.76" y="230.03" width="19.44" height="6.79" fill="#44a6de"/><rect x="251.71" y="230.03" width="13.13" height="6.79" fill="#399dd9"/><rect x="264.34" y="230.03" width="13.13" height="6.79" fill="#3096d3"/><rect x="276.97" y="230.03" width="6.81" height="6.79" fill="#399dd9"/><rect x="283.28" y="230.03" width="19.44" height="6.79" fill="#44a6de"/><rect x="302.23" y="230.03" width="6.81" height="6.79" fill="#51aee4"/><rect x="308.54" y="230.03" width="25.76" height="6.79" fill="#44a6de"/><rect x="37.00" y="236.33" width="19.44" height="6.79" fill="#00967e"/><rect x="55.94" y="236.33" width="6.81" height="6.79" fill="#008694"/><rect x="62.26" y="236.33" width="13.13" height="6.79" fill="#008e88"/><rect x="74.89" y="236.33" width="6.81" height="6.79" fill="#0081a1"/><rect x="81.20" y="236.33" width="6.81" height="6.79" fill="#0379aa"/><rect x="87.52" y="236.33" width="13.13" height="6.79" fill="#0476af"/><rect x="100.15" y="236.33" width="6.81" height="6.79" fill="#0379aa"/><rect x="106.46" y="236.33" width="6.81" height="6.79" fill="#0476af"/><rect x="112.78" y="236.33" width="6.81" height="6.79" fill="#0081a1"/><rect x="119.09" y="236.33" width="6.81" height="6.79" fill="#f0d030"/><rect x="125.41" y="236.33" width="6.81" height="6.79" fill="#00967e"/><rect x="131.72" y="236.33" width="6.81" height="6.79" fill="#0081a1"/><rect x="138.04" y="236.33" width="6.81" height="6.79" fill="#28a86c"/><rect x="144.35" y="236.33" width="6.81" height="6.79" fill="#10a074"/><rect x="150.67" y="236.33" width="13.13" height="6.79" fill="#00967e"/><rect x="163.30" y="236.33" width="13.13" height="6.79" fill="#008e88"/><rect x="175.93" y="236.33" width="6.81" height="6.79" fill="#0081a1"/><rect x="182.24" y="236.33" width="6.81" height="6.79" fill="#1782c2"/><rect x="188.56" y="236.33" width="6.81" height="6.79" fill="#248cca"/><rect x="194.87" y="236.33" width="6.81" height="6.79" fill="#3096d3"/><rect x="201.19" y="236.33" width="19.44" height="6.79" fill="#399dd9"/><rect x="220.13" y="236.33" width="32.07" height="6.79" fill="#44a6de"/><rect x="251.71" y="236.33" width="13.13" height="6.79" fill="#399dd9"/><rect x="264.34" y="236.33" width="13.13" height="6.79" fill="#3096d3"/><rect x="276.97" y="236.33" width="6.81" height="6.79" fill="#399dd9"/><rect x="283.28" y="236.33" width="19.44" height="6.79" fill="#44a6de"/><rect x="302.23" y="236.33" width="6.81" height="6.79" fill="#51aee4"/><rect x="308.54" y="236.33" width="25.76" height="6.79" fill="#44a6de"/><rect x="37.00" y="242.62" width="6.81" height="6.79" fill="#00967e"/><rect x="43.31" y="242.62" width="13.13" height="6.79" fill="#008e88"/><rect x="55.94" y="242.62" width="19.44" height="6.79" fill="#008694"/><rect x="74.89" y="242.62" width="6.81" height="6.79" fill="#0081a1"/><rect x="81.20" y="242.62" width="25.76" height="6.79" fill="#0476af"/><rect x="106.46" y="242.62" width="6.81" height="6.79" fill="#0379aa"/><rect x="112.78" y="242.62" width="6.81" height="6.79" fill="#008694"/><rect x="119.09" y="242.62" width="6.81" height="6.79" fill="#f0e038"/><rect x="125.41" y="242.62" width="6.81" height="6.79" fill="#ecb820"/><rect x="131.72" y="242.62" width="6.81" height="6.79" fill="#008e88"/><rect x="138.04" y="242.62" width="6.81" height="6.79" fill="#10a074"/><rect x="144.35" y="242.62" width="13.13" height="6.79" fill="#00967e"/><rect x="156.98" y="242.62" width="13.13" height="6.79" fill="#008e88"/><rect x="169.61" y="242.62" width="6.81" height="6.79" fill="#008694"/><rect x="175.93" y="242.62" width="6.81" height="6.79" fill="#0674b4"/><rect x="182.24" y="242.62" width="6.81" height="6.79" fill="#248cca"/><rect x="188.56" y="242.62" width="6.81" height="6.79" fill="#3096d3"/><rect x="194.87" y="242.62" width="19.44" height="6.79" fill="#399dd9"/><rect x="213.82" y="242.62" width="38.39" height="6.79" fill="#44a6de"/><rect x="251.71" y="242.62" width="13.13" height="6.79" fill="#399dd9"/><rect x="264.34" y="242.62" width="6.81" height="6.79" fill="#3096d3"/><rect x="270.65" y="242.62" width="6.81" height="6.79" fill="#399dd9"/><rect x="276.97" y="242.62" width="25.76" height="6.79" fill="#44a6de"/><rect x="302.23" y="242.62" width="6.81" height="6.79" fill="#51aee4"/><rect x="308.54" y="242.62" width="19.44" height="6.79" fill="#44a6de"/><rect x="327.49" y="242.62" width="6.81" height="6.79" fill="#51aee4"/><rect x="37.00" y="248.92" width="13.13" height="6.79" fill="#008e88"/><rect x="49.63" y="248.92" width="25.76" height="6.79" fill="#008694"/><rect x="74.89" y="248.92" width="19.44" height="6.79" fill="#0476af"/><rect x="93.83" y="248.92" width="13.13" height="6.79" fill="#0d7aba"/><rect x="106.46" y="248.92" width="6.81" height="6.79" fill="#0379aa"/><rect x="112.78" y="248.92" width="6.81" height="6.79" fill="#0081a1"/><rect x="119.09" y="248.92" width="6.81" height="6.79" fill="#00967e"/><rect x="125.41" y="248.92" width="6.81" height="6.79" fill="#e89c08"/><rect x="131.72" y="248.92" width="13.13" height="6.79" fill="#00967e"/><rect x="144.35" y="248.92" width="6.81" height="6.79" fill="#008694"/><rect x="150.67" y="248.92" width="19.44" height="6.79" fill="#008e88"/><rect x="169.61" y="248.92" width="6.81" height="6.79" fill="#0081a1"/><rect x="175.93" y="248.92" width="6.81" height="6.79" fill="#1782c2"/><rect x="182.24" y="248.92" width="6.81" height="6.79" fill="#3096d3"/><rect x="188.56" y="248.92" width="6.81" height="6.79" fill="#399dd9"/><rect x="194.87" y="248.92" width="51.02" height="6.79" fill="#44a6de"/><rect x="245.39" y="248.92" width="13.13" height="6.79" fill="#399dd9"/><rect x="258.02" y="248.92" width="13.13" height="6.79" fill="#3096d3"/><rect x="270.65" y="248.92" width="6.81" height="6.79" fill="#399dd9"/><rect x="276.97" y="248.92" width="19.44" height="6.79" fill="#44a6de"/><rect x="295.91" y="248.92" width="13.13" height="6.79" fill="#51aee4"/><rect x="308.54" y="248.92" width="19.44" height="6.79" fill="#44a6de"/><rect x="327.49" y="248.92" width="6.81" height="6.79" fill="#51aee4"/><rect x="37.00" y="255.21" width="6.81" height="6.79" fill="#0081a1"/><rect x="43.31" y="255.21" width="19.44" height="6.79" fill="#008694"/><rect x="62.26" y="255.21" width="6.81" height="6.79" fill="#0081a1"/><rect x="68.57" y="255.21" width="6.81" height="6.79" fill="#0379aa"/><rect x="74.89" y="255.21" width="13.13" height="6.79" fill="#008694"/><rect x="87.52" y="255.21" width="6.81" height="6.79" fill="#0379aa"/><rect x="93.83" y="255.21" width="6.81" height="6.79" fill="#0d7aba"/><rect x="100.15" y="255.21" width="6.81" height="6.79" fill="#0476af"/><rect x="106.46" y="255.21" width="6.81" height="6.79" fill="#0081a1"/><rect x="112.78" y="255.21" width="6.81" height="6.79" fill="#008694"/><rect x="119.09" y="255.21" width="6.81" height="6.79" fill="#008e88"/><rect x="125.41" y="255.21" width="6.81" height="6.79" fill="#f0c428"/><rect x="131.72" y="255.21" width="6.81" height="6.79" fill="#48b066"/><rect x="138.04" y="255.21" width="13.13" height="6.79" fill="#008e88"/><rect x="150.67" y="255.21" width="6.81" height="6.79" fill="#008694"/><rect x="156.98" y="255.21" width="13.13" height="6.79" fill="#008e88"/><rect x="169.61" y="255.21" width="6.81" height="6.79" fill="#0674b4"/><rect x="175.93" y="255.21" width="6.81" height="6.79" fill="#1782c2"/><rect x="182.24" y="255.21" width="6.81" height="6.79" fill="#3096d3"/><rect x="188.56" y="255.21" width="57.33" height="6.79" fill="#44a6de"/><rect x="245.39" y="255.21" width="13.13" height="6.79" fill="#399dd9"/><rect x="258.02" y="255.21" width="13.13" height="6.79" fill="#3096d3"/><rect x="270.65" y="255.21" width="6.81" height="6.79" fill="#399dd9"/><rect x="276.97" y="255.21" width="19.44" height="6.79" fill="#44a6de"/><rect x="295.91" y="255.21" width="13.13" height="6.79" fill="#51aee4"/><rect x="308.54" y="255.21" width="19.44" height="6.79" fill="#44a6de"/><rect x="327.49" y="255.21" width="6.81" height="6.79" fill="#51aee4"/><rect x="37.00" y="261.51" width="25.76" height="6.79" fill="#008694"/><rect x="62.26" y="261.51" width="6.81" height="6.79" fill="#0379aa"/><rect x="68.57" y="261.51" width="6.81" height="6.79" fill="#0674b4"/><rect x="74.89" y="261.51" width="19.44" height="6.79" fill="#0379aa"/><rect x="93.83" y="261.51" width="13.13" height="6.79" fill="#0476af"/><rect x="106.46" y="261.51" width="13.13" height="6.79" fill="#0081a1"/><rect x="119.09" y="261.51" width="6.81" height="6.79" fill="#008694"/><rect x="125.41" y="261.51" width="6.81" height="6.79" fill="#00967e"/><rect x="131.72" y="261.51" width="6.81" height="6.79" fill="#10a074"/><rect x="138.04" y="261.51" width="13.13" height="6.79" fill="#008e88"/><rect x="150.67" y="261.51" width="6.81" height="6.79" fill="#008694"/><rect x="156.98" y="261.51" width="6.81" height="6.79" fill="#008e88"/><rect x="163.30" y="261.51" width="6.81" height="6.79" fill="#008694"/><rect x="169.61" y="261.51" width="6.81" height="6.79" fill="#0674b4"/><rect x="175.93" y="261.51" width="6.81" height="6.79" fill="#248cca"/><rect x="182.24" y="261.51" width="6.81" height="6.79" fill="#399dd9"/><rect x="188.56" y="261.51" width="13.13" height="6.79" fill="#44a6de"/><rect x="201.19" y="261.51" width="13.13" height="6.79" fill="#51aee4"/><rect x="213.82" y="261.51" width="32.07" height="6.79" fill="#44a6de"/><rect x="245.39" y="261.51" width="13.13" height="6.79" fill="#399dd9"/><rect x="258.02" y="261.51" width="6.81" height="6.79" fill="#3096d3"/><rect x="264.34" y="261.51" width="13.13" height="6.79" fill="#399dd9"/><rect x="276.97" y="261.51" width="19.44" height="6.79" fill="#44a6de"/><rect x="295.91" y="261.51" width="6.81" height="6.79" fill="#51aee4"/><rect x="302.23" y="261.51" width="25.76" height="6.79" fill="#44a6de"/><rect x="327.49" y="261.51" width="6.81" height="6.79" fill="#51aee4"/></g></g>
<g transform="translate(450,0)" clip-path="url(#clip)" fill="none" stroke="#000" stroke-width="0.75" stroke-linejoin="round" stroke-linecap="round"><path d="M212.0 74.5L215.1 75.7L219.0 75.3L222.1 73.7L224.5 71.4L225.9 65.5L226.4 69.0L228.7 69.4L232.2 65.2L235.4 61.3L238.5 57.8L241.2 55.8L243.1 51.1L237.3 47.6M243.1 51.1L244.9 50.4L243.1 53.5L242.0 57.4L240.4 60.5L241.2 62.4L243.9 60.1L247.0 58.5L252.5 56.2L260.7 54.3L257.9 56.2L254.0 58.9L251.7 61.3L253.3 64.8L250.2 63.2L247.0 61.6L243.1 65.9L238.5 72.2L234.6 77.6L231.5 82.0M254.4 82.0L254.8 76.8L254.0 73.7L257.2 69.4L258.7 71.4L262.6 72.2L264.2 69.4L262.6 67.5L266.5 65.2L269.6 63.6L274.3 59.7L278.2 55.8L282.0 51.5M222.9 32.5L226.0 30.1L229.9 29.7L230.7 33.2L232.6 36.7L235.4 39.8L236.9 43.0L239.3 43.7L243.1 43.4L247.0 42.6L249.4 43.0L246.6 45.3L248.6 46.1L252.5 46.9L255.6 46.1L258.7 46.5L262.6 45.3L266.5 45.7L269.2 45.3L272.0 42.6L274.3 38.7L275.8 37.9L277.8 41.0L280.5 41.0L282.0 38.7M237.7 34.0L238.9 29.7L241.2 28.9L241.6 32.5L244.7 34.8L247.0 35.6L249.4 34.0L253.3 34.4L258.7 32.5L263.4 30.1L268.1 28.9L266.5 32.5L264.9 34.8L266.5 38.7L263.4 39.8L260.3 37.9L257.9 37.1L256.4 38.7L252.5 39.5L248.6 39.1L246.3 37.5L243.9 38.7L242.4 36.3L238.5 36.0L237.7 34.0M282.0 38.7L285.1 40.4L288.6 38.7L292.1 37.0L295.2 34.0L297.6 30.9L298.5 29.2M284.3 32.8L286.3 30.1L289.4 29.2L291.7 30.5L290.6 33.6L288.2 36.7L285.9 36.0L284.3 32.8M284.3 44.3L286.7 43.0L291.2 43.2L289.8 45.7L286.8 45.5L284.3 44.3M282.0 51.8L283.7 50.0L286.0 47.9L288.4 45.7L286.7 42.6L285.1 41.0L282.0 38.7M312.2 63.0L314.7 62.2L316.6 60.6L317.3 59.7M312.4 63.1L314.9 62.4L316.8 60.8M237.7 72.0L235.4 75.9L232.6 79.8L231.1 82.9L230.3 85.2L231.5 88.4L231.9 90.7L233.4 93.8L235.4 96.9L236.9 94.6L238.5 95.4L240.0 97.3L242.4 99.4L245.1 98.5L246.3 96.1L245.5 93.4L248.6 92.6L250.9 89.9L252.5 86.4L253.3 82.9L255.2 79.0L254.8 75.9L254.4 73.6L257.2 72.0M236.9 75.1L234.2 78.6L231.9 81.7L230.7 84.5M219.4 80.6L221.0 81.7L219.8 84.5L219.2 82.5L219.4 80.6M212.0 75.1L215.1 75.9L219.0 75.1L222.1 73.2L224.5 72.0M212.0 75.1L214.7 78.2L215.9 80.6L215.1 83.7L212.0 86.8M143.2 30.1L146.7 31.3L149.8 30.1L153.7 29.7L157.6 30.5L161.5 31.3L161.5 37.1L160.3 41.8L158.4 45.7L156.4 47.6L156.0 51.9L154.5 55.4L152.1 58.1L150.2 61.6L149.4 63.4L151.3 60.5L154.8 58.1L158.7 54.6L160.7 50.4L161.9 45.7L164.6 40.2L166.1 34.8L167.7 30.9L168.9 28.9M164.6 82.0L166.9 78.4L168.1 74.5L166.9 72.2L165.7 69.0L166.9 64.4L166.1 58.9L167.7 53.5L169.6 47.2L171.6 41.8L173.1 41.0L174.7 41.8L175.9 44.9L178.2 45.3L181.7 42.2L184.4 39.5L187.2 39.8L192.6 43.4L194.2 47.2L197.3 56.6L200.4 65.9L201.2 68.3L204.3 69.4L206.2 69.0L207.8 73.7L209.7 76.4L212.0 75.7M166.9 72.0L168.5 74.3L166.9 77.5L165.0 80.6L164.2 83.7L165.4 86.0L163.4 89.1L161.1 88.7L160.3 90.3L157.2 90.7L156.4 93.0L156.4 96.5M161.1 90.3L163.8 98.5L167.7 109.4L171.6 120.3L173.1 124.9L175.5 127.0M142.0 100.4L156.4 96.5L156.4 101.6L158.4 104.7L157.6 107.8L154.5 110.5L153.3 112.5L154.1 115.6L153.3 121.8L152.1 127.0M212.0 86.4L209.0 89.1L206.6 91.5L204.3 94.6L202.0 97.7L199.6 98.5L198.1 96.1L196.5 97.7L195.3 93.8L193.4 96.9L194.2 100.0L194.2 103.9L192.6 106.3L190.3 105.5L188.7 108.6L185.6 111.7L183.3 114.0L181.3 113.3L180.5 116.4L180.9 119.5L179.4 122.6L178.2 124.9L178.6 127.0M207.4 72.0L208.2 75.1L210.5 76.7L212.0 75.9M95.4 127.0L98.5 124.9L101.6 121.8L103.9 117.2L106.3 113.3L109.4 110.2L111.7 108.4L118.7 106.9L132.0 103.3L142.0 100.2M132.3 103.3L133.5 108.6L135.5 114.0L136.2 117.2L135.5 120.3L136.6 124.2L138.2 127.0M28.6 107.6L31.7 110.7L34.0 113.4L35.6 113.0L36.7 116.9L39.9 116.1L41.0 117.7L40.6 120.0L42.6 122.8L45.7 124.7L48.4 127.4L45.7 126.6L43.4 127.0L42.2 128.2L44.1 129.4L44.9 131.7L43.7 134.4L41.0 133.7L37.9 133.3L35.6 130.5L33.6 130.9L32.1 133.3L30.9 130.9L29.7 127.8L28.6 127.4M57.4 147.0L60.5 143.4L65.2 141.4L70.6 139.1L76.1 136.8L79.2 135.6M79.5 134.9L79.9 133.4L82.6 131.8L86.5 130.9L88.8 131.4L89.2 134.1L88.8 136.1L86.5 137.4L83.4 136.5L80.2 135.7L79.5 134.9M89.2 130.6L93.5 127.5L98.9 124.4L101.3 122.5L102.8 120.1L104.8 117.0M100.5 124.4L95.8 129.5L96.6 131.0L99.7 131.0L100.5 132.6L98.5 134.5L99.7 137.2L100.5 140.0L98.2 141.5L95.8 143.9L93.5 146.6L91.1 148.1L87.3 148.5L83.4 150.1L81.0 148.9L75.6 148.9L69.3 150.5L64.7 152.8L60.0 155.2M97.4 171.1L106.7 168.8L118.4 166.4L122.3 168.4L124.6 170.7L125.0 172.0M57.4 147.0L54.6 148.9L53.1 151.7L52.3 154.8L53.5 156.3L56.6 156.7L59.7 156.0L62.0 154.4L65.9 152.5L69.8 150.5L74.5 149.3L79.2 149.2L82.3 150.5L85.4 148.9L90.0 147.8M62.0 154.4L62.4 157.1L64.4 158.7L65.6 160.6L65.2 161.8L61.3 162.2L56.6 163.7L51.1 165.7L47.6 166.9L46.1 168.8L45.3 170.7L51.1 170.4L45.7 171.3L41.8 171.1L38.3 170.4L34.0 171.5L30.9 173.5L28.6 175.8M65.6 160.6L66.7 162.6L64.8 165.7L62.4 168.8L59.7 171.9L56.6 175.0L51.1 178.9L46.5 182.4L41.0 185.9L35.6 189.4L32.5 193.3L30.1 195.3L28.6 195.7M56.0 175.4L56.6 178.1L57.4 180.5L66.7 178.5L78.4 175.8L90.0 173.3M46.5 182.8L47.6 189.0L49.2 196.1L50.8 202.0M90.0 173.5L101.7 170.4L113.4 167.6L118.8 166.5L121.9 168.4L124.3 170.4L125.0 172.7L127.4 175.4L130.5 176.6L136.7 178.5L143.7 180.5M130.5 176.6L129.3 179.7L128.2 182.8L127.0 185.2L128.2 187.5L127.4 189.8L128.2 192.6L132.0 195.3L136.7 199.2L134.4 202.0M144.5 147.0L144.9 159.5L152.3 157.1L160.0 154.8M150.0 144.3L154.7 142.3L161.7 140.7L171.0 138.8L173.4 136.1L175.7 133.7L177.3 134.1M170.2 117.0L171.4 120.9L173.4 124.8L175.7 127.9L177.3 129.8L177.3 134.1M181.9 117.0L180.8 120.1L178.8 124.0L178.0 127.9L177.3 129.8M177.3 134.1L178.8 136.5L181.1 137.2L179.6 139.2L178.4 141.1L177.3 143.9L178.8 145.0L181.9 145.4L184.3 148.1L186.6 151.3L188.2 152.8L191.3 152.4L196.7 151.3L196.3 148.9L194.4 146.6L192.0 145.4L190.1 145.8M192.3 145.6L194.5 146.8L196.4 149.1M196.7 151.3L193.6 153.2L190.5 154.8L188.2 155.9L186.6 157.1L185.4 154.4L184.3 156.7L181.9 159.4L179.6 160.2L178.0 157.5L176.9 155.9L175.7 158.3L176.5 160.6L176.9 163.7L171.8 166.1M150.0 157.9L159.3 155.5L168.7 153.2L174.1 151.6L175.3 153.6L176.1 156.7M169.1 153.4L170.6 160.6L171.8 166.1M186.2 162.0L188.2 160.4L189.7 160.6L188.8 161.7L186.2 162.0M194.8 160.3L196.7 158.7L198.3 160.0L196.7 160.4L194.8 160.3M195.3 160.1L196.9 159.2L197.8 160.0M144.8 159.3L146.7 167.1L148.7 174.5L146.7 177.6L146.4 179.2L150.2 176.1L156.5 171.4L164.3 168.7L171.3 166.0L176.7 164.0M146.7 182.3L151.8 180.0L158.0 177.6L162.7 175.7L165.0 173.7L166.6 171.4M145.6 187.8L150.2 186.2L156.5 183.1L163.5 179.2L168.2 175.3L172.8 171.2M163.5 175.7L166.6 174.9L170.5 173.0L167.4 173.7L164.3 176.9M142.1 175.3L143.6 178.0L144.4 180.4L144.4 184.3L143.6 186.6L141.7 188.1L141.3 190.9L142.8 192.0L145.6 191.3L146.7 193.6L147.1 198.3L146.7 202.2L147.5 206.1L146.4 208.8L144.8 210.7L144.4 212.0M146.4 182.7L144.4 184.6M145.6 187.8L144.0 187.0M49.2 197.0L50.4 202.5L51.5 207.9L52.7 214.1L53.9 220.4L54.6 225.4L62.0 223.9L69.8 222.3L79.2 220.4L90.0 218.0M49.2 208.7L50.4 207.9L51.5 209.1L50.8 210.9L49.4 210.4L49.2 208.7M50.8 210.9L50.4 214.9L49.6 220.4L49.6 228.1L47.3 231.3L44.9 234.0L41.8 234.4L39.5 236.7L37.9 239.0L38.3 242.9L36.7 244.9L34.4 242.9L33.2 245.3L32.5 249.2L31.7 252.0M69.4 222.5L70.2 228.1L71.0 232.4L74.5 228.9L76.8 226.6L78.4 226.2L80.3 222.3L81.5 223.9L83.8 224.3L86.2 221.9L90.0 219.6M90.0 225.8L87.4 225.0L86.6 228.1L87.0 230.5L84.6 233.6L82.3 236.7L81.9 239.0L80.0 238.3L78.4 241.4L77.6 245.3L75.3 247.2L72.9 245.7L71.0 244.5L70.6 247.6L69.8 252.0M85.0 219.6L94.3 217.6L108.4 214.5L123.2 211.4L123.9 209.8L125.5 208.7L127.4 208.3M134.1 197.0L136.8 199.3L134.4 202.1L132.1 205.2L130.2 207.1L127.4 208.3L126.7 211.8L127.7 213.7M146.9 197.0L147.7 200.9L146.9 205.6L145.0 210.2L142.6 214.9L141.2 218.8M85.0 222.7L87.3 220.4L92.8 220.4L95.1 222.3L96.7 225.8L97.5 225.0L100.6 226.2L101.7 228.5L105.2 229.7L108.0 230.5L109.1 229.7L109.9 232.4M85.0 222.7L86.6 224.3L87.3 228.1L85.8 232.0L85.0 233.6M87.3 224.6L92.0 227.0L95.9 228.9L96.7 225.8M124.6 216.0L127.3 224.9L129.3 231.9L130.3 234.3L133.8 233.8L137.7 233.3L139.1 233.1M126.8 215.0L129.8 217.0L131.3 219.0L132.3 221.9L133.8 223.9L135.7 225.4L137.7 226.9L138.2 228.4L137.7 229.9L139.2 230.9L138.7 232.3L140.2 234.8L139.7 237.3L139.2 240.8L138.2 243.7L137.2 246.7L136.2 250.0M137.7 227.1L138.5 228.9L138.0 230.1L139.5 231.1L139.0 232.6L140.3 234.6M140.0 234.8L140.2 237.3L139.6 240.8L138.7 243.7L137.7 246.7M127.8 215.0L131.8 217.0L135.7 218.2L138.7 219.0L139.7 220.5L139.2 222.4L140.7 222.9L141.7 220.9L142.4 218.0L143.2 215.0M122.4 216.0L120.9 218.0L120.4 220.9L121.1 223.9L120.1 224.9L120.9 226.4L120.4 227.9L121.6 228.9L120.9 230.4L122.4 231.9L124.3 232.1L125.8 232.8L125.1 233.8L123.3 233.6L122.4 234.6L121.9 236.3L122.9 237.8L124.3 237.6L125.8 238.5L127.3 237.3L128.3 236.6L128.8 238.8L130.3 240.3L130.8 242.8L130.3 244.7L131.8 246.2L132.8 248.7L132.3 250.0M120.5 221.2L121.3 224.0L120.3 225.2L121.0 226.5L120.5 228.0L121.8 229.0L121.0 230.5L122.5 232.0M120.1 229.9L121.4 231.4L122.6 232.3L124.6 232.3L125.9 233.1L125.2 234.0L123.4 233.8L122.5 234.8L122.0 236.4M122.4 234.8L123.1 237.9L124.4 237.8L125.9 238.8L127.4 237.6L128.4 236.8L128.9 238.9M126.1 238.3L127.6 237.1L128.6 237.1L129.3 239.3L130.5 240.5M119.9 227.4L120.6 228.6L120.4 229.9L121.9 231.1M122.4 216.0L119.9 217.0L117.9 218.0L116.4 219.5L114.9 221.4L113.4 222.9L115.4 223.9L115.9 225.9L115.4 227.9L116.4 229.9L116.9 232.3L117.4 234.8L118.4 236.8L119.9 238.8L120.9 240.8L121.9 242.8L122.4 244.7M117.8 218.1L116.3 219.6L114.8 221.5L113.5 222.8M118.1 218.2L116.7 219.7L115.2 221.7L113.9 223.2L115.7 224.2M119.4 216.5L122.4 216.2L123.3 217.2L121.4 218.0M120.9 215.2L122.9 215.5L123.8 216.5M114.9 234.3L115.9 236.3L117.4 238.3L119.4 239.8L120.9 241.8M106.0 229.9L108.5 229.4L109.5 231.4L109.0 233.8L108.0 235.8L107.5 238.3L108.0 240.8L109.5 239.8L111.0 239.3L112.4 240.8L114.4 241.8L116.4 242.0L118.9 242.5L120.9 242.8M108.6 229.5L109.6 231.5L109.1 233.9L108.1 235.9L107.6 238.4L108.1 240.7M108.4 229.7L109.3 231.6L108.8 233.8L107.8 235.8L107.3 238.3L107.8 241.0L109.4 240.1M109.6 239.8L111.1 239.5L112.5 241.0L114.5 242.0M106.0 230.2L108.3 229.6M139.5 232.5L140.3 235.6L139.1 239.5L137.9 243.4L136.8 246.5L136.4 250.4L134.8 252.7L134.1 255.8L133.7 258.9L132.5 260.5L130.9 258.1L130.6 253.5L131.3 248.8L132.5 244.9L130.9 242.6L130.2 240.2M110.7 245.3L114.6 247.2L118.5 250.4L121.6 252.7L124.7 253.9L125.5 249.6L123.9 246.5L122.4 243.7M110.9 245.5L114.7 247.4L118.6 250.5L121.8 252.9M118.5 256.2L121.6 258.9L124.7 260.5L127.0 257.4L125.5 254.3M118.6 256.4L121.8 259.1L124.9 260.6M111.5 261.3L116.1 260.9L120.0 261.6L123.2 263.6L126.3 265.2L128.6 265.2L131.7 264.8L133.3 265.9L134.4 269.0L135.6 271.8L137.9 273.3M111.6 261.4L116.3 261.0L120.2 261.8L123.3 263.8L125.5 267.5L127.8 265.9M127.0 273.3L131.7 271.8L135.6 271.8M124.7 260.5L127.0 262.0L128.2 263.6M28.6 255.4L29.0 261.6L31.7 265.5L35.6 269.4L38.7 271.3L40.6 272.5L40.2 273.3M56.6 273.3L57.4 270.9L58.9 270.5L62.0 269.4L64.8 268.2L66.3 265.5L64.8 264.7L65.2 261.6M30.1 255.0L28.6 255.4M135.2 121.1L137.6 125.8L138.4 129.7L139.9 129.3L141.5 132.8L143.0 139.0L144.6 145.3L144.6 152.0M153.5 122.7L152.4 127.4L153.2 132.0L154.3 136.7L153.5 140.2L154.7 142.6M144.6 145.7L154.7 142.6M69.8 251.5L69.1 252.2L66.7 257.7L65.2 261.6M32.5 249.1L31.7 253.0L30.1 255.0M212.0 86.4L210.6 88.0L209.1 89.3L207.6 90.1L206.8 91.6L205.4 93.0L204.4 94.6L203.6 96.5L202.0 97.7L199.7 98.7L198.0 96.2L196.7 97.9L195.4 95.9L195.3 93.8L194.0 95.1L193.6 97.0L194.2 98.4L194.1 100.0L193.5 102.0L194.1 103.9L192.7 106.3L190.4 105.2L190.1 107.3L188.5 108.5L187.4 110.4L185.7 111.9L184.8 113.3L183.3 114.1L181.4 113.1L181.4 114.9L180.5 116.4L180.9 119.5L180.3 121.1L179.4 122.6L178.4 125.1L178.8 126.9M206.6 91.5L205.9 93.0L204.4 93.9L203.5 95.4L202.5 96.9L201.1 98.1L199.2 98.9L197.6 96.8L196.0 98.0L193.8 97.2M190.3 106.3L189.4 108.0L187.9 109.3L186.6 110.7L185.1 112.0L183.8 113.0L183.0 114.5L181.4 113.8M212.0 74.5L213.7 74.6L215.1 75.6L217.1 75.8L219.0 75.1L220.6 74.5L222.0 73.5L223.5 72.7L224.6 71.5M254.4 82.0L254.7 80.3L255.2 78.6L254.7 76.8L254.7 75.2L254.1 73.7L255.2 72.4L256.1 70.8L257.3 69.5L258.5 71.5L260.7 71.7L262.6 72.3L264.0 69.3L262.7 67.4L264.7 66.5L266.6 65.4L268.3 64.8L269.6 63.5L271.1 62.2L272.9 61.2L274.1 59.5L275.6 58.4L276.6 56.8L278.0 55.7L279.0 54.0L281.0 53.2L281.8 51.4M236.9 43.0L239.3 43.6L241.2 43.4L243.2 43.6L245.0 42.4L247.0 42.5L249.4 43.0L247.7 43.7L246.5 45.2L248.5 46.3L250.6 46.2L252.5 46.8L254.0 46.3L255.7 46.3L258.7 46.7L260.5 45.4L262.6 45.1L264.6 45.1L266.5 45.5L269.2 45.3M243.1 51.1L244.9 50.4L244.3 52.1L243.4 53.6M244.7 34.8L247.1 35.5L249.3 33.9L251.3 34.3L253.2 34.6M264.9 34.8L265.5 36.8L266.5 38.7L264.9 39.1L263.4 39.8L261.5 39.4L260.4 37.7M237.7 72.0L236.2 73.7L235.2 75.8L233.7 77.6L232.7 79.8L232.0 81.4L231.3 83.0L230.2 85.2M245.5 93.4L246.9 92.4L248.5 92.4L249.5 91.0L250.8 89.8L251.5 88.1L252.3 86.3L252.2 84.5L253.1 82.9L253.7 80.7L255.1 79.0L254.6 75.9L254.6 73.5L257.2 72.1M212.0 75.1L213.7 76.3L214.8 78.1L216.0 80.5L215.7 82.2L215.3 83.7L213.2 84.9L211.8 86.6M284.3 32.8L285.3 31.4L286.3 30.1L287.7 29.1L289.3 29.0L291.8 30.4L291.5 32.2L290.4 33.6L289.8 35.5L288.4 36.9L286.0 35.7L285.1 34.4L284.2 32.9M282.0 51.8L283.7 50.0L285.9 47.7L288.4 45.7M284.3 44.3L286.8 43.2L288.9 43.6L291.2 43.3L289.9 45.8L286.8 45.6L284.3 44.5M34.0 113.4L35.6 113.1L36.1 115.0L36.6 117.0L38.2 116.3L39.8 116.0L40.9 117.8L40.4 120.0L41.3 121.6L42.5 122.8L43.9 124.1L45.6 124.8L47.3 125.8L48.4 127.4L45.7 126.7L43.4 127.3M110.7 245.3L113.0 245.6L114.7 247.1L116.1 248.0L117.0 249.6L118.3 250.6L120.1 251.5L121.4 252.9L122.9 254.0L124.6 254.1M118.5 256.2L120.2 257.4L121.7 258.8L123.3 259.3L124.8 260.3M111.5 261.3L113.8 260.6L116.2 261.0L118.0 261.9L120.0 261.9L121.6 262.6L123.1 263.7L124.5 264.8L126.4 264.9M111.9 261.1L114.2 261.4L116.5 261.5L118.4 262.1L120.4 262.2L122.0 263.0L123.7 263.8M130.9 258.1L131.2 255.8L130.4 253.5L131.4 251.2L131.6 248.9L131.8 246.8L132.4 244.9M122.4 216.0L119.8 216.8L117.8 217.9L116.5 219.6L115.1 221.6L113.6 223.1L115.3 224.1L115.7 225.9L115.6 227.9L116.2 230.0L116.6 232.4M120.4 220.9L121.0 223.9L120.2 225.0L120.8 226.4L120.6 228.0L121.8 228.7L120.6 230.2L122.3 231.9L124.3 232.1L125.7 233.1M121.9 236.3L122.9 237.8L124.4 237.8L125.7 238.7L127.2 237.2L128.2 236.5L128.9 238.8L130.4 240.2M107.5 238.3L107.9 240.8L109.4 239.7L110.9 239.2L112.6 240.6L114.3 242.0L116.4 241.9"/><path stroke-width="1.0" d="M190.1 145.8L192.0 145.4L194.4 146.6L196.3 148.9L196.7 151.3"/><path fill="#000" stroke-width="0.5" d="M134.4 269.3L136.8 273.4L131.5 273.4Z"/></g>
<text x="635.3" y="19" text-anchor="middle" font-weight="bold" font-size="12">Model 2 (ZeroFires): O3_MDA8 on 05/15/2022</text>
<rect x="478.5" y="28.5" width="313.5" height="244.9" fill="none" stroke="#333" stroke-width="0.75" stroke-linejoin="round"/>
<path d="M488.5 273.4H784.5M488.5 273.4v6.6M522.5 273.4v6.6M555.5 273.4v6.6M588.5 273.4v6.6M621.5 273.4v6.6M654.5 273.4v6.6M687.5 273.4v6.6M719.5 273.4v6.6M752.5 273.4v6.6M784.5 273.4v6.6" stroke="#000" stroke-width="0.8" fill="none"/>
<text x="488.6" y="295" text-anchor="middle" font-size="10" letter-spacing="0.1">-83.5</text>
<text x="522.6" y="295" text-anchor="middle" font-size="10" letter-spacing="0.1">-81.5</text>
<text x="555.6" y="295" text-anchor="middle" font-size="10" letter-spacing="0.1">-79.5</text>
<text x="588.6" y="295" text-anchor="middle" font-size="10" letter-spacing="0.1">-77.5</text>
<text x="621.6" y="295" text-anchor="middle" font-size="10" letter-spacing="0.1">-75.5</text>
<text x="654.6" y="295" text-anchor="middle" font-size="10" letter-spacing="0.1">-73.5</text>
<text x="687.6" y="295" text-anchor="middle" font-size="10" letter-spacing="0.1">-71.5</text>
<text x="719.6" y="295" text-anchor="middle" font-size="10" letter-spacing="0.1">-69.5</text>
<text x="752.6" y="295" text-anchor="middle" font-size="10" letter-spacing="0.1">-67.5</text>
<text x="784.6" y="295" text-anchor="middle" font-size="10" letter-spacing="0.1">-65.5</text>
<path d="M478.5 267.5V34.5M478.5 267.5h-6.6M478.5 228.5h-6.6M478.5 190.5h-6.6M478.5 151.5h-6.6M478.5 112.5h-6.6M478.5 73.5h-6.6M478.5 34.5h-6.6" stroke="#000" stroke-width="0.8" fill="none"/>
<text transform="translate(465.3,267.7) rotate(-90)" text-anchor="middle" font-size="10" letter-spacing="0.45">38.5</text>
<text transform="translate(465.3,228.7) rotate(-90)" text-anchor="middle" font-size="10" letter-spacing="0.45">40.5</text>
<text transform="translate(465.3,190.7) rotate(-90)" text-anchor="middle" font-size="10" letter-spacing="0.45">42.5</text>
<text transform="translate(465.3,151.7) rotate(-90)" text-anchor="middle" font-size="10" letter-spacing="0.45">44.5</text>
<text transform="translate(465.3,112.7) rotate(-90)" text-anchor="middle" font-size="10" letter-spacing="0.45">46.5</text>
<text transform="translate(465.3,73.7) rotate(-90)" text-anchor="middle" font-size="10" letter-spacing="0.45">48.5</text>
<text transform="translate(465.3,34.7) rotate(-90)" text-anchor="middle" font-size="10" letter-spacing="0.45">50.5</text>
<text x="525.9" y="313" font-size="12" textLength="218.8" lengthAdjust="spacing" xml:space="preserve">Domain size: 37x47 | Max = 80 at (3, 15)</text>
<text x="573.3" y="325" font-size="12" textLength="124.0" lengthAdjust="spacing" xml:space="preserve">Mean: 40 |  Median: 39</text>
<rect x="37.0" y="387.9" width="296.8" height="232.9" fill="#e5e5e5"/>
<g shape-rendering="crispEdges">
<rect x="43.31" y="482.32" width="6.61" height="6.59" fill="#e6e4d9"/>
<rect x="49.63" y="482.32" width="6.61" height="6.59" fill="#ece2a4"/>
<rect x="55.94" y="482.32" width="6.61" height="6.59" fill="#e8e4c8"/>
<rect x="62.26" y="482.32" width="6.61" height="6.59" fill="#e6e4d3"/>
<rect x="68.57" y="482.32" width="6.61" height="6.59" fill="#e6e4d3"/>
<rect x="49.63" y="488.61" width="6.61" height="6.59" fill="#e6e4d9"/>
<rect x="55.94" y="488.61" width="6.61" height="6.59" fill="#e6e4d9"/>
<rect x="62.26" y="488.61" width="6.61" height="6.59" fill="#e6e4d9"/>
<rect x="68.57" y="488.61" width="6.61" height="6.59" fill="#e6e4d9"/>
<rect x="74.89" y="488.61" width="6.61" height="6.59" fill="#e6e4d9"/>
<rect x="37.00" y="526.38" width="6.61" height="6.59" fill="#e6e4d6"/>
<rect x="43.31" y="526.38" width="6.61" height="6.59" fill="#e6e4d6"/>
<rect x="37.00" y="532.68" width="6.61" height="6.59" fill="#e6e4d6"/>
<rect x="43.31" y="532.68" width="6.61" height="6.59" fill="#e6e4d6"/>
<rect x="37.00" y="538.97" width="6.61" height="6.59" fill="#e6e4d6"/>
<rect x="43.31" y="538.97" width="6.61" height="6.59" fill="#e6e4d6"/>
<rect x="119.09" y="570.44" width="6.61" height="6.59" fill="#e6e4d3"/>
<rect x="125.41" y="570.44" width="6.61" height="6.59" fill="#e6e4d3"/>
<rect x="131.72" y="570.44" width="6.61" height="6.59" fill="#e6e4d3"/>
<rect x="119.09" y="576.74" width="6.61" height="6.59" fill="#e7e4ce"/>
<rect x="125.41" y="576.74" width="6.61" height="6.59" fill="#e8e4c8"/>
<rect x="131.72" y="576.74" width="6.61" height="6.59" fill="#e6e4d3"/>
<rect x="119.09" y="583.03" width="6.61" height="6.59" fill="#ece2a0"/>
<rect x="125.41" y="583.03" width="6.61" height="6.59" fill="#e9e4c0"/>
<rect x="131.72" y="583.03" width="6.61" height="6.59" fill="#e6e4d3"/>
<rect x="119.09" y="589.33" width="6.61" height="6.59" fill="#ebe2a8"/>
<rect x="125.41" y="589.33" width="6.61" height="6.59" fill="#e8e4c8"/>
<rect x="93.83" y="595.62" width="6.61" height="6.59" fill="#e6e4d9"/>
<rect x="100.15" y="595.62" width="6.61" height="6.59" fill="#e6e4d9"/>
<rect x="37.00" y="614.51" width="6.61" height="6.59" fill="#e6e4d9"/>
</g>
<g transform="translate(0,353)" clip-path="url(#clip)" fill="none" stroke="#000" stroke-width="0.75" stroke-linejoin="round" stroke-linecap="round"><path d="M212.0 74.5L215.1 75.7L219.0 75.3L222.1 73.7L224.5 71.4L225.9 65.5L226.4 69.0L228.7 69.4L232.2 65.2L235.4 61.3L238.5 57.8L241.2 55.8L243.1 51.1L237.3 47.6M243.1 51.1L244.9 50.4L243.1 53.5L242.0 57.4L240.4 60.5L241.2 62.4L243.9 60.1L247.0 58.5L252.5 56.2L260.7 54.3L257.9 56.2L254.0 58.9L251.7 61.3L253.3 64.8L250.2 63.2L247.0 61.6L243.1 65.9L238.5 72.2L234.6 77.6L231.5 82.0M254.4 82.0L254.8 76.8L254.0 73.7L257.2 69.4L258.7 71.4L262.6 72.2L264.2 69.4L262.6 67.5L266.5 65.2L269.6 63.6L274.3 59.7L278.2 55.8L282.0 51.5M222.9 32.5L226.0 30.1L229.9 29.7L230.7 33.2L232.6 36.7L235.4 39.8L236.9 43.0L239.3 43.7L243.1 43.4L247.0 42.6L249.4 43.0L246.6 45.3L248.6 46.1L252.5 46.9L255.6 46.1L258.7 46.5L262.6 45.3L266.5 45.7L269.2 45.3L272.0 42.6L274.3 38.7L275.8 37.9L277.8 41.0L280.5 41.0L282.0 38.7M237.7 34.0L238.9 29.7L241.2 28.9L241.6 32.5L244.7 34.8L247.0 35.6L249.4 34.0L253.3 34.4L258.7 32.5L263.4 30.1L268.1 28.9L266.5 32.5L264.9 34.8L266.5 38.7L263.4 39.8L260.3 37.9L257.9 37.1L256.4 38.7L252.5 39.5L248.6 39.1L246.3 37.5L243.9 38.7L242.4 36.3L238.5 36.0L237.7 34.0M282.0 38.7L285.1 40.4L288.6 38.7L292.1 37.0L295.2 34.0L297.6 30.9L298.5 29.2M284.3 32.8L286.3 30.1L289.4 29.2L291.7 30.5L290.6 33.6L288.2 36.7L285.9 36.0L284.3 32.8M284.3 44.3L286.7 43.0L291.2 43.2L289.8 45.7L286.8 45.5L284.3 44.3M282.0 51.8L283.7 50.0L286.0 47.9L288.4 45.7L286.7 42.6L285.1 41.0L282.0 38.7M312.2 63.0L314.7 62.2L316.6 60.6L317.3 59.7M312.4 63.1L314.9 62.4L316.8 60.8M237.7 72.0L235.4 75.9L232.6 79.8L231.1 82.9L230.3 85.2L231.5 88.4L231.9 90.7L233.4 93.8L235.4 96.9L236.9 94.6L238.5 95.4L240.0 97.3L242.4 99.4L245.1 98.5L246.3 96.1L245.5 93.4L248.6 92.6L250.9 89.9L252.5 86.4L253.3 82.9L255.2 79.0L254.8 75.9L254.4 73.6L257.2 72.0M236.9 75.1L234.2 78.6L231.9 81.7L230.7 84.5M219.4 80.6L221.0 81.7L219.8 84.5L219.2 82.5L219.4 80.6M212.0 75.1L215.1 75.9L219.0 75.1L222.1 73.2L224.5 72.0M212.0 75.1L214.7 78.2L215.9 80.6L215.1 83.7L212.0 86.8M143.2 30.1L146.7 31.3L149.8 30.1L153.7 29.7L157.6 30.5L161.5 31.3L161.5 37.1L160.3 41.8L158.4 45.7L156.4 47.6L156.0 51.9L154.5 55.4L152.1 58.1L150.2 61.6L149.4 63.4L151.3 60.5L154.8 58.1L158.7 54.6L160.7 50.4L161.9 45.7L164.6 40.2L166.1 34.8L167.7 30.9L168.9 28.9M164.6 82.0L166.9 78.4L168.1 74.5L166.9 72.2L165.7 69.0L166.9 64.4L166.1 58.9L167.7 53.5L169.6 47.2L171.6 41.8L173.1 41.0L174.7 41.8L175.9 44.9L178.2 45.3L181.7 42.2L184.4 39.5L187.2 39.8L192.6 43.4L194.2 47.2L197.3 56.6L200.4 65.9L201.2 68.3L204.3 69.4L206.2 69.0L207.8 73.7L209.7 76.4L212.0 75.7M166.9 72.0L168.5 74.3L166.9 77.5L165.0 80.6L164.2 83.7L165.4 86.0L163.4 89.1L161.1 88.7L160.3 90.3L157.2 90.7L156.4 93.0L156.4 96.5M161.1 90.3L163.8 98.5L167.7 109.4L171.6 120.3L173.1 124.9L175.5 127.0M142.0 100.4L156.4 96.5L156.4 101.6L158.4 104.7L157.6 107.8L154.5 110.5L153.3 112.5L154.1 115.6L153.3 121.8L152.1 127.0M212.0 86.4L209.0 89.1L206.6 91.5L204.3 94.6L202.0 97.7L199.6 98.5L198.1 96.1L196.5 97.7L195.3 93.8L193.4 96.9L194.2 100.0L194.2 103.9L192.6 106.3L190.3 105.5L188.7 108.6L185.6 111.7L183.3 114.0L181.3 113.3L180.5 116.4L180.9 119.5L179.4 122.6L178.2 124.9L178.6 127.0M207.4 72.0L208.2 75.1L210.5 76.7L212.0 75.9M95.4 127.0L98.5 124.9L101.6 121.8L103.9 117.2L106.3 113.3L109.4 110.2L111.7 108.4L118.7 106.9L132.0 103.3L142.0 100.2M132.3 103.3L133.5 108.6L135.5 114.0L136.2 117.2L135.5 120.3L136.6 124.2L138.2 127.0M28.6 107.6L31.7 110.7L34.0 113.4L35.6 113.0L36.7 116.9L39.9 116.1L41.0 117.7L40.6 120.0L42.6 122.8L45.7 124.7L48.4 127.4L45.7 126.6L43.4 127.0L42.2 128.2L44.1 129.4L44.9 131.7L43.7 134.4L41.0 133.7L37.9 133.3L35.6 130.5L33.6 130.9L32.1 133.3L30.9 130.9L29.7 127.8L28.6 127.4M57.4 147.0L60.5 143.4L65.2 141.4L70.6 139.1L76.1 136.8L79.2 135.6M79.5 134.9L79.9 133.4L82.6 131.8L86.5 130.9L88.8 131.4L89.2 134.1L88.8 136.1L86.5 137.4L83.4 136.5L80.2 135.7L79.5 134.9M89.2 130.6L93.5 127.5L98.9 124.4L101.3 122.5L102.8 120.1L104.8 117.0M100.5 124.4L95.8 129.5L96.6 131.0L99.7 131.0L100.5 132.6L98.5 134.5L99.7 137.2L100.5 140.0L98.2 141.5L95.8 143.9L93.5 146.6L91.1 148.1L87.3 148.5L83.4 150.1L81.0 148.9L75.6 148.9L69.3 150.5L64.7 152.8L60.0 155.2M97.4 171.1L106.7 168.8L118.4 166.4L122.3 168.4L124.6 170.7L125.0 172.0M57.4 147.0L54.6 148.9L53.1 151.7L52.3 154.8L53.5 156.3L56.6 156.7L59.7 156.0L62.0 154.4L65.9 152.5L69.8 150.5L74.5 149.3L79.2 149.2L82.3 150.5L85.4 148.9L90.0 147.8M62.0 154.4L62.4 157.1L64.4 158.7L65.6 160.6L65.2 161.8L61.3 162.2L56.6 163.7L51.1 165.7L47.6 166.9L46.1 168.8L45.3 170.7L51.1 170.4L45.7 171.3L41.8 171.1L38.3 170.4L34.0 171.5L30.9 173.5L28.6 175.8M65.6 160.6L66.7 162.6L64.8 165.7L62.4 168.8L59.7 171.9L56.6 175.0L51.1 178.9L46.5 182.4L41.0 185.9L35.6 189.4L32.5 193.3L30.1 195.3L28.6 195.7M56.0 175.4L56.6 178.1L57.4 180.5L66.7 178.5L78.4 175.8L90.0 173.3M46.5 182.8L47.6 189.0L49.2 196.1L50.8 202.0M90.0 173.5L101.7 170.4L113.4 167.6L118.8 166.5L121.9 168.4L124.3 170.4L125.0 172.7L127.4 175.4L130.5 176.6L136.7 178.5L143.7 180.5M130.5 176.6L129.3 179.7L128.2 182.8L127.0 185.2L128.2 187.5L127.4 189.8L128.2 192.6L132.0 195.3L136.7 199.2L134.4 202.0M144.5 147.0L144.9 159.5L152.3 157.1L160.0 154.8M150.0 144.3L154.7 142.3L161.7 140.7L171.0 138.8L173.4 136.1L175.7 133.7L177.3 134.1M170.2 117.0L171.4 120.9L173.4 124.8L175.7 127.9L177.3 129.8L177.3 134.1M181.9 117.0L180.8 120.1L178.8 124.0L178.0 127.9L177.3 129.8M177.3 134.1L178.8 136.5L181.1 137.2L179.6 139.2L178.4 141.1L177.3 143.9L178.8 145.0L181.9 145.4L184.3 148.1L186.6 151.3L188.2 152.8L191.3 152.4L196.7 151.3L196.3 148.9L194.4 146.6L192.0 145.4L190.1 145.8M192.3 145.6L194.5 146.8L196.4 149.1M196.7 151.3L193.6 153.2L190.5 154.8L188.2 155.9L186.6 157.1L185.4 154.4L184.3 156.7L181.9 159.4L179.6 160.2L178.0 157.5L176.9 155.9L175.7 158.3L176.5 160.6L176.9 163.7L171.8 166.1M150.0 157.9L159.3 155.5L168.7 153.2L174.1 151.6L175.3 153.6L176.1 156.7M169.1 153.4L170.6 160.6L171.8 166.1M186.2 162.0L188.2 160.4L189.7 160.6L188.8 161.7L186.2 162.0M194.8 160.3L196.7 158.7L198.3 160.0L196.7 160.4L194.8 160.3M195.3 160.1L196.9 159.2L197.8 160.0M144.8 159.3L146.7 167.1L148.7 174.5L146.7 177.6L146.4 179.2L150.2 176.1L156.5 171.4L164.3 168.7L171.3 166.0L176.7 164.0M146.7 182.3L151.8 180.0L158.0 177.6L162.7 175.7L165.0 173.7L166.6 171.4M145.6 187.8L150.2 186.2L156.5 183.1L163.5 179.2L168.2 175.3L172.8 171.2M163.5 175.7L166.6 174.9L170.5 173.0L167.4 173.7L164.3 176.9M142.1 175.3L143.6 178.0L144.4 180.4L144.4 184.3L143.6 186.6L141.7 188.1L141.3 190.9L142.8 192.0L145.6 191.3L146.7 193.6L147.1 198.3L146.7 202.2L147.5 206.1L146.4 208.8L144.8 210.7L144.4 212.0M146.4 182.7L144.4 184.6M145.6 187.8L144.0 187.0M49.2 197.0L50.4 202.5L51.5 207.9L52.7 214.1L53.9 220.4L54.6 225.4L62.0 223.9L69.8 222.3L79.2 220.4L90.0 218.0M49.2 208.7L50.4 207.9L51.5 209.1L50.8 210.9L49.4 210.4L49.2 208.7M50.8 210.9L50.4 214.9L49.6 220.4L49.6 228.1L47.3 231.3L44.9 234.0L41.8 234.4L39.5 236.7L37.9 239.0L38.3 242.9L36.7 244.9L34.4 242.9L33.2 245.3L32.5 249.2L31.7 252.0M69.4 222.5L70.2 228.1L71.0 232.4L74.5 228.9L76.8 226.6L78.4 226.2L80.3 222.3L81.5 223.9L83.8 224.3L86.2 221.9L90.0 219.6M90.0 225.8L87.4 225.0L86.6 228.1L87.0 230.5L84.6 233.6L82.3 236.7L81.9 239.0L80.0 238.3L78.4 241.4L77.6 245.3L75.3 247.2L72.9 245.7L71.0 244.5L70.6 247.6L69.8 252.0M85.0 219.6L94.3 217.6L108.4 214.5L123.2 211.4L123.9 209.8L125.5 208.7L127.4 208.3M134.1 197.0L136.8 199.3L134.4 202.1L132.1 205.2L130.2 207.1L127.4 208.3L126.7 211.8L127.7 213.7M146.9 197.0L147.7 200.9L146.9 205.6L145.0 210.2L142.6 214.9L141.2 218.8M85.0 222.7L87.3 220.4L92.8 220.4L95.1 222.3L96.7 225.8L97.5 225.0L100.6 226.2L101.7 228.5L105.2 229.7L108.0 230.5L109.1 229.7L109.9 232.4M85.0 222.7L86.6 224.3L87.3 228.1L85.8 232.0L85.0 233.6M87.3 224.6L92.0 227.0L95.9 228.9L96.7 225.8M124.6 216.0L127.3 224.9L129.3 231.9L130.3 234.3L133.8 233.8L137.7 233.3L139.1 233.1M126.8 215.0L129.8 217.0L131.3 219.0L132.3 221.9L133.8 223.9L135.7 225.4L137.7 226.9L138.2 228.4L137.7 229.9L139.2 230.9L138.7 232.3L140.2 234.8L139.7 237.3L139.2 240.8L138.2 243.7L137.2 246.7L136.2 250.0M137.7 227.1L138.5 228.9L138.0 230.1L139.5 231.1L139.0 232.6L140.3 234.6M140.0 234.8L140.2 237.3L139.6 240.8L138.7 243.7L137.7 246.7M127.8 215.0L131.8 217.0L135.7 218.2L138.7 219.0L139.7 220.5L139.2 222.4L140.7 222.9L141.7 220.9L142.4 218.0L143.2 215.0M122.4 216.0L120.9 218.0L120.4 220.9L121.1 223.9L120.1 224.9L120.9 226.4L120.4 227.9L121.6 228.9L120.9 230.4L122.4 231.9L124.3 232.1L125.8 232.8L125.1 233.8L123.3 233.6L122.4 234.6L121.9 236.3L122.9 237.8L124.3 237.6L125.8 238.5L127.3 237.3L128.3 236.6L128.8 238.8L130.3 240.3L130.8 242.8L130.3 244.7L131.8 246.2L132.8 248.7L132.3 250.0M120.5 221.2L121.3 224.0L120.3 225.2L121.0 226.5L120.5 228.0L121.8 229.0L121.0 230.5L122.5 232.0M120.1 229.9L121.4 231.4L122.6 232.3L124.6 232.3L125.9 233.1L125.2 234.0L123.4 233.8L122.5 234.8L122.0 236.4M122.4 234.8L123.1 237.9L124.4 237.8L125.9 238.8L127.4 237.6L128.4 236.8L128.9 238.9M126.1 238.3L127.6 237.1L128.6 237.1L129.3 239.3L130.5 240.5M119.9 227.4L120.6 228.6L120.4 229.9L121.9 231.1M122.4 216.0L119.9 217.0L117.9 218.0L116.4 219.5L114.9 221.4L113.4 222.9L115.4 223.9L115.9 225.9L115.4 227.9L116.4 229.9L116.9 232.3L117.4 234.8L118.4 236.8L119.9 238.8L120.9 240.8L121.9 242.8L122.4 244.7M117.8 218.1L116.3 219.6L114.8 221.5L113.5 222.8M118.1 218.2L116.7 219.7L115.2 221.7L113.9 223.2L115.7 224.2M119.4 216.5L122.4 216.2L123.3 217.2L121.4 218.0M120.9 215.2L122.9 215.5L123.8 216.5M114.9 234.3L115.9 236.3L117.4 238.3L119.4 239.8L120.9 241.8M106.0 229.9L108.5 229.4L109.5 231.4L109.0 233.8L108.0 235.8L107.5 238.3L108.0 240.8L109.5 239.8L111.0 239.3L112.4 240.8L114.4 241.8L116.4 242.0L118.9 242.5L120.9 242.8M108.6 229.5L109.6 231.5L109.1 233.9L108.1 235.9L107.6 238.4L108.1 240.7M108.4 229.7L109.3 231.6L108.8 233.8L107.8 235.8L107.3 238.3L107.8 241.0L109.4 240.1M109.6 239.8L111.1 239.5L112.5 241.0L114.5 242.0M106.0 230.2L108.3 229.6M139.5 232.5L140.3 235.6L139.1 239.5L137.9 243.4L136.8 246.5L136.4 250.4L134.8 252.7L134.1 255.8L133.7 258.9L132.5 260.5L130.9 258.1L130.6 253.5L131.3 248.8L132.5 244.9L130.9 242.6L130.2 240.2M110.7 245.3L114.6 247.2L118.5 250.4L121.6 252.7L124.7 253.9L125.5 249.6L123.9 246.5L122.4 243.7M110.9 245.5L114.7 247.4L118.6 250.5L121.8 252.9M118.5 256.2L121.6 258.9L124.7 260.5L127.0 257.4L125.5 254.3M118.6 256.4L121.8 259.1L124.9 260.6M111.5 261.3L116.1 260.9L120.0 261.6L123.2 263.6L126.3 265.2L128.6 265.2L131.7 264.8L133.3 265.9L134.4 269.0L135.6 271.8L137.9 273.3M111.6 261.4L116.3 261.0L120.2 261.8L123.3 263.8L125.5 267.5L127.8 265.9M127.0 273.3L131.7 271.8L135.6 271.8M124.7 260.5L127.0 262.0L128.2 263.6M28.6 255.4L29.0 261.6L31.7 265.5L35.6 269.4L38.7 271.3L40.6 272.5L40.2 273.3M56.6 273.3L57.4 270.9L58.9 270.5L62.0 269.4L64.8 268.2L66.3 265.5L64.8 264.7L65.2 261.6M30.1 255.0L28.6 255.4M135.2 121.1L137.6 125.8L138.4 129.7L139.9 129.3L141.5 132.8L143.0 139.0L144.6 145.3L144.6 152.0M153.5 122.7L152.4 127.4L153.2 132.0L154.3 136.7L153.5 140.2L154.7 142.6M144.6 145.7L154.7 142.6M69.8 251.5L69.1 252.2L66.7 257.7L65.2 261.6M32.5 249.1L31.7 253.0L30.1 255.0M212.0 86.4L210.6 88.0L209.1 89.3L207.6 90.1L206.8 91.6L205.4 93.0L204.4 94.6L203.6 96.5L202.0 97.7L199.7 98.7L198.0 96.2L196.7 97.9L195.4 95.9L195.3 93.8L194.0 95.1L193.6 97.0L194.2 98.4L194.1 100.0L193.5 102.0L194.1 103.9L192.7 106.3L190.4 105.2L190.1 107.3L188.5 108.5L187.4 110.4L185.7 111.9L184.8 113.3L183.3 114.1L181.4 113.1L181.4 114.9L180.5 116.4L180.9 119.5L180.3 121.1L179.4 122.6L178.4 125.1L178.8 126.9M206.6 91.5L205.9 93.0L204.4 93.9L203.5 95.4L202.5 96.9L201.1 98.1L199.2 98.9L197.6 96.8L196.0 98.0L193.8 97.2M190.3 106.3L189.4 108.0L187.9 109.3L186.6 110.7L185.1 112.0L183.8 113.0L183.0 114.5L181.4 113.8M212.0 74.5L213.7 74.6L215.1 75.6L217.1 75.8L219.0 75.1L220.6 74.5L222.0 73.5L223.5 72.7L224.6 71.5M254.4 82.0L254.7 80.3L255.2 78.6L254.7 76.8L254.7 75.2L254.1 73.7L255.2 72.4L256.1 70.8L257.3 69.5L258.5 71.5L260.7 71.7L262.6 72.3L264.0 69.3L262.7 67.4L264.7 66.5L266.6 65.4L268.3 64.8L269.6 63.5L271.1 62.2L272.9 61.2L274.1 59.5L275.6 58.4L276.6 56.8L278.0 55.7L279.0 54.0L281.0 53.2L281.8 51.4M236.9 43.0L239.3 43.6L241.2 43.4L243.2 43.6L245.0 42.4L247.0 42.5L249.4 43.0L247.7 43.7L246.5 45.2L248.5 46.3L250.6 46.2L252.5 46.8L254.0 46.3L255.7 46.3L258.7 46.7L260.5 45.4L262.6 45.1L264.6 45.1L266.5 45.5L269.2 45.3M243.1 51.1L244.9 50.4L244.3 52.1L243.4 53.6M244.7 34.8L247.1 35.5L249.3 33.9L251.3 34.3L253.2 34.6M264.9 34.8L265.5 36.8L266.5 38.7L264.9 39.1L263.4 39.8L261.5 39.4L260.4 37.7M237.7 72.0L236.2 73.7L235.2 75.8L233.7 77.6L232.7 79.8L232.0 81.4L231.3 83.0L230.2 85.2M245.5 93.4L246.9 92.4L248.5 92.4L249.5 91.0L250.8 89.8L251.5 88.1L252.3 86.3L252.2 84.5L253.1 82.9L253.7 80.7L255.1 79.0L254.6 75.9L254.6 73.5L257.2 72.1M212.0 75.1L213.7 76.3L214.8 78.1L216.0 80.5L215.7 82.2L215.3 83.7L213.2 84.9L211.8 86.6M284.3 32.8L285.3 31.4L286.3 30.1L287.7 29.1L289.3 29.0L291.8 30.4L291.5 32.2L290.4 33.6L289.8 35.5L288.4 36.9L286.0 35.7L285.1 34.4L284.2 32.9M282.0 51.8L283.7 50.0L285.9 47.7L288.4 45.7M284.3 44.3L286.8 43.2L288.9 43.6L291.2 43.3L289.9 45.8L286.8 45.6L284.3 44.5M34.0 113.4L35.6 113.1L36.1 115.0L36.6 117.0L38.2 116.3L39.8 116.0L40.9 117.8L40.4 120.0L41.3 121.6L42.5 122.8L43.9 124.1L45.6 124.8L47.3 125.8L48.4 127.4L45.7 126.7L43.4 127.3M110.7 245.3L113.0 245.6L114.7 247.1L116.1 248.0L117.0 249.6L118.3 250.6L120.1 251.5L121.4 252.9L122.9 254.0L124.6 254.1M118.5 256.2L120.2 257.4L121.7 258.8L123.3 259.3L124.8 260.3M111.5 261.3L113.8 260.6L116.2 261.0L118.0 261.9L120.0 261.9L121.6 262.6L123.1 263.7L124.5 264.8L126.4 264.9M111.9 261.1L114.2 261.4L116.5 261.5L118.4 262.1L120.4 262.2L122.0 263.0L123.7 263.8M130.9 258.1L131.2 255.8L130.4 253.5L131.4 251.2L131.6 248.9L131.8 246.8L132.4 244.9M122.4 216.0L119.8 216.8L117.8 217.9L116.5 219.6L115.1 221.6L113.6 223.1L115.3 224.1L115.7 225.9L115.6 227.9L116.2 230.0L116.6 232.4M120.4 220.9L121.0 223.9L120.2 225.0L120.8 226.4L120.6 228.0L121.8 228.7L120.6 230.2L122.3 231.9L124.3 232.1L125.7 233.1M121.9 236.3L122.9 237.8L124.4 237.8L125.7 238.7L127.2 237.2L128.2 236.5L128.9 238.8L130.4 240.2M107.5 238.3L107.9 240.8L109.4 239.7L110.9 239.2L112.6 240.6L114.3 242.0L116.4 241.9"/><path stroke-width="1.0" d="M190.1 145.8L192.0 145.4L194.4 146.6L196.3 148.9L196.7 151.3"/><path fill="#000" stroke-width="0.5" d="M134.4 269.3L136.8 273.4L131.5 273.4Z"/></g>
<text x="185.3" y="372" text-anchor="middle" font-weight="bold" font-size="12">Model 1 - Model 2: O3_MDA8</text>
<rect x="28.5" y="381.5" width="313.5" height="244.9" fill="none" stroke="#333" stroke-width="0.75" stroke-linejoin="round"/>
<text x="116.7" y="666" font-size="12" textLength="137.3" lengthAdjust="spacing" xml:space="preserve">Min = -0.187 | Max = 3.11</text>
<text x="106.9" y="678" font-size="12" textLength="156.9" lengthAdjust="spacing" xml:space="preserve">Mean: 0.137 |  Median: 0.118</text>
<rect x="487.0" y="387.9" width="296.8" height="232.9" fill="#e5e5e5"/>
<g shape-rendering="crispEdges">
<rect x="499.63" y="482.32" width="6.61" height="6.59" fill="#e6e4d3"/>
<rect x="505.94" y="482.32" width="6.61" height="6.59" fill="#e6e4d3"/>
<rect x="569.09" y="576.74" width="6.61" height="6.59" fill="#e6e4d3"/>
<rect x="575.41" y="576.74" width="6.61" height="6.59" fill="#e6e4d3"/>
<rect x="569.09" y="583.03" width="6.61" height="6.59" fill="#e8e4c8"/>
<rect x="575.41" y="583.03" width="6.61" height="6.59" fill="#e8e4cb"/>
<rect x="569.09" y="589.33" width="6.61" height="6.59" fill="#e7e4ce"/>
<rect x="575.41" y="589.33" width="6.61" height="6.59" fill="#e6e4d3"/>
</g>
<g transform="translate(450,353)" clip-path="url(#clip)" fill="none" stroke="#000" stroke-width="0.75" stroke-linejoin="round" stroke-linecap="round"><path d="M212.0 74.5L215.1 75.7L219.0 75.3L222.1 73.7L224.5 71.4L225.9 65.5L226.4 69.0L228.7 69.4L232.2 65.2L235.4 61.3L238.5 57.8L241.2 55.8L243.1 51.1L237.3 47.6M243.1 51.1L244.9 50.4L243.1 53.5L242.0 57.4L240.4 60.5L241.2 62.4L243.9 60.1L247.0 58.5L252.5 56.2L260.7 54.3L257.9 56.2L254.0 58.9L251.7 61.3L253.3 64.8L250.2 63.2L247.0 61.6L243.1 65.9L238.5 72.2L234.6 77.6L231.5 82.0M254.4 82.0L254.8 76.8L254.0 73.7L257.2 69.4L258.7 71.4L262.6 72.2L264.2 69.4L262.6 67.5L266.5 65.2L269.6 63.6L274.3 59.7L278.2 55.8L282.0 51.5M222.9 32.5L226.0 30.1L229.9 29.7L230.7 33.2L232.6 36.7L235.4 39.8L236.9 43.0L239.3 43.7L243.1 43.4L247.0 42.6L249.4 43.0L246.6 45.3L248.6 46.1L252.5 46.9L255.6 46.1L258.7 46.5L262.6 45.3L266.5 45.7L269.2 45.3L272.0 42.6L274.3 38.7L275.8 37.9L277.8 41.0L280.5 41.0L282.0 38.7M237.7 34.0L238.9 29.7L241.2 28.9L241.6 32.5L244.7 34.8L247.0 35.6L249.4 34.0L253.3 34.4L258.7 32.5L263.4 30.1L268.1 28.9L266.5 32.5L264.9 34.8L266.5 38.7L263.4 39.8L260.3 37.9L257.9 37.1L256.4 38.7L252.5 39.5L248.6 39.1L246.3 37.5L243.9 38.7L242.4 36.3L238.5 36.0L237.7 34.0M282.0 38.7L285.1 40.4L288.6 38.7L292.1 37.0L295.2 34.0L297.6 30.9L298.5 29.2M284.3 32.8L286.3 30.1L289.4 29.2L291.7 30.5L290.6 33.6L288.2 36.7L285.9 36.0L284.3 32.8M284.3 44.3L286.7 43.0L291.2 43.2L289.8 45.7L286.8 45.5L284.3 44.3M282.0 51.8L283.7 50.0L286.0 47.9L288.4 45.7L286.7 42.6L285.1 41.0L282.0 38.7M312.2 63.0L314.7 62.2L316.6 60.6L317.3 59.7M312.4 63.1L314.9 62.4L316.8 60.8M237.7 72.0L235.4 75.9L232.6 79.8L231.1 82.9L230.3 85.2L231.5 88.4L231.9 90.7L233.4 93.8L235.4 96.9L236.9 94.6L238.5 95.4L240.0 97.3L242.4 99.4L245.1 98.5L246.3 96.1L245.5 93.4L248.6 92.6L250.9 89.9L252.5 86.4L253.3 82.9L255.2 79.0L254.8 75.9L254.4 73.6L257.2 72.0M236.9 75.1L234.2 78.6L231.9 81.7L230.7 84.5M219.4 80.6L221.0 81.7L219.8 84.5L219.2 82.5L219.4 80.6M212.0 75.1L215.1 75.9L219.0 75.1L222.1 73.2L224.5 72.0M212.0 75.1L214.7 78.2L215.9 80.6L215.1 83.7L212.0 86.8M143.2 30.1L146.7 31.3L149.8 30.1L153.7 29.7L157.6 30.5L161.5 31.3L161.5 37.1L160.3 41.8L158.4 45.7L156.4 47.6L156.0 51.9L154.5 55.4L152.1 58.1L150.2 61.6L149.4 63.4L151.3 60.5L154.8 58.1L158.7 54.6L160.7 50.4L161.9 45.7L164.6 40.2L166.1 34.8L167.7 30.9L168.9 28.9M164.6 82.0L166.9 78.4L168.1 74.5L166.9 72.2L165.7 69.0L166.9 64.4L166.1 58.9L167.7 53.5L169.6 47.2L171.6 41.8L173.1 41.0L174.7 41.8L175.9 44.9L178.2 45.3L181.7 42.2L184.4 39.5L187.2 39.8L192.6 43.4L194.2 47.2L197.3 56.6L200.4 65.9L201.2 68.3L204.3 69.4L206.2 69.0L207.8 73.7L209.7 76.4L212.0 75.7M166.9 72.0L168.5 74.3L166.9 77.5L165.0 80.6L164.2 83.7L165.4 86.0L163.4 89.1L161.1 88.7L160.3 90.3L157.2 90.7L156.4 93.0L156.4 96.5M161.1 90.3L163.8 98.5L167.7 109.4L171.6 120.3L173.1 124.9L175.5 127.0M142.0 100.4L156.4 96.5L156.4 101.6L158.4 104.7L157.6 107.8L154.5 110.5L153.3 112.5L154.1 115.6L153.3 121.8L152.1 127.0M212.0 86.4L209.0 89.1L206.6 91.5L204.3 94.6L202.0 97.7L199.6 98.5L198.1 96.1L196.5 97.7L195.3 93.8L193.4 96.9L194.2 100.0L194.2 103.9L192.6 106.3L190.3 105.5L188.7 108.6L185.6 111.7L183.3 114.0L181.3 113.3L180.5 116.4L180.9 119.5L179.4 122.6L178.2 124.9L178.6 127.0M207.4 72.0L208.2 75.1L210.5 76.7L212.0 75.9M95.4 127.0L98.5 124.9L101.6 121.8L103.9 117.2L106.3 113.3L109.4 110.2L111.7 108.4L118.7 106.9L132.0 103.3L142.0 100.2M132.3 103.3L133.5 108.6L135.5 114.0L136.2 117.2L135.5 120.3L136.6 124.2L138.2 127.0M28.6 107.6L31.7 110.7L34.0 113.4L35.6 113.0L36.7 116.9L39.9 116.1L41.0 117.7L40.6 120.0L42.6 122.8L45.7 124.7L48.4 127.4L45.7 126.6L43.4 127.0L42.2 128.2L44.1 129.4L44.9 131.7L43.7 134.4L41.0 133.7L37.9 133.3L35.6 130.5L33.6 130.9L32.1 133.3L30.9 130.9L29.7 127.8L28.6 127.4M57.4 147.0L60.5 143.4L65.2 141.4L70.6 139.1L76.1 136.8L79.2 135.6M79.5 134.9L79.9 133.4L82.6 131.8L86.5 130.9L88.8 131.4L89.2 134.1L88.8 136.1L86.5 137.4L83.4 136.5L80.2 135.7L79.5 134.9M89.2 130.6L93.5 127.5L98.9 124.4L101.3 122.5L102.8 120.1L104.8 117.0M100.5 124.4L95.8 129.5L96.6 131.0L99.7 131.0L100.5 132.6L98.5 134.5L99.7 137.2L100.5 140.0L98.2 141.5L95.8 143.9L93.5 146.6L91.1 148.1L87.3 148.5L83.4 150.1L81.0 148.9L75.6 148.9L69.3 150.5L64.7 152.8L60.0 155.2M97.4 171.1L106.7 168.8L118.4 166.4L122.3 168.4L124.6 170.7L125.0 172.0M57.4 147.0L54.6 148.9L53.1 151.7L52.3 154.8L53.5 156.3L56.6 156.7L59.7 156.0L62.0 154.4L65.9 152.5L69.8 150.5L74.5 149.3L79.2 149.2L82.3 150.5L85.4 148.9L90.0 147.8M62.0 154.4L62.4 157.1L64.4 158.7L65.6 160.6L65.2 161.8L61.3 162.2L56.6 163.7L51.1 165.7L47.6 166.9L46.1 168.8L45.3 170.7L51.1 170.4L45.7 171.3L41.8 171.1L38.3 170.4L34.0 171.5L30.9 173.5L28.6 175.8M65.6 160.6L66.7 162.6L64.8 165.7L62.4 168.8L59.7 171.9L56.6 175.0L51.1 178.9L46.5 182.4L41.0 185.9L35.6 189.4L32.5 193.3L30.1 195.3L28.6 195.7M56.0 175.4L56.6 178.1L57.4 180.5L66.7 178.5L78.4 175.8L90.0 173.3M46.5 182.8L47.6 189.0L49.2 196.1L50.8 202.0M90.0 173.5L101.7 170.4L113.4 167.6L118.8 166.5L121.9 168.4L124.3 170.4L125.0 172.7L127.4 175.4L130.5 176.6L136.7 178.5L143.7 180.5M130.5 176.6L129.3 179.7L128.2 182.8L127.0 185.2L128.2 187.5L127.4 189.8L128.2 192.6L132.0 195.3L136.7 199.2L134.4 202.0M144.5 147.0L144.9 159.5L152.3 157.1L160.0 154.8M150.0 144.3L154.7 142.3L161.7 140.7L171.0 138.8L173.4 136.1L175.7 133.7L177.3 134.1M170.2 117.0L171.4 120.9L173.4 124.8L175.7 127.9L177.3 129.8L177.3 134.1M181.9 117.0L180.8 120.1L178.8 124.0L178.0 127.9L177.3 129.8M177.3 134.1L178.8 136.5L181.1 137.2L179.6 139.2L178.4 141.1L177.3 143.9L178.8 145.0L181.9 145.4L184.3 148.1L186.6 151.3L188.2 152.8L191.3 152.4L196.7 151.3L196.3 148.9L194.4 146.6L192.0 145.4L190.1 145.8M192.3 145.6L194.5 146.8L196.4 149.1M196.7 151.3L193.6 153.2L190.5 154.8L188.2 155.9L186.6 157.1L185.4 154.4L184.3 156.7L181.9 159.4L179.6 160.2L178.0 157.5L176.9 155.9L175.7 158.3L176.5 160.6L176.9 163.7L171.8 166.1M150.0 157.9L159.3 155.5L168.7 153.2L174.1 151.6L175.3 153.6L176.1 156.7M169.1 153.4L170.6 160.6L171.8 166.1M186.2 162.0L188.2 160.4L189.7 160.6L188.8 161.7L186.2 162.0M194.8 160.3L196.7 158.7L198.3 160.0L196.7 160.4L194.8 160.3M195.3 160.1L196.9 159.2L197.8 160.0M144.8 159.3L146.7 167.1L148.7 174.5L146.7 177.6L146.4 179.2L150.2 176.1L156.5 171.4L164.3 168.7L171.3 166.0L176.7 164.0M146.7 182.3L151.8 180.0L158.0 177.6L162.7 175.7L165.0 173.7L166.6 171.4M145.6 187.8L150.2 186.2L156.5 183.1L163.5 179.2L168.2 175.3L172.8 171.2M163.5 175.7L166.6 174.9L170.5 173.0L167.4 173.7L164.3 176.9M142.1 175.3L143.6 178.0L144.4 180.4L144.4 184.3L143.6 186.6L141.7 188.1L141.3 190.9L142.8 192.0L145.6 191.3L146.7 193.6L147.1 198.3L146.7 202.2L147.5 206.1L146.4 208.8L144.8 210.7L144.4 212.0M146.4 182.7L144.4 184.6M145.6 187.8L144.0 187.0M49.2 197.0L50.4 202.5L51.5 207.9L52.7 214.1L53.9 220.4L54.6 225.4L62.0 223.9L69.8 222.3L79.2 220.4L90.0 218.0M49.2 208.7L50.4 207.9L51.5 209.1L50.8 210.9L49.4 210.4L49.2 208.7M50.8 210.9L50.4 214.9L49.6 220.4L49.6 228.1L47.3 231.3L44.9 234.0L41.8 234.4L39.5 236.7L37.9 239.0L38.3 242.9L36.7 244.9L34.4 242.9L33.2 245.3L32.5 249.2L31.7 252.0M69.4 222.5L70.2 228.1L71.0 232.4L74.5 228.9L76.8 226.6L78.4 226.2L80.3 222.3L81.5 223.9L83.8 224.3L86.2 221.9L90.0 219.6M90.0 225.8L87.4 225.0L86.6 228.1L87.0 230.5L84.6 233.6L82.3 236.7L81.9 239.0L80.0 238.3L78.4 241.4L77.6 245.3L75.3 247.2L72.9 245.7L71.0 244.5L70.6 247.6L69.8 252.0M85.0 219.6L94.3 217.6L108.4 214.5L123.2 211.4L123.9 209.8L125.5 208.7L127.4 208.3M134.1 197.0L136.8 199.3L134.4 202.1L132.1 205.2L130.2 207.1L127.4 208.3L126.7 211.8L127.7 213.7M146.9 197.0L147.7 200.9L146.9 205.6L145.0 210.2L142.6 214.9L141.2 218.8M85.0 222.7L87.3 220.4L92.8 220.4L95.1 222.3L96.7 225.8L97.5 225.0L100.6 226.2L101.7 228.5L105.2 229.7L108.0 230.5L109.1 229.7L109.9 232.4M85.0 222.7L86.6 224.3L87.3 228.1L85.8 232.0L85.0 233.6M87.3 224.6L92.0 227.0L95.9 228.9L96.7 225.8M124.6 216.0L127.3 224.9L129.3 231.9L130.3 234.3L133.8 233.8L137.7 233.3L139.1 233.1M126.8 215.0L129.8 217.0L131.3 219.0L132.3 221.9L133.8 223.9L135.7 225.4L137.7 226.9L138.2 228.4L137.7 229.9L139.2 230.9L138.7 232.3L140.2 234.8L139.7 237.3L139.2 240.8L138.2 243.7L137.2 246.7L136.2 250.0M137.7 227.1L138.5 228.9L138.0 230.1L139.5 231.1L139.0 232.6L140.3 234.6M140.0 234.8L140.2 237.3L139.6 240.8L138.7 243.7L137.7 246.7M127.8 215.0L131.8 217.0L135.7 218.2L138.7 219.0L139.7 220.5L139.2 222.4L140.7 222.9L141.7 220.9L142.4 218.0L143.2 215.0M122.4 216.0L120.9 218.0L120.4 220.9L121.1 223.9L120.1 224.9L120.9 226.4L120.4 227.9L121.6 228.9L120.9 230.4L122.4 231.9L124.3 232.1L125.8 232.8L125.1 233.8L123.3 233.6L122.4 234.6L121.9 236.3L122.9 237.8L124.3 237.6L125.8 238.5L127.3 237.3L128.3 236.6L128.8 238.8L130.3 240.3L130.8 242.8L130.3 244.7L131.8 246.2L132.8 248.7L132.3 250.0M120.5 221.2L121.3 224.0L120.3 225.2L121.0 226.5L120.5 228.0L121.8 229.0L121.0 230.5L122.5 232.0M120.1 229.9L121.4 231.4L122.6 232.3L124.6 232.3L125.9 233.1L125.2 234.0L123.4 233.8L122.5 234.8L122.0 236.4M122.4 234.8L123.1 237.9L124.4 237.8L125.9 238.8L127.4 237.6L128.4 236.8L128.9 238.9M126.1 238.3L127.6 237.1L128.6 237.1L129.3 239.3L130.5 240.5M119.9 227.4L120.6 228.6L120.4 229.9L121.9 231.1M122.4 216.0L119.9 217.0L117.9 218.0L116.4 219.5L114.9 221.4L113.4 222.9L115.4 223.9L115.9 225.9L115.4 227.9L116.4 229.9L116.9 232.3L117.4 234.8L118.4 236.8L119.9 238.8L120.9 240.8L121.9 242.8L122.4 244.7M117.8 218.1L116.3 219.6L114.8 221.5L113.5 222.8M118.1 218.2L116.7 219.7L115.2 221.7L113.9 223.2L115.7 224.2M119.4 216.5L122.4 216.2L123.3 217.2L121.4 218.0M120.9 215.2L122.9 215.5L123.8 216.5M114.9 234.3L115.9 236.3L117.4 238.3L119.4 239.8L120.9 241.8M106.0 229.9L108.5 229.4L109.5 231.4L109.0 233.8L108.0 235.8L107.5 238.3L108.0 240.8L109.5 239.8L111.0 239.3L112.4 240.8L114.4 241.8L116.4 242.0L118.9 242.5L120.9 242.8M108.6 229.5L109.6 231.5L109.1 233.9L108.1 235.9L107.6 238.4L108.1 240.7M108.4 229.7L109.3 231.6L108.8 233.8L107.8 235.8L107.3 238.3L107.8 241.0L109.4 240.1M109.6 239.8L111.1 239.5L112.5 241.0L114.5 242.0M106.0 230.2L108.3 229.6M139.5 232.5L140.3 235.6L139.1 239.5L137.9 243.4L136.8 246.5L136.4 250.4L134.8 252.7L134.1 255.8L133.7 258.9L132.5 260.5L130.9 258.1L130.6 253.5L131.3 248.8L132.5 244.9L130.9 242.6L130.2 240.2M110.7 245.3L114.6 247.2L118.5 250.4L121.6 252.7L124.7 253.9L125.5 249.6L123.9 246.5L122.4 243.7M110.9 245.5L114.7 247.4L118.6 250.5L121.8 252.9M118.5 256.2L121.6 258.9L124.7 260.5L127.0 257.4L125.5 254.3M118.6 256.4L121.8 259.1L124.9 260.6M111.5 261.3L116.1 260.9L120.0 261.6L123.2 263.6L126.3 265.2L128.6 265.2L131.7 264.8L133.3 265.9L134.4 269.0L135.6 271.8L137.9 273.3M111.6 261.4L116.3 261.0L120.2 261.8L123.3 263.8L125.5 267.5L127.8 265.9M127.0 273.3L131.7 271.8L135.6 271.8M124.7 260.5L127.0 262.0L128.2 263.6M28.6 255.4L29.0 261.6L31.7 265.5L35.6 269.4L38.7 271.3L40.6 272.5L40.2 273.3M56.6 273.3L57.4 270.9L58.9 270.5L62.0 269.4L64.8 268.2L66.3 265.5L64.8 264.7L65.2 261.6M30.1 255.0L28.6 255.4M135.2 121.1L137.6 125.8L138.4 129.7L139.9 129.3L141.5 132.8L143.0 139.0L144.6 145.3L144.6 152.0M153.5 122.7L152.4 127.4L153.2 132.0L154.3 136.7L153.5 140.2L154.7 142.6M144.6 145.7L154.7 142.6M69.8 251.5L69.1 252.2L66.7 257.7L65.2 261.6M32.5 249.1L31.7 253.0L30.1 255.0M212.0 86.4L210.6 88.0L209.1 89.3L207.6 90.1L206.8 91.6L205.4 93.0L204.4 94.6L203.6 96.5L202.0 97.7L199.7 98.7L198.0 96.2L196.7 97.9L195.4 95.9L195.3 93.8L194.0 95.1L193.6 97.0L194.2 98.4L194.1 100.0L193.5 102.0L194.1 103.9L192.7 106.3L190.4 105.2L190.1 107.3L188.5 108.5L187.4 110.4L185.7 111.9L184.8 113.3L183.3 114.1L181.4 113.1L181.4 114.9L180.5 116.4L180.9 119.5L180.3 121.1L179.4 122.6L178.4 125.1L178.8 126.9M206.6 91.5L205.9 93.0L204.4 93.9L203.5 95.4L202.5 96.9L201.1 98.1L199.2 98.9L197.6 96.8L196.0 98.0L193.8 97.2M190.3 106.3L189.4 108.0L187.9 109.3L186.6 110.7L185.1 112.0L183.8 113.0L183.0 114.5L181.4 113.8M212.0 74.5L213.7 74.6L215.1 75.6L217.1 75.8L219.0 75.1L220.6 74.5L222.0 73.5L223.5 72.7L224.6 71.5M254.4 82.0L254.7 80.3L255.2 78.6L254.7 76.8L254.7 75.2L254.1 73.7L255.2 72.4L256.1 70.8L257.3 69.5L258.5 71.5L260.7 71.7L262.6 72.3L264.0 69.3L262.7 67.4L264.7 66.5L266.6 65.4L268.3 64.8L269.6 63.5L271.1 62.2L272.9 61.2L274.1 59.5L275.6 58.4L276.6 56.8L278.0 55.7L279.0 54.0L281.0 53.2L281.8 51.4M236.9 43.0L239.3 43.6L241.2 43.4L243.2 43.6L245.0 42.4L247.0 42.5L249.4 43.0L247.7 43.7L246.5 45.2L248.5 46.3L250.6 46.2L252.5 46.8L254.0 46.3L255.7 46.3L258.7 46.7L260.5 45.4L262.6 45.1L264.6 45.1L266.5 45.5L269.2 45.3M243.1 51.1L244.9 50.4L244.3 52.1L243.4 53.6M244.7 34.8L247.1 35.5L249.3 33.9L251.3 34.3L253.2 34.6M264.9 34.8L265.5 36.8L266.5 38.7L264.9 39.1L263.4 39.8L261.5 39.4L260.4 37.7M237.7 72.0L236.2 73.7L235.2 75.8L233.7 77.6L232.7 79.8L232.0 81.4L231.3 83.0L230.2 85.2M245.5 93.4L246.9 92.4L248.5 92.4L249.5 91.0L250.8 89.8L251.5 88.1L252.3 86.3L252.2 84.5L253.1 82.9L253.7 80.7L255.1 79.0L254.6 75.9L254.6 73.5L257.2 72.1M212.0 75.1L213.7 76.3L214.8 78.1L216.0 80.5L215.7 82.2L215.3 83.7L213.2 84.9L211.8 86.6M284.3 32.8L285.3 31.4L286.3 30.1L287.7 29.1L289.3 29.0L291.8 30.4L291.5 32.2L290.4 33.6L289.8 35.5L288.4 36.9L286.0 35.7L285.1 34.4L284.2 32.9M282.0 51.8L283.7 50.0L285.9 47.7L288.4 45.7M284.3 44.3L286.8 43.2L288.9 43.6L291.2 43.3L289.9 45.8L286.8 45.6L284.3 44.5M34.0 113.4L35.6 113.1L36.1 115.0L36.6 117.0L38.2 116.3L39.8 116.0L40.9 117.8L40.4 120.0L41.3 121.6L42.5 122.8L43.9 124.1L45.6 124.8L47.3 125.8L48.4 127.4L45.7 126.7L43.4 127.3M110.7 245.3L113.0 245.6L114.7 247.1L116.1 248.0L117.0 249.6L118.3 250.6L120.1 251.5L121.4 252.9L122.9 254.0L124.6 254.1M118.5 256.2L120.2 257.4L121.7 258.8L123.3 259.3L124.8 260.3M111.5 261.3L113.8 260.6L116.2 261.0L118.0 261.9L120.0 261.9L121.6 262.6L123.1 263.7L124.5 264.8L126.4 264.9M111.9 261.1L114.2 261.4L116.5 261.5L118.4 262.1L120.4 262.2L122.0 263.0L123.7 263.8M130.9 258.1L131.2 255.8L130.4 253.5L131.4 251.2L131.6 248.9L131.8 246.8L132.4 244.9M122.4 216.0L119.8 216.8L117.8 217.9L116.5 219.6L115.1 221.6L113.6 223.1L115.3 224.1L115.7 225.9L115.6 227.9L116.2 230.0L116.6 232.4M120.4 220.9L121.0 223.9L120.2 225.0L120.8 226.4L120.6 228.0L121.8 228.7L120.6 230.2L122.3 231.9L124.3 232.1L125.7 233.1M121.9 236.3L122.9 237.8L124.4 237.8L125.7 238.7L127.2 237.2L128.2 236.5L128.9 238.8L130.4 240.2M107.5 238.3L107.9 240.8L109.4 239.7L110.9 239.2L112.6 240.6L114.3 242.0L116.4 241.9"/><path stroke-width="1.0" d="M190.1 145.8L192.0 145.4L194.4 146.6L196.3 148.9L196.7 151.3"/><path fill="#000" stroke-width="0.5" d="M134.4 269.3L136.8 273.4L131.5 273.4Z"/></g>
<text x="635.3" y="372" text-anchor="middle" font-weight="bold" font-size="12">(Model 1 - Model 2)/(Model 1)x100%: O3_MDA8</text>
<rect x="478.5" y="381.5" width="313.5" height="244.9" fill="none" stroke="#333" stroke-width="0.75" stroke-linejoin="round"/>
<text x="576.3" y="666" font-size="12" textLength="117.9" lengthAdjust="spacing" xml:space="preserve">Min = -0.3 | Max = 5.6</text>
<text x="569.9" y="678" font-size="12" textLength="130.7" lengthAdjust="spacing" xml:space="preserve">Mean: 0.3 |  Median: 0.3</text>
<g transform="translate(0,0)" shape-rendering="crispEdges">
<rect x="390.5" y="259.66" width="8" height="2.24" fill="#ebebeb"/>
<rect x="390.5" y="257.82" width="8" height="2.24" fill="#e7e7e7"/>
<rect x="390.5" y="255.99" width="8" height="2.24" fill="#e3e3e3"/>
<rect x="390.5" y="254.15" width="8" height="2.24" fill="#dfdfdf"/>
<rect x="390.5" y="252.31" width="8" height="2.24" fill="#dadada"/>
<rect x="390.5" y="250.47" width="8" height="2.24" fill="#d3d3d3"/>
<rect x="390.5" y="248.64" width="8" height="2.24" fill="#cccccc"/>
<rect x="390.5" y="246.80" width="8" height="2.24" fill="#c5c5c5"/>
<rect x="390.5" y="244.96" width="8" height="2.24" fill="#bcbcbc"/>
<rect x="390.5" y="243.12" width="8" height="2.24" fill="#b4b4b4"/>
<rect x="390.5" y="241.29" width="8" height="2.24" fill="#acacac"/>
<rect x="390.5" y="239.45" width="8" height="2.24" fill="#a4a4a4"/>
<rect x="390.5" y="237.61" width="8" height="2.24" fill="#9c9c9c"/>
<rect x="390.5" y="235.78" width="8" height="2.24" fill="#949494"/>
<rect x="390.5" y="233.94" width="8" height="2.24" fill="#8c8c8c"/>
<rect x="390.5" y="232.10" width="8" height="2.24" fill="#86888b"/>
<rect x="390.5" y="230.26" width="8" height="2.24" fill="#828890"/>
<rect x="390.5" y="228.43" width="8" height="2.24" fill="#7e8a99"/>
<rect x="390.5" y="226.59" width="8" height="2.24" fill="#7a8ea4"/>
<rect x="390.5" y="224.75" width="8" height="2.24" fill="#7593b0"/>
<rect x="390.5" y="222.91" width="8" height="2.24" fill="#7197bc"/>
<rect x="390.5" y="221.07" width="8" height="2.24" fill="#6d9bc5"/>
<rect x="390.5" y="219.24" width="8" height="2.24" fill="#699fcc"/>
<rect x="390.5" y="217.40" width="8" height="2.24" fill="#64a4d5"/>
<rect x="390.5" y="215.56" width="8" height="2.24" fill="#5eaadf"/>
<rect x="390.5" y="213.72" width="8" height="2.24" fill="#5aaee4"/>
<rect x="390.5" y="211.89" width="8" height="2.24" fill="#58b1e7"/>
<rect x="390.5" y="210.05" width="8" height="2.24" fill="#52afe5"/>
<rect x="390.5" y="208.21" width="8" height="2.24" fill="#4babe2"/>
<rect x="390.5" y="206.38" width="8" height="2.24" fill="#45a6df"/>
<rect x="390.5" y="204.54" width="8" height="2.24" fill="#3fa2dc"/>
<rect x="390.5" y="202.70" width="8" height="2.24" fill="#3a9ed9"/>
<rect x="390.5" y="200.86" width="8" height="2.24" fill="#359ad6"/>
<rect x="390.5" y="199.03" width="8" height="2.24" fill="#3096d3"/>
<rect x="390.5" y="197.19" width="8" height="2.24" fill="#2a91cf"/>
<rect x="390.5" y="195.35" width="8" height="2.24" fill="#248ccb"/>
<rect x="390.5" y="193.51" width="8" height="2.24" fill="#1e87c6"/>
<rect x="390.5" y="191.68" width="8" height="2.24" fill="#1782c2"/>
<rect x="390.5" y="189.84" width="8" height="2.24" fill="#107dbd"/>
<rect x="390.5" y="188.00" width="8" height="2.24" fill="#0d7aba"/>
<rect x="390.5" y="186.16" width="8" height="2.24" fill="#0977b7"/>
<rect x="390.5" y="184.32" width="8" height="2.24" fill="#0674b4"/>
<rect x="390.5" y="182.49" width="8" height="2.24" fill="#0477af"/>
<rect x="390.5" y="180.65" width="8" height="2.24" fill="#0379aa"/>
<rect x="390.5" y="178.81" width="8" height="2.24" fill="#017da5"/>
<rect x="390.5" y="176.98" width="8" height="2.24" fill="#0081a0"/>
<rect x="390.5" y="175.14" width="8" height="2.24" fill="#00849a"/>
<rect x="390.5" y="173.30" width="8" height="2.24" fill="#008793"/>
<rect x="390.5" y="171.46" width="8" height="2.24" fill="#008b8d"/>
<rect x="390.5" y="169.62" width="8" height="2.24" fill="#008f87"/>
<rect x="390.5" y="167.79" width="8" height="2.24" fill="#009382"/>
<rect x="390.5" y="165.95" width="8" height="2.24" fill="#02977d"/>
<rect x="390.5" y="164.11" width="8" height="2.24" fill="#0a9c78"/>
<rect x="390.5" y="162.28" width="8" height="2.24" fill="#13a173"/>
<rect x="390.5" y="160.44" width="8" height="2.24" fill="#1fa56f"/>
<rect x="390.5" y="158.60" width="8" height="2.24" fill="#2da96b"/>
<rect x="390.5" y="156.76" width="8" height="2.24" fill="#3dad68"/>
<rect x="390.5" y="154.93" width="8" height="2.24" fill="#4db164"/>
<rect x="390.5" y="153.09" width="8" height="2.24" fill="#5eb55f"/>
<rect x="390.5" y="151.25" width="8" height="2.24" fill="#6eba5a"/>
<rect x="390.5" y="149.41" width="8" height="2.24" fill="#7ebe56"/>
<rect x="390.5" y="147.57" width="8" height="2.24" fill="#8fc252"/>
<rect x="390.5" y="145.74" width="8" height="2.24" fill="#9fc74e"/>
<rect x="390.5" y="143.90" width="8" height="2.24" fill="#b1cd49"/>
<rect x="390.5" y="142.06" width="8" height="2.24" fill="#c5d443"/>
<rect x="390.5" y="140.23" width="8" height="2.24" fill="#d8da3e"/>
<rect x="390.5" y="138.39" width="8" height="2.24" fill="#e8de3a"/>
<rect x="390.5" y="136.55" width="8" height="2.24" fill="#f0dc36"/>
<rect x="390.5" y="134.71" width="8" height="2.24" fill="#f0d432"/>
<rect x="390.5" y="132.88" width="8" height="2.24" fill="#f0cd2e"/>
<rect x="390.5" y="131.04" width="8" height="2.24" fill="#f0c72a"/>
<rect x="390.5" y="129.20" width="8" height="2.24" fill="#efc026"/>
<rect x="390.5" y="127.36" width="8" height="2.24" fill="#edba22"/>
<rect x="390.5" y="125.53" width="8" height="2.24" fill="#ebb51e"/>
<rect x="390.5" y="123.69" width="8" height="2.24" fill="#eaaf1c"/>
<rect x="390.5" y="121.85" width="8" height="2.24" fill="#e8aa19"/>
<rect x="390.5" y="120.01" width="8" height="2.24" fill="#e8a514"/>
<rect x="390.5" y="118.18" width="8" height="2.24" fill="#e8a10f"/>
<rect x="390.5" y="116.34" width="8" height="2.24" fill="#e89d09"/>
<rect x="390.5" y="114.50" width="8" height="2.24" fill="#e89906"/>
<rect x="390.5" y="112.66" width="8" height="2.24" fill="#e89503"/>
<rect x="390.5" y="110.83" width="8" height="2.24" fill="#e89101"/>
<rect x="390.5" y="108.99" width="8" height="2.24" fill="#e78c00"/>
<rect x="390.5" y="107.15" width="8" height="2.24" fill="#e68600"/>
<rect x="390.5" y="105.31" width="8" height="2.24" fill="#e48100"/>
<rect x="390.5" y="103.47" width="8" height="2.24" fill="#e37b00"/>
<rect x="390.5" y="101.64" width="8" height="2.24" fill="#e17600"/>
<rect x="390.5" y="99.80" width="8" height="2.24" fill="#e07100"/>
<rect x="390.5" y="97.96" width="8" height="2.24" fill="#df6e02"/>
<rect x="390.5" y="96.12" width="8" height="2.24" fill="#dd6b05"/>
<rect x="390.5" y="94.29" width="8" height="2.24" fill="#dc6808"/>
<rect x="390.5" y="92.45" width="8" height="2.24" fill="#db680e"/>
<rect x="390.5" y="90.61" width="8" height="2.24" fill="#da6814"/>
<rect x="390.5" y="88.78" width="8" height="2.24" fill="#d9681a"/>
<rect x="390.5" y="86.94" width="8" height="2.24" fill="#d86820"/>
<rect x="390.5" y="85.10" width="8" height="2.24" fill="#d5682b"/>
<rect x="390.5" y="83.26" width="8" height="2.24" fill="#d26836"/>
<rect x="390.5" y="81.43" width="8" height="2.24" fill="#d06841"/>
<rect x="390.5" y="79.59" width="8" height="2.24" fill="#cf684c"/>
<rect x="390.5" y="77.75" width="8" height="2.24" fill="#cd6857"/>
<rect x="390.5" y="75.91" width="8" height="2.24" fill="#cc6862"/>
<rect x="390.5" y="74.08" width="8" height="2.24" fill="#ca6b6f"/>
<rect x="390.5" y="72.24" width="8" height="2.24" fill="#c96e7d"/>
<rect x="390.5" y="70.40" width="8" height="2.24" fill="#c86f8a"/>
<rect x="390.5" y="68.56" width="8" height="2.24" fill="#c86d92"/>
<rect x="390.5" y="66.73" width="8" height="2.24" fill="#c86a9a"/>
<rect x="390.5" y="64.89" width="8" height="2.24" fill="#c9679e"/>
<rect x="390.5" y="63.05" width="8" height="2.24" fill="#cb6196"/>
<rect x="390.5" y="61.21" width="8" height="2.24" fill="#ce5c8e"/>
<rect x="390.5" y="59.38" width="8" height="2.24" fill="#d25583"/>
<rect x="390.5" y="57.54" width="8" height="2.24" fill="#d74a73"/>
<rect x="390.5" y="55.70" width="8" height="2.24" fill="#dc3f63"/>
<rect x="390.5" y="53.86" width="8" height="2.24" fill="#e13554"/>
<rect x="390.5" y="52.03" width="8" height="2.24" fill="#e62d47"/>
<rect x="390.5" y="50.19" width="8" height="2.24" fill="#ea253b"/>
<rect x="390.5" y="48.35" width="8" height="2.24" fill="#ee1d2f"/>
<rect x="390.5" y="46.51" width="8" height="2.24" fill="#f21522"/>
<rect x="390.5" y="44.68" width="8" height="2.24" fill="#f70c15"/>
<rect x="390.5" y="42.84" width="8" height="2.24" fill="#fc0407"/>
<rect x="390.5" y="41.00" width="8" height="2.24" fill="#ff0000"/>
</g>
<path d="M390.5 41.0V261.5H398.5M390.5 41.0H398.5" fill="none" stroke="#555" stroke-width="0.75"/>
<path d="M398.5 41.0V261.5M398.5 259.5h6.5M398.5 241.5h6.5M398.5 223.5h6.5M398.5 205.5h6.5M398.5 187.5h6.5M398.5 169.5h6.5M398.5 151.5h6.5M398.5 133.5h6.5M398.5 114.5h6.5M398.5 96.5h6.5M398.5 78.5h6.5M398.5 60.5h6.5M398.5 42.5h6.5" stroke="#000" stroke-width="0.8" fill="none"/>
<text x="410.6" y="263.9" font-size="10" letter-spacing="0.35">0</text>
<text x="410.6" y="245.9" font-size="10" letter-spacing="0.35">10</text>
<text x="410.6" y="227.8" font-size="10" letter-spacing="0.35">20</text>
<text x="410.6" y="209.8" font-size="10" letter-spacing="0.35">30</text>
<text x="410.6" y="191.7" font-size="10" letter-spacing="0.35">40</text>
<text x="410.6" y="173.7" font-size="10" letter-spacing="0.35">50</text>
<text x="410.6" y="155.7" font-size="10" letter-spacing="0.35">60</text>
<text x="410.6" y="137.6" font-size="10" letter-spacing="0.35">70</text>
<text x="410.6" y="119.6" font-size="10" letter-spacing="0.35">80</text>
<text x="410.6" y="101.5" font-size="10" letter-spacing="0.35">90</text>
<text x="410.6" y="83.5" font-size="10" letter-spacing="0.35">100</text>
<text x="410.6" y="65.4" font-size="10" letter-spacing="0.35">110</text>
<text x="410.6" y="47.4" font-size="10" letter-spacing="0.35">120</text>
<text x="394.6" y="38.4" text-anchor="middle" font-size="12" letter-spacing="0.3">ppbV</text>
<g transform="translate(450,0)" shape-rendering="crispEdges">
<rect x="390.5" y="259.66" width="8" height="2.24" fill="#ebebeb"/>
<rect x="390.5" y="257.82" width="8" height="2.24" fill="#e7e7e7"/>
<rect x="390.5" y="255.99" width="8" height="2.24" fill="#e3e3e3"/>
<rect x="390.5" y="254.15" width="8" height="2.24" fill="#dfdfdf"/>
<rect x="390.5" y="252.31" width="8" height="2.24" fill="#dadada"/>
<rect x="390.5" y="250.47" width="8" height="2.24" fill="#d3d3d3"/>
<rect x="390.5" y="248.64" width="8" height="2.24" fill="#cccccc"/>
<rect x="390.5" y="246.80" width="8" height="2.24" fill="#c5c5c5"/>
<rect x="390.5" y="244.96" width="8" height="2.24" fill="#bcbcbc"/>
<rect x="390.5" y="243.12" width="8" height="2.24" fill="#b4b4b4"/>
<rect x="390.5" y="241.29" width="8" height="2.24" fill="#acacac"/>
<rect x="390.5" y="239.45" width="8" height="2.24" fill="#a4a4a4"/>
<rect x="390.5" y="237.61" width="8" height="2.24" fill="#9c9c9c"/>
<rect x="390.5" y="235.78" width="8" height="2.24" fill="#949494"/>
<rect x="390.5" y="233.94" width="8" height="2.24" fill="#8c8c8c"/>
<rect x="390.5" y="232.10" width="8" height="2.24" fill="#86888b"/>
<rect x="390.5" y="230.26" width="8" height="2.24" fill="#828890"/>
<rect x="390.5" y="228.43" width="8" height="2.24" fill="#7e8a99"/>
<rect x="390.5" y="226.59" width="8" height="2.24" fill="#7a8ea4"/>
<rect x="390.5" y="224.75" width="8" height="2.24" fill="#7593b0"/>
<rect x="390.5" y="222.91" width="8" height="2.24" fill="#7197bc"/>
<rect x="390.5" y="221.07" width="8" height="2.24" fill="#6d9bc5"/>
<rect x="390.5" y="219.24" width="8" height="2.24" fill="#699fcc"/>
<rect x="390.5" y="217.40" width="8" height="2.24" fill="#64a4d5"/>
<rect x="390.5" y="215.56" width="8" height="2.24" fill="#5eaadf"/>
<rect x="390.5" y="213.72" width="8" height="2.24" fill="#5aaee4"/>
<rect x="390.5" y="211.89" width="8" height="2.24" fill="#58b1e7"/>
<rect x="390.5" y="210.05" width="8" height="2.24" fill="#52afe5"/>
<rect x="390.5" y="208.21" width="8" height="2.24" fill="#4babe2"/>
<rect x="390.5" y="206.38" width="8" height="2.24" fill="#45a6df"/>
<rect x="390.5" y="204.54" width="8" height="2.24" fill="#3fa2dc"/>
<rect x="390.5" y="202.70" width="8" height="2.24" fill="#3a9ed9"/>
<rect x="390.5" y="200.86" width="8" height="2.24" fill="#359ad6"/>
<rect x="390.5" y="199.03" width="8" height="2.24" fill="#3096d3"/>
<rect x="390.5" y="197.19" width="8" height="2.24" fill="#2a91cf"/>
<rect x="390.5" y="195.35" width="8" height="2.24" fill="#248ccb"/>
<rect x="390.5" y="193.51" width="8" height="2.24" fill="#1e87c6"/>
<rect x="390.5" y="191.68" width="8" height="2.24" fill="#1782c2"/>
<rect x="390.5" y="189.84" width="8" height="2.24" fill="#107dbd"/>
<rect x="390.5" y="188.00" width="8" height="2.24" fill="#0d7aba"/>
<rect x="390.5" y="186.16" width="8" height="2.24" fill="#0977b7"/>
<rect x="390.5" y="184.32" width="8" height="2.24" fill="#0674b4"/>
<rect x="390.5" y="182.49" width="8" height="2.24" fill="#0477af"/>
<rect x="390.5" y="180.65" width="8" height="2.24" fill="#0379aa"/>
<rect x="390.5" y="178.81" width="8" height="2.24" fill="#017da5"/>
<rect x="390.5" y="176.98" width="8" height="2.24" fill="#0081a0"/>
<rect x="390.5" y="175.14" width="8" height="2.24" fill="#00849a"/>
<rect x="390.5" y="173.30" width="8" height="2.24" fill="#008793"/>
<rect x="390.5" y="171.46" width="8" height="2.24" fill="#008b8d"/>
<rect x="390.5" y="169.62" width="8" height="2.24" fill="#008f87"/>
<rect x="390.5" y="167.79" width="8" height="2.24" fill="#009382"/>
<rect x="390.5" y="165.95" width="8" height="2.24" fill="#02977d"/>
<rect x="390.5" y="164.11" width="8" height="2.24" fill="#0a9c78"/>
<rect x="390.5" y="162.28" width="8" height="2.24" fill="#13a173"/>
<rect x="390.5" y="160.44" width="8" height="2.24" fill="#1fa56f"/>
<rect x="390.5" y="158.60" width="8" height="2.24" fill="#2da96b"/>
<rect x="390.5" y="156.76" width="8" height="2.24" fill="#3dad68"/>
<rect x="390.5" y="154.93" width="8" height="2.24" fill="#4db164"/>
<rect x="390.5" y="153.09" width="8" height="2.24" fill="#5eb55f"/>
<rect x="390.5" y="151.25" width="8" height="2.24" fill="#6eba5a"/>
<rect x="390.5" y="149.41" width="8" height="2.24" fill="#7ebe56"/>
<rect x="390.5" y="147.57" width="8" height="2.24" fill="#8fc252"/>
<rect x="390.5" y="145.74" width="8" height="2.24" fill="#9fc74e"/>
<rect x="390.5" y="143.90" width="8" height="2.24" fill="#b1cd49"/>
<rect x="390.5" y="142.06" width="8" height="2.24" fill="#c5d443"/>
<rect x="390.5" y="140.23" width="8" height="2.24" fill="#d8da3e"/>
<rect x="390.5" y="138.39" width="8" height="2.24" fill="#e8de3a"/>
<rect x="390.5" y="136.55" width="8" height="2.24" fill="#f0dc36"/>
<rect x="390.5" y="134.71" width="8" height="2.24" fill="#f0d432"/>
<rect x="390.5" y="132.88" width="8" height="2.24" fill="#f0cd2e"/>
<rect x="390.5" y="131.04" width="8" height="2.24" fill="#f0c72a"/>
<rect x="390.5" y="129.20" width="8" height="2.24" fill="#efc026"/>
<rect x="390.5" y="127.36" width="8" height="2.24" fill="#edba22"/>
<rect x="390.5" y="125.53" width="8" height="2.24" fill="#ebb51e"/>
<rect x="390.5" y="123.69" width="8" height="2.24" fill="#eaaf1c"/>
<rect x="390.5" y="121.85" width="8" height="2.24" fill="#e8aa19"/>
<rect x="390.5" y="120.01" width="8" height="2.24" fill="#e8a514"/>
<rect x="390.5" y="118.18" width="8" height="2.24" fill="#e8a10f"/>
<rect x="390.5" y="116.34" width="8" height="2.24" fill="#e89d09"/>
<rect x="390.5" y="114.50" width="8" height="2.24" fill="#e89906"/>
<rect x="390.5" y="112.66" width="8" height="2.24" fill="#e89503"/>
<rect x="390.5" y="110.83" width="8" height="2.24" fill="#e89101"/>
<rect x="390.5" y="108.99" width="8" height="2.24" fill="#e78c00"/>
<rect x="390.5" y="107.15" width="8" height="2.24" fill="#e68600"/>
<rect x="390.5" y="105.31" width="8" height="2.24" fill="#e48100"/>
<rect x="390.5" y="103.47" width="8" height="2.24" fill="#e37b00"/>
<rect x="390.5" y="101.64" width="8" height="2.24" fill="#e17600"/>
<rect x="390.5" y="99.80" width="8" height="2.24" fill="#e07100"/>
<rect x="390.5" y="97.96" width="8" height="2.24" fill="#df6e02"/>
<rect x="390.5" y="96.12" width="8" height="2.24" fill="#dd6b05"/>
<rect x="390.5" y="94.29" width="8" height="2.24" fill="#dc6808"/>
<rect x="390.5" y="92.45" width="8" height="2.24" fill="#db680e"/>
<rect x="390.5" y="90.61" width="8" height="2.24" fill="#da6814"/>
<rect x="390.5" y="88.78" width="8" height="2.24" fill="#d9681a"/>
<rect x="390.5" y="86.94" width="8" height="2.24" fill="#d86820"/>
<rect x="390.5" y="85.10" width="8" height="2.24" fill="#d5682b"/>
<rect x="390.5" y="83.26" width="8" height="2.24" fill="#d26836"/>
<rect x="390.5" y="81.43" width="8" height="2.24" fill="#d06841"/>
<rect x="390.5" y="79.59" width="8" height="2.24" fill="#cf684c"/>
<rect x="390.5" y="77.75" width="8" height="2.24" fill="#cd6857"/>
<rect x="390.5" y="75.91" width="8" height="2.24" fill="#cc6862"/>
<rect x="390.5" y="74.08" width="8" height="2.24" fill="#ca6b6f"/>
<rect x="390.5" y="72.24" width="8" height="2.24" fill="#c96e7d"/>
<rect x="390.5" y="70.40" width="8" height="2.24" fill="#c86f8a"/>
<rect x="390.5" y="68.56" width="8" height="2.24" fill="#c86d92"/>
<rect x="390.5" y="66.73" width="8" height="2.24" fill="#c86a9a"/>
<rect x="390.5" y="64.89" width="8" height="2.24" fill="#c9679e"/>
<rect x="390.5" y="63.05" width="8" height="2.24" fill="#cb6196"/>
<rect x="390.5" y="61.21" width="8" height="2.24" fill="#ce5c8e"/>
<rect x="390.5" y="59.38" width="8" height="2.24" fill="#d25583"/>
<rect x="390.5" y="57.54" width="8" height="2.24" fill="#d74a73"/>
<rect x="390.5" y="55.70" width="8" height="2.24" fill="#dc3f63"/>
<rect x="390.5" y="53.86" width="8" height="2.24" fill="#e13554"/>
<rect x="390.5" y="52.03" width="8" height="2.24" fill="#e62d47"/>
<rect x="390.5" y="50.19" width="8" height="2.24" fill="#ea253b"/>
<rect x="390.5" y="48.35" width="8" height="2.24" fill="#ee1d2f"/>
<rect x="390.5" y="46.51" width="8" height="2.24" fill="#f21522"/>
<rect x="390.5" y="44.68" width="8" height="2.24" fill="#f70c15"/>
<rect x="390.5" y="42.84" width="8" height="2.24" fill="#fc0407"/>
<rect x="390.5" y="41.00" width="8" height="2.24" fill="#ff0000"/>
</g>
<path d="M840.5 41.0V261.5H848.5M840.5 41.0H848.5" fill="none" stroke="#555" stroke-width="0.75"/>
<path d="M848.5 41.0V261.5M848.5 259.5h6.5M848.5 241.5h6.5M848.5 223.5h6.5M848.5 205.5h6.5M848.5 187.5h6.5M848.5 169.5h6.5M848.5 151.5h6.5M848.5 133.5h6.5M848.5 114.5h6.5M848.5 96.5h6.5M848.5 78.5h6.5M848.5 60.5h6.5M848.5 42.5h6.5" stroke="#000" stroke-width="0.8" fill="none"/>
<text x="860.6" y="263.9" font-size="10" letter-spacing="0.35">0</text>
<text x="860.6" y="245.9" font-size="10" letter-spacing="0.35">10</text>
<text x="860.6" y="227.8" font-size="10" letter-spacing="0.35">20</text>
<text x="860.6" y="209.8" font-size="10" letter-spacing="0.35">30</text>
<text x="860.6" y="191.7" font-size="10" letter-spacing="0.35">40</text>
<text x="860.6" y="173.7" font-size="10" letter-spacing="0.35">50</text>
<text x="860.6" y="155.7" font-size="10" letter-spacing="0.35">60</text>
<text x="860.6" y="137.6" font-size="10" letter-spacing="0.35">70</text>
<text x="860.6" y="119.6" font-size="10" letter-spacing="0.35">80</text>
<text x="860.6" y="101.5" font-size="10" letter-spacing="0.35">90</text>
<text x="860.6" y="83.5" font-size="10" letter-spacing="0.35">100</text>
<text x="860.6" y="65.4" font-size="10" letter-spacing="0.35">110</text>
<text x="860.6" y="47.4" font-size="10" letter-spacing="0.35">120</text>
<text x="844.6" y="38.4" text-anchor="middle" font-size="12" letter-spacing="0.3">ppbV</text>
<g transform="translate(0,353)" shape-rendering="crispEdges">
<rect x="390.5" y="259.66" width="8" height="2.24" fill="#e4e4e4"/>
<rect x="390.5" y="257.82" width="8" height="2.24" fill="#e4e4e3"/>
<rect x="390.5" y="255.99" width="8" height="2.24" fill="#e5e4de"/>
<rect x="390.5" y="254.15" width="8" height="2.24" fill="#e6e4d9"/>
<rect x="390.5" y="252.31" width="8" height="2.24" fill="#e6e4d4"/>
<rect x="390.5" y="250.47" width="8" height="2.24" fill="#e7e4d0"/>
<rect x="390.5" y="248.64" width="8" height="2.24" fill="#e8e4cb"/>
<rect x="390.5" y="246.80" width="8" height="2.24" fill="#e8e4c5"/>
<rect x="390.5" y="244.96" width="8" height="2.24" fill="#e9e4be"/>
<rect x="390.5" y="243.12" width="8" height="2.24" fill="#eae3b8"/>
<rect x="390.5" y="241.29" width="8" height="2.24" fill="#eae3b1"/>
<rect x="390.5" y="239.45" width="8" height="2.24" fill="#ebe3aa"/>
<rect x="390.5" y="237.61" width="8" height="2.24" fill="#ece2a3"/>
<rect x="390.5" y="235.78" width="8" height="2.24" fill="#ece29c"/>
<rect x="390.5" y="233.94" width="8" height="2.24" fill="#ede194"/>
<rect x="390.5" y="232.10" width="8" height="2.24" fill="#eee18b"/>
<rect x="390.5" y="230.26" width="8" height="2.24" fill="#eee183"/>
<rect x="390.5" y="228.43" width="8" height="2.24" fill="#efe07b"/>
<rect x="390.5" y="226.59" width="8" height="2.24" fill="#f0e073"/>
<rect x="390.5" y="224.75" width="8" height="2.24" fill="#f0e06b"/>
<rect x="390.5" y="222.91" width="8" height="2.24" fill="#f0e063"/>
<rect x="390.5" y="221.07" width="8" height="2.24" fill="#f0e05b"/>
<rect x="390.5" y="219.24" width="8" height="2.24" fill="#f0e052"/>
<rect x="390.5" y="217.40" width="8" height="2.24" fill="#f0e04a"/>
<rect x="390.5" y="215.56" width="8" height="2.24" fill="#f0e042"/>
<rect x="390.5" y="213.72" width="8" height="2.24" fill="#f0de3e"/>
<rect x="390.5" y="211.89" width="8" height="2.24" fill="#f0db3b"/>
<rect x="390.5" y="210.05" width="8" height="2.24" fill="#f0d939"/>
<rect x="390.5" y="208.21" width="8" height="2.24" fill="#f0d636"/>
<rect x="390.5" y="206.38" width="8" height="2.24" fill="#f0d333"/>
<rect x="390.5" y="204.54" width="8" height="2.24" fill="#f0d030"/>
<rect x="390.5" y="202.70" width="8" height="2.24" fill="#efce2e"/>
<rect x="390.5" y="200.86" width="8" height="2.24" fill="#efcb2b"/>
<rect x="390.5" y="199.03" width="8" height="2.24" fill="#eec828"/>
<rect x="390.5" y="197.19" width="8" height="2.24" fill="#edc626"/>
<rect x="390.5" y="195.35" width="8" height="2.24" fill="#edc323"/>
<rect x="390.5" y="193.51" width="8" height="2.24" fill="#ecc020"/>
<rect x="390.5" y="191.68" width="8" height="2.24" fill="#ebbd1f"/>
<rect x="390.5" y="189.84" width="8" height="2.24" fill="#ebbb1d"/>
<rect x="390.5" y="188.00" width="8" height="2.24" fill="#eab81c"/>
<rect x="390.5" y="186.16" width="8" height="2.24" fill="#e9b51b"/>
<rect x="390.5" y="184.32" width="8" height="2.24" fill="#e9b319"/>
<rect x="390.5" y="182.49" width="8" height="2.24" fill="#e8b018"/>
<rect x="390.5" y="180.65" width="8" height="2.24" fill="#e8ad17"/>
<rect x="390.5" y="178.81" width="8" height="2.24" fill="#e8aa15"/>
<rect x="390.5" y="176.98" width="8" height="2.24" fill="#e8a814"/>
<rect x="390.5" y="175.14" width="8" height="2.24" fill="#e8a512"/>
<rect x="390.5" y="173.30" width="8" height="2.24" fill="#e8a211"/>
<rect x="390.5" y="171.46" width="8" height="2.24" fill="#e8a010"/>
<rect x="390.5" y="169.62" width="8" height="2.24" fill="#e79d0e"/>
<rect x="390.5" y="167.79" width="8" height="2.24" fill="#e79a0d"/>
<rect x="390.5" y="165.95" width="8" height="2.24" fill="#e6970c"/>
<rect x="390.5" y="164.11" width="8" height="2.24" fill="#e5950a"/>
<rect x="390.5" y="162.28" width="8" height="2.24" fill="#e49209"/>
<rect x="390.5" y="160.44" width="8" height="2.24" fill="#e48f08"/>
<rect x="390.5" y="158.60" width="8" height="2.24" fill="#e38d06"/>
<rect x="390.5" y="156.76" width="8" height="2.24" fill="#e28a05"/>
<rect x="390.5" y="154.93" width="8" height="2.24" fill="#e28704"/>
<rect x="390.5" y="153.09" width="8" height="2.24" fill="#e18402"/>
<rect x="390.5" y="151.25" width="8" height="2.24" fill="#e08201"/>
<rect x="390.5" y="149.41" width="8" height="2.24" fill="#e07f00"/>
<rect x="390.5" y="147.57" width="8" height="2.24" fill="#df7c00"/>
<rect x="390.5" y="145.74" width="8" height="2.24" fill="#de7a00"/>
<rect x="390.5" y="143.90" width="8" height="2.24" fill="#de7700"/>
<rect x="390.5" y="142.06" width="8" height="2.24" fill="#dd7400"/>
<rect x="390.5" y="140.23" width="8" height="2.24" fill="#dc7100"/>
<rect x="390.5" y="138.39" width="8" height="2.24" fill="#dc6f01"/>
<rect x="390.5" y="136.55" width="8" height="2.24" fill="#db6e02"/>
<rect x="390.5" y="134.71" width="8" height="2.24" fill="#da6d03"/>
<rect x="390.5" y="132.88" width="8" height="2.24" fill="#da6b05"/>
<rect x="390.5" y="131.04" width="8" height="2.24" fill="#d96a06"/>
<rect x="390.5" y="129.20" width="8" height="2.24" fill="#d86907"/>
<rect x="390.5" y="127.36" width="8" height="2.24" fill="#d7680c"/>
<rect x="390.5" y="125.53" width="8" height="2.24" fill="#d66813"/>
<rect x="390.5" y="123.69" width="8" height="2.24" fill="#d4681a"/>
<rect x="390.5" y="121.85" width="8" height="2.24" fill="#d36821"/>
<rect x="390.5" y="120.01" width="8" height="2.24" fill="#d26827"/>
<rect x="390.5" y="118.18" width="8" height="2.24" fill="#d0682e"/>
<rect x="390.5" y="116.34" width="8" height="2.24" fill="#d06835"/>
<rect x="390.5" y="114.50" width="8" height="2.24" fill="#cf683c"/>
<rect x="390.5" y="112.66" width="8" height="2.24" fill="#ce6842"/>
<rect x="390.5" y="110.83" width="8" height="2.24" fill="#cd6849"/>
<rect x="390.5" y="108.99" width="8" height="2.24" fill="#cd6850"/>
<rect x="390.5" y="107.15" width="8" height="2.24" fill="#cc6857"/>
<rect x="390.5" y="105.31" width="8" height="2.24" fill="#cb695e"/>
<rect x="390.5" y="103.47" width="8" height="2.24" fill="#cb6a64"/>
<rect x="390.5" y="101.64" width="8" height="2.24" fill="#ca6c6b"/>
<rect x="390.5" y="99.80" width="8" height="2.24" fill="#c96d72"/>
<rect x="390.5" y="97.96" width="8" height="2.24" fill="#c96f79"/>
<rect x="390.5" y="96.12" width="8" height="2.24" fill="#c87080"/>
<rect x="390.5" y="94.29" width="8" height="2.24" fill="#c87085"/>
<rect x="390.5" y="92.45" width="8" height="2.24" fill="#c8708b"/>
<rect x="390.5" y="90.61" width="8" height="2.24" fill="#c87090"/>
<rect x="390.5" y="88.78" width="8" height="2.24" fill="#c87095"/>
<rect x="390.5" y="86.94" width="8" height="2.24" fill="#c8709b"/>
<rect x="390.5" y="85.10" width="8" height="2.24" fill="#c870a0"/>
<rect x="390.5" y="83.26" width="8" height="2.24" fill="#c96c9c"/>
<rect x="390.5" y="81.43" width="8" height="2.24" fill="#cb6898"/>
<rect x="390.5" y="79.59" width="8" height="2.24" fill="#cc6494"/>
<rect x="390.5" y="77.75" width="8" height="2.24" fill="#cd6090"/>
<rect x="390.5" y="75.91" width="8" height="2.24" fill="#cf5b8b"/>
<rect x="390.5" y="74.08" width="8" height="2.24" fill="#d05787"/>
<rect x="390.5" y="72.24" width="8" height="2.24" fill="#d3527f"/>
<rect x="390.5" y="70.40" width="8" height="2.24" fill="#d64c76"/>
<rect x="390.5" y="68.56" width="8" height="2.24" fill="#d9476e"/>
<rect x="390.5" y="66.73" width="8" height="2.24" fill="#db4166"/>
<rect x="390.5" y="64.89" width="8" height="2.24" fill="#de3c5e"/>
<rect x="390.5" y="63.05" width="8" height="2.24" fill="#e13756"/>
<rect x="390.5" y="61.21" width="8" height="2.24" fill="#e3314f"/>
<rect x="390.5" y="59.38" width="8" height="2.24" fill="#e62c49"/>
<rect x="390.5" y="57.54" width="8" height="2.24" fill="#e92642"/>
<rect x="390.5" y="55.70" width="8" height="2.24" fill="#ec213b"/>
<rect x="390.5" y="53.86" width="8" height="2.24" fill="#ee1b34"/>
<rect x="390.5" y="52.03" width="8" height="2.24" fill="#f1162d"/>
<rect x="390.5" y="50.19" width="8" height="2.24" fill="#f31225"/>
<rect x="390.5" y="48.35" width="8" height="2.24" fill="#f60e1d"/>
<rect x="390.5" y="46.51" width="8" height="2.24" fill="#f90a15"/>
<rect x="390.5" y="44.68" width="8" height="2.24" fill="#fb060c"/>
<rect x="390.5" y="42.84" width="8" height="2.24" fill="#fe0204"/>
<rect x="390.5" y="41.00" width="8" height="2.24" fill="#ff0000"/>
</g>
<path d="M390.5 394.0V614.5H398.5M390.5 394.0H398.5" fill="none" stroke="#555" stroke-width="0.75"/>
<path d="M398.5 394.0V614.5M398.5 612.5h6.5M398.5 581.5h6.5M398.5 550.5h6.5M398.5 519.5h6.5M398.5 488.5h6.5M398.5 457.5h6.5M398.5 426.5h6.5M398.5 395.5h6.5" stroke="#000" stroke-width="0.8" fill="none"/>
<text x="410.6" y="616.9" font-size="10" letter-spacing="0.35">0</text>
<text x="410.6" y="586.0" font-size="10" letter-spacing="0.35">5</text>
<text x="410.6" y="555.0" font-size="10" letter-spacing="0.35">10</text>
<text x="410.6" y="524.1" font-size="10" letter-spacing="0.35">15</text>
<text x="410.6" y="493.2" font-size="10" letter-spacing="0.35">20</text>
<text x="410.6" y="462.3" font-size="10" letter-spacing="0.35">25</text>
<text x="410.6" y="431.3" font-size="10" letter-spacing="0.35">30</text>
<text x="410.6" y="400.4" font-size="10" letter-spacing="0.35">35</text>
<text x="394.6" y="391.4" text-anchor="middle" font-size="12" letter-spacing="0.3">ppbV</text>
<g transform="translate(450,353)" shape-rendering="crispEdges">
<rect x="390.5" y="259.66" width="8" height="2.24" fill="#e4e4e4"/>
<rect x="390.5" y="257.82" width="8" height="2.24" fill="#e4e4e3"/>
<rect x="390.5" y="255.99" width="8" height="2.24" fill="#e5e4de"/>
<rect x="390.5" y="254.15" width="8" height="2.24" fill="#e6e4d9"/>
<rect x="390.5" y="252.31" width="8" height="2.24" fill="#e6e4d4"/>
<rect x="390.5" y="250.47" width="8" height="2.24" fill="#e7e4d0"/>
<rect x="390.5" y="248.64" width="8" height="2.24" fill="#e8e4cb"/>
<rect x="390.5" y="246.80" width="8" height="2.24" fill="#e8e4c5"/>
<rect x="390.5" y="244.96" width="8" height="2.24" fill="#e9e4be"/>
<rect x="390.5" y="243.12" width="8" height="2.24" fill="#eae3b8"/>
<rect x="390.5" y="241.29" width="8" height="2.24" fill="#eae3b1"/>
<rect x="390.5" y="239.45" width="8" height="2.24" fill="#ebe3aa"/>
<rect x="390.5" y="237.61" width="8" height="2.24" fill="#ece2a3"/>
<rect x="390.5" y="235.78" width="8" height="2.24" fill="#ece29c"/>
<rect x="390.5" y="233.94" width="8" height="2.24" fill="#ede194"/>
<rect x="390.5" y="232.10" width="8" height="2.24" fill="#eee18b"/>
<rect x="390.5" y="230.26" width="8" height="2.24" fill="#eee183"/>
<rect x="390.5" y="228.43" width="8" height="2.24" fill="#efe07b"/>
<rect x="390.5" y="226.59" width="8" height="2.24" fill="#f0e073"/>
<rect x="390.5" y="224.75" width="8" height="2.24" fill="#f0e06b"/>
<rect x="390.5" y="222.91" width="8" height="2.24" fill="#f0e063"/>
<rect x="390.5" y="221.07" width="8" height="2.24" fill="#f0e05b"/>
<rect x="390.5" y="219.24" width="8" height="2.24" fill="#f0e052"/>
<rect x="390.5" y="217.40" width="8" height="2.24" fill="#f0e04a"/>
<rect x="390.5" y="215.56" width="8" height="2.24" fill="#f0e042"/>
<rect x="390.5" y="213.72" width="8" height="2.24" fill="#f0de3e"/>
<rect x="390.5" y="211.89" width="8" height="2.24" fill="#f0db3b"/>
<rect x="390.5" y="210.05" width="8" height="2.24" fill="#f0d939"/>
<rect x="390.5" y="208.21" width="8" height="2.24" fill="#f0d636"/>
<rect x="390.5" y="206.38" width="8" height="2.24" fill="#f0d333"/>
<rect x="390.5" y="204.54" width="8" height="2.24" fill="#f0d030"/>
<rect x="390.5" y="202.70" width="8" height="2.24" fill="#efce2e"/>
<rect x="390.5" y="200.86" width="8" height="2.24" fill="#efcb2b"/>
<rect x="390.5" y="199.03" width="8" height="2.24" fill="#eec828"/>
<rect x="390.5" y="197.19" width="8" height="2.24" fill="#edc626"/>
<rect x="390.5" y="195.35" width="8" height="2.24" fill="#edc323"/>
<rect x="390.5" y="193.51" width="8" height="2.24" fill="#ecc020"/>
<rect x="390.5" y="191.68" width="8" height="2.24" fill="#ebbd1f"/>
<rect x="390.5" y="189.84" width="8" height="2.24" fill="#ebbb1d"/>
<rect x="390.5" y="188.00" width="8" height="2.24" fill="#eab81c"/>
<rect x="390.5" y="186.16" width="8" height="2.24" fill="#e9b51b"/>
<rect x="390.5" y="184.32" width="8" height="2.24" fill="#e9b319"/>
<rect x="390.5" y="182.49" width="8" height="2.24" fill="#e8b018"/>
<rect x="390.5" y="180.65" width="8" height="2.24" fill="#e8ad17"/>
<rect x="390.5" y="178.81" width="8" height="2.24" fill="#e8aa15"/>
<rect x="390.5" y="176.98" width="8" height="2.24" fill="#e8a814"/>
<rect x="390.5" y="175.14" width="8" height="2.24" fill="#e8a512"/>
<rect x="390.5" y="173.30" width="8" height="2.24" fill="#e8a211"/>
<rect x="390.5" y="171.46" width="8" height="2.24" fill="#e8a010"/>
<rect x="390.5" y="169.62" width="8" height="2.24" fill="#e79d0e"/>
<rect x="390.5" y="167.79" width="8" height="2.24" fill="#e79a0d"/>
<rect x="390.5" y="165.95" width="8" height="2.24" fill="#e6970c"/>
<rect x="390.5" y="164.11" width="8" height="2.24" fill="#e5950a"/>
<rect x="390.5" y="162.28" width="8" height="2.24" fill="#e49209"/>
<rect x="390.5" y="160.44" width="8" height="2.24" fill="#e48f08"/>
<rect x="390.5" y="158.60" width="8" height="2.24" fill="#e38d06"/>
<rect x="390.5" y="156.76" width="8" height="2.24" fill="#e28a05"/>
<rect x="390.5" y="154.93" width="8" height="2.24" fill="#e28704"/>
<rect x="390.5" y="153.09" width="8" height="2.24" fill="#e18402"/>
<rect x="390.5" y="151.25" width="8" height="2.24" fill="#e08201"/>
<rect x="390.5" y="149.41" width="8" height="2.24" fill="#e07f00"/>
<rect x="390.5" y="147.57" width="8" height="2.24" fill="#df7c00"/>
<rect x="390.5" y="145.74" width="8" height="2.24" fill="#de7a00"/>
<rect x="390.5" y="143.90" width="8" height="2.24" fill="#de7700"/>
<rect x="390.5" y="142.06" width="8" height="2.24" fill="#dd7400"/>
<rect x="390.5" y="140.23" width="8" height="2.24" fill="#dc7100"/>
<rect x="390.5" y="138.39" width="8" height="2.24" fill="#dc6f01"/>
<rect x="390.5" y="136.55" width="8" height="2.24" fill="#db6e02"/>
<rect x="390.5" y="134.71" width="8" height="2.24" fill="#da6d03"/>
<rect x="390.5" y="132.88" width="8" height="2.24" fill="#da6b05"/>
<rect x="390.5" y="131.04" width="8" height="2.24" fill="#d96a06"/>
<rect x="390.5" y="129.20" width="8" height="2.24" fill="#d86907"/>
<rect x="390.5" y="127.36" width="8" height="2.24" fill="#d7680c"/>
<rect x="390.5" y="125.53" width="8" height="2.24" fill="#d66813"/>
<rect x="390.5" y="123.69" width="8" height="2.24" fill="#d4681a"/>
<rect x="390.5" y="121.85" width="8" height="2.24" fill="#d36821"/>
<rect x="390.5" y="120.01" width="8" height="2.24" fill="#d26827"/>
<rect x="390.5" y="118.18" width="8" height="2.24" fill="#d0682e"/>
<rect x="390.5" y="116.34" width="8" height="2.24" fill="#d06835"/>
<rect x="390.5" y="114.50" width="8" height="2.24" fill="#cf683c"/>
<rect x="390.5" y="112.66" width="8" height="2.24" fill="#ce6842"/>
<rect x="390.5" y="110.83" width="8" height="2.24" fill="#cd6849"/>
<rect x="390.5" y="108.99" width="8" height="2.24" fill="#cd6850"/>
<rect x="390.5" y="107.15" width="8" height="2.24" fill="#cc6857"/>
<rect x="390.5" y="105.31" width="8" height="2.24" fill="#cb695e"/>
<rect x="390.5" y="103.47" width="8" height="2.24" fill="#cb6a64"/>
<rect x="390.5" y="101.64" width="8" height="2.24" fill="#ca6c6b"/>
<rect x="390.5" y="99.80" width="8" height="2.24" fill="#c96d72"/>
<rect x="390.5" y="97.96" width="8" height="2.24" fill="#c96f79"/>
<rect x="390.5" y="96.12" width="8" height="2.24" fill="#c87080"/>
<rect x="390.5" y="94.29" width="8" height="2.24" fill="#c87085"/>
<rect x="390.5" y="92.45" width="8" height="2.24" fill="#c8708b"/>
<rect x="390.5" y="90.61" width="8" height="2.24" fill="#c87090"/>
<rect x="390.5" y="88.78" width="8" height="2.24" fill="#c87095"/>
<rect x="390.5" y="86.94" width="8" height="2.24" fill="#c8709b"/>
<rect x="390.5" y="85.10" width="8" height="2.24" fill="#c870a0"/>
<rect x="390.5" y="83.26" width="8" height="2.24" fill="#c96c9c"/>
<rect x="390.5" y="81.43" width="8" height="2.24" fill="#cb6898"/>
<rect x="390.5" y="79.59" width="8" height="2.24" fill="#cc6494"/>
<rect x="390.5" y="77.75" width="8" height="2.24" fill="#cd6090"/>
<rect x="390.5" y="75.91" width="8" height="2.24" fill="#cf5b8b"/>
<rect x="390.5" y="74.08" width="8" height="2.24" fill="#d05787"/>
<rect x="390.5" y="72.24" width="8" height="2.24" fill="#d3527f"/>
<rect x="390.5" y="70.40" width="8" height="2.24" fill="#d64c76"/>
<rect x="390.5" y="68.56" width="8" height="2.24" fill="#d9476e"/>
<rect x="390.5" y="66.73" width="8" height="2.24" fill="#db4166"/>
<rect x="390.5" y="64.89" width="8" height="2.24" fill="#de3c5e"/>
<rect x="390.5" y="63.05" width="8" height="2.24" fill="#e13756"/>
<rect x="390.5" y="61.21" width="8" height="2.24" fill="#e3314f"/>
<rect x="390.5" y="59.38" width="8" height="2.24" fill="#e62c49"/>
<rect x="390.5" y="57.54" width="8" height="2.24" fill="#e92642"/>
<rect x="390.5" y="55.70" width="8" height="2.24" fill="#ec213b"/>
<rect x="390.5" y="53.86" width="8" height="2.24" fill="#ee1b34"/>
<rect x="390.5" y="52.03" width="8" height="2.24" fill="#f1162d"/>
<rect x="390.5" y="50.19" width="8" height="2.24" fill="#f31225"/>
<rect x="390.5" y="48.35" width="8" height="2.24" fill="#f60e1d"/>
<rect x="390.5" y="46.51" width="8" height="2.24" fill="#f90a15"/>
<rect x="390.5" y="44.68" width="8" height="2.24" fill="#fb060c"/>
<rect x="390.5" y="42.84" width="8" height="2.24" fill="#fe0204"/>
<rect x="390.5" y="41.00" width="8" height="2.24" fill="#ff0000"/>
</g>
<path d="M840.5 394.0V614.5H848.5M840.5 394.0H848.5" fill="none" stroke="#555" stroke-width="0.75"/>
<path d="M848.5 394.0V614.5M848.5 612.5h6.5M848.5 590.5h6.5M848.5 569.5h6.5M848.5 547.5h6.5M848.5 525.5h6.5M848.5 504.5h6.5M848.5 482.5h6.5M848.5 460.5h6.5M848.5 439.5h6.5M848.5 417.5h6.5M848.5 395.5h6.5" stroke="#000" stroke-width="0.8" fill="none"/>
<text x="860.6" y="616.9" font-size="10" letter-spacing="0.35">0</text>
<text x="860.6" y="595.2" font-size="10" letter-spacing="0.35">10</text>
<text x="860.6" y="573.6" font-size="10" letter-spacing="0.35">20</text>
<text x="860.6" y="551.9" font-size="10" letter-spacing="0.35">30</text>
<text x="860.6" y="530.3" font-size="10" letter-spacing="0.35">40</text>
<text x="860.6" y="508.7" font-size="10" letter-spacing="0.35">50</text>
<text x="860.6" y="487.0" font-size="10" letter-spacing="0.35">60</text>
<text x="860.6" y="465.4" font-size="10" letter-spacing="0.35">70</text>
<text x="860.6" y="443.7" font-size="10" letter-spacing="0.35">80</text>
<text x="860.6" y="422.1" font-size="10" letter-spacing="0.35">90</text>
<text x="860.6" y="400.4" font-size="10" letter-spacing="0.35">100</text>
<text x="844.6" y="391.4" text-anchor="middle" font-size="12" letter-spacing="0.3">%</text>
</svg>
</body></html>
